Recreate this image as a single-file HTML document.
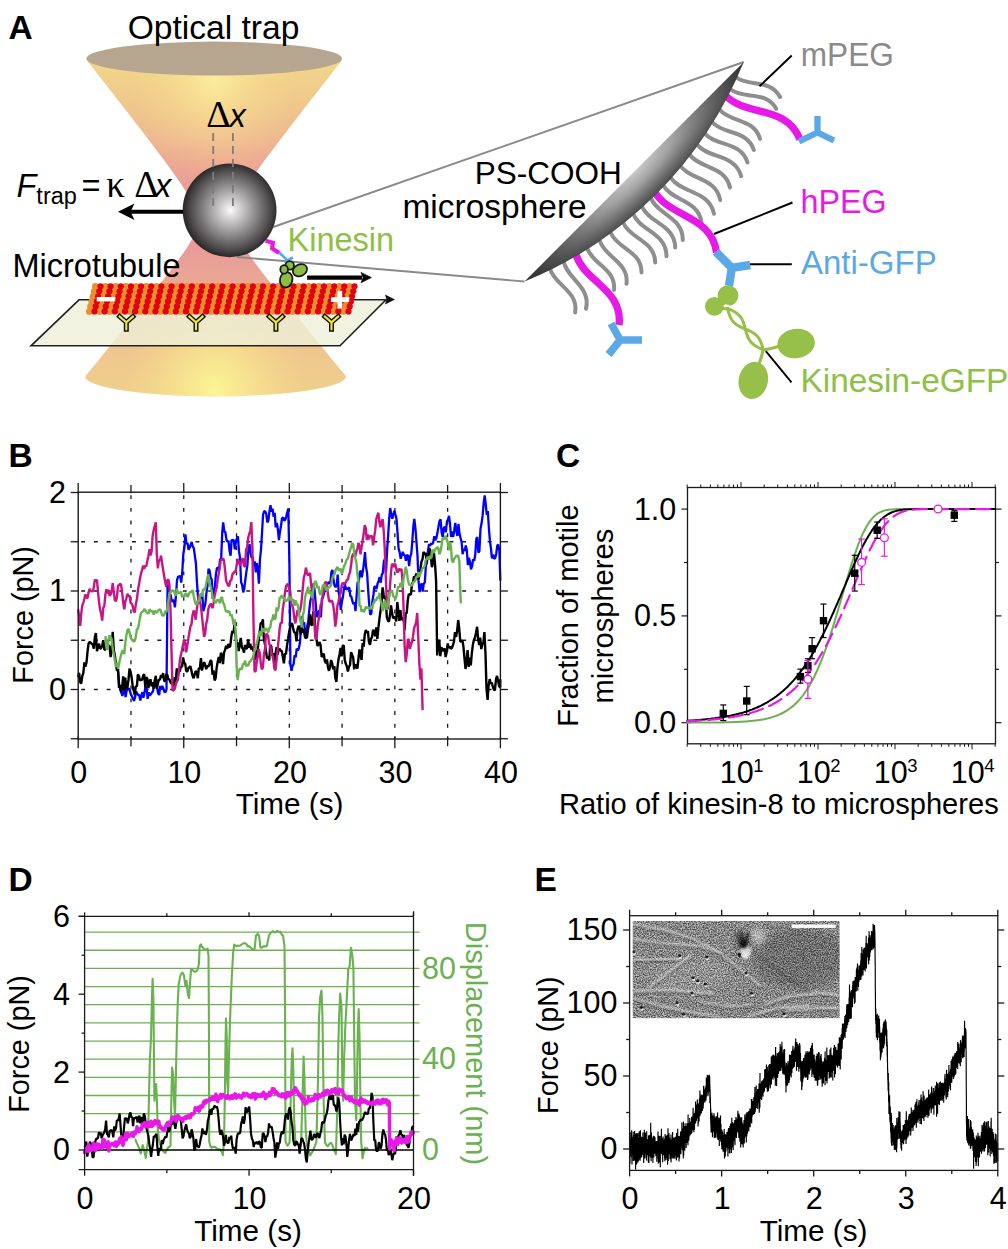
<!DOCTYPE html>
<html><head><meta charset="utf-8"><title>Figure</title>
<style>html,body{margin:0;padding:0;background:#fff;}svg{display:block;}text{font-family:"Liberation Sans",sans-serif;}</style>
</head><body>
<svg width="1008" height="1249" viewBox="0 0 1008 1249">
<text x="8.50" y="39.00" font-size="33.5" fill="#000" text-anchor="start" font-weight="bold" font-style="normal" font-family="Liberation Sans, sans-serif" >A</text>
<text x="8.50" y="467.00" font-size="33.5" fill="#000" text-anchor="start" font-weight="bold" font-style="normal" font-family="Liberation Sans, sans-serif" >B</text>
<text x="556.00" y="467.00" font-size="33.5" fill="#000" text-anchor="start" font-weight="bold" font-style="normal" font-family="Liberation Sans, sans-serif" >C</text>
<text x="8.50" y="891.00" font-size="33.5" fill="#000" text-anchor="start" font-weight="bold" font-style="normal" font-family="Liberation Sans, sans-serif" >D</text>
<text x="534.50" y="891.00" font-size="33.5" fill="#000" text-anchor="start" font-weight="bold" font-style="normal" font-family="Liberation Sans, sans-serif" >E</text>
<defs>
<linearGradient id="coneU" x1="0" y1="60" x2="0" y2="222" gradientUnits="userSpaceOnUse">
 <stop offset="0" stop-color="#f2d68a"/><stop offset="0.25" stop-color="#f0c98c"/><stop offset="0.45" stop-color="#eebb90"/><stop offset="0.6" stop-color="#edab93"/><stop offset="0.75" stop-color="#ea9f97"/><stop offset="1" stop-color="#e8959a"/></linearGradient>
<linearGradient id="coneL" x1="0" y1="395" x2="0" y2="212" gradientUnits="userSpaceOnUse">
 <stop offset="0" stop-color="#efd08c"/><stop offset="0.25" stop-color="#efc68e"/><stop offset="0.45" stop-color="#edb891"/><stop offset="0.6" stop-color="#eba994"/><stop offset="0.75" stop-color="#e99e98"/><stop offset="1" stop-color="#e8959a"/></linearGradient>
<radialGradient id="hlU" cx="214" cy="78" r="84" gradientUnits="userSpaceOnUse" gradientTransform="translate(214 78) scale(1 1.2) translate(-214 -78)">
 <stop offset="0" stop-color="#fdf2a2" stop-opacity="0.85"/><stop offset="0.45" stop-color="#fbe894" stop-opacity="0.4"/><stop offset="1" stop-color="#f8dc88" stop-opacity="0"/></radialGradient>
<radialGradient id="hlL" cx="215" cy="390" r="92" gradientUnits="userSpaceOnUse" gradientTransform="translate(215 390) scale(1 1.1) translate(-215 -390)">
 <stop offset="0" stop-color="#fcf596" stop-opacity="1"/><stop offset="0.45" stop-color="#fbec90" stop-opacity="0.55"/><stop offset="1" stop-color="#f8dc88" stop-opacity="0"/></radialGradient>
<radialGradient id="sph" cx="230.5" cy="210" r="47" gradientUnits="userSpaceOnUse">
 <stop offset="0" stop-color="#fbfbfb"/><stop offset="0.25" stop-color="#c8c6c6"/><stop offset="0.55" stop-color="#8a8888"/><stop offset="0.85" stop-color="#4c4a4a"/><stop offset="1" stop-color="#2a2828"/></radialGradient>
<radialGradient id="lensG" cx="0" cy="0" r="165" gradientUnits="userSpaceOnUse" gradientTransform="translate(636 170) rotate(-45) scale(1 0.25)">
 <stop offset="0" stop-color="#cacaca"/><stop offset="0.3" stop-color="#a2a2a2"/><stop offset="0.6" stop-color="#686868"/><stop offset="0.85" stop-color="#3c3c3c"/><stop offset="1" stop-color="#2c2c2c"/></radialGradient>
<radialGradient id="lensD" cx="630" cy="168" r="165" gradientUnits="userSpaceOnUse">
 <stop offset="0" stop-color="#222" stop-opacity="0"/><stop offset="0.45" stop-color="#222" stop-opacity="0.05"/><stop offset="1" stop-color="#222" stop-opacity="0.95"/></radialGradient>
<clipPath id="clU"><path d="M86.6,60.0 L89.7,64.0 L92.9,68.0 L96.0,72.0 L99.1,76.0 L102.2,80.0 L105.4,84.0 L108.5,88.0 L111.6,92.0 L114.7,96.0 L117.9,100.0 L121.0,104.0 L124.1,108.0 L127.2,112.0 L130.3,116.0 L133.4,120.0 L136.5,124.0 L139.6,128.0 L142.6,132.0 L145.7,136.0 L148.8,140.0 L151.8,144.0 L154.8,148.0 L157.9,152.0 L160.9,156.0 L163.9,160.0 L166.8,164.0 L169.8,168.0 L172.7,172.0 L175.5,176.0 L178.3,180.0 L181.1,184.0 L183.7,188.0 L186.3,192.0 L188.7,196.0 L191.0,200.0 L193.0,204.0 L194.7,208.0 L196.0,212.0 L196.8,216.0 L197.1,220.0 L231.7,220.0 L232.0,216.0 L232.8,212.0 L234.1,208.0 L235.8,204.0 L237.8,200.0 L240.1,196.0 L242.5,192.0 L245.1,188.0 L247.7,184.0 L250.5,180.0 L253.3,176.0 L256.1,172.0 L259.0,168.0 L262.0,164.0 L264.9,160.0 L267.9,156.0 L270.9,152.0 L274.0,148.0 L277.0,144.0 L280.0,140.0 L283.1,136.0 L286.2,132.0 L289.2,128.0 L292.3,124.0 L295.4,120.0 L298.5,116.0 L301.6,112.0 L304.7,108.0 L307.8,104.0 L310.9,100.0 L314.1,96.0 L317.2,92.0 L320.3,88.0 L323.4,84.0 L326.6,80.0 L329.7,76.0 L332.8,72.0 L335.9,68.0 L339.1,64.0 L342.2,60.0 Z"/></clipPath>
<clipPath id="clL"><path d="M232.9,220.0 L233.2,223.9 L234.1,227.8 L235.4,231.7 L237.2,235.7 L239.3,239.6 L241.6,243.5 L244.1,247.4 L246.7,251.3 L249.5,255.2 L252.3,259.1 L255.2,263.0 L258.1,266.9 L261.1,270.9 L264.1,274.8 L267.1,278.7 L270.1,282.6 L273.2,286.5 L276.3,290.4 L279.4,294.3 L282.5,298.2 L285.7,302.2 L288.8,306.1 L292.0,310.0 L295.1,313.9 L298.3,317.8 L301.4,321.7 L304.6,325.6 L307.8,329.6 L310.9,333.5 L314.1,337.4 L317.3,341.3 L320.5,345.2 L323.7,349.1 L326.9,353.0 L330.1,356.9 L333.3,360.9 L336.5,364.8 L339.7,368.7 L342.9,372.6 L346.1,376.5 A130.5,19.8 0 0 1 85.1,376.5 L85.1,376.5 L88.3,372.6 L91.5,368.7 L94.7,364.8 L97.9,360.9 L101.1,356.9 L104.3,353.0 L107.5,349.1 L110.7,345.2 L113.9,341.3 L117.1,337.4 L120.3,333.5 L123.4,329.6 L126.6,325.6 L129.8,321.7 L132.9,317.8 L136.1,313.9 L139.2,310.0 L142.4,306.1 L145.5,302.2 L148.7,298.2 L151.8,294.3 L154.9,290.4 L158.0,286.5 L161.1,282.6 L164.1,278.7 L167.1,274.8 L170.1,270.9 L173.1,266.9 L176.0,263.0 L178.9,259.1 L181.7,255.2 L184.5,251.3 L187.1,247.4 L189.6,243.5 L191.9,239.6 L194.0,235.7 L195.8,231.7 L197.1,227.8 L198.0,223.9 L198.3,220.0 Z"/></clipPath>
<clipPath id="clMT"><rect x="85" y="282.5" width="274.5" height="32.2" rx="8"/></clipPath>
</defs>
<path d="M232.9,220.0 L233.2,223.9 L234.1,227.8 L235.4,231.7 L237.2,235.7 L239.3,239.6 L241.6,243.5 L244.1,247.4 L246.7,251.3 L249.5,255.2 L252.3,259.1 L255.2,263.0 L258.1,266.9 L261.1,270.9 L264.1,274.8 L267.1,278.7 L270.1,282.6 L273.2,286.5 L276.3,290.4 L279.4,294.3 L282.5,298.2 L285.7,302.2 L288.8,306.1 L292.0,310.0 L295.1,313.9 L298.3,317.8 L301.4,321.7 L304.6,325.6 L307.8,329.6 L310.9,333.5 L314.1,337.4 L317.3,341.3 L320.5,345.2 L323.7,349.1 L326.9,353.0 L330.1,356.9 L333.3,360.9 L336.5,364.8 L339.7,368.7 L342.9,372.6 L346.1,376.5 A130.5,19.8 0 0 1 85.1,376.5 L85.1,376.5 L88.3,372.6 L91.5,368.7 L94.7,364.8 L97.9,360.9 L101.1,356.9 L104.3,353.0 L107.5,349.1 L110.7,345.2 L113.9,341.3 L117.1,337.4 L120.3,333.5 L123.4,329.6 L126.6,325.6 L129.8,321.7 L132.9,317.8 L136.1,313.9 L139.2,310.0 L142.4,306.1 L145.5,302.2 L148.7,298.2 L151.8,294.3 L154.9,290.4 L158.0,286.5 L161.1,282.6 L164.1,278.7 L167.1,274.8 L170.1,270.9 L173.1,266.9 L176.0,263.0 L178.9,259.1 L181.7,255.2 L184.5,251.3 L187.1,247.4 L189.6,243.5 L191.9,239.6 L194.0,235.7 L195.8,231.7 L197.1,227.8 L198.0,223.9 L198.3,220.0 Z" fill="url(#coneL)"/>
<rect x="80" y="205" width="270" height="195" fill="url(#hlL)" clip-path="url(#clL)"/>
<path d="M79,299.8 L386,299.8 L340,345.8 L31,345.8 Z" fill="#eef0d8" fill-opacity="0.8" stroke="#222" stroke-width="1.6" stroke-linejoin="miter"/>
<path d="M395,299.6 L385,294.6 L386.5,299.6 L385,304.6 Z" fill="#111"/>
<path d="M86.6,60.0 L89.7,64.0 L92.9,68.0 L96.0,72.0 L99.1,76.0 L102.2,80.0 L105.4,84.0 L108.5,88.0 L111.6,92.0 L114.7,96.0 L117.9,100.0 L121.0,104.0 L124.1,108.0 L127.2,112.0 L130.3,116.0 L133.4,120.0 L136.5,124.0 L139.6,128.0 L142.6,132.0 L145.7,136.0 L148.8,140.0 L151.8,144.0 L154.8,148.0 L157.9,152.0 L160.9,156.0 L163.9,160.0 L166.8,164.0 L169.8,168.0 L172.7,172.0 L175.5,176.0 L178.3,180.0 L181.1,184.0 L183.7,188.0 L186.3,192.0 L188.7,196.0 L191.0,200.0 L193.0,204.0 L194.7,208.0 L196.0,212.0 L196.8,216.0 L197.1,220.0 L231.7,220.0 L232.0,216.0 L232.8,212.0 L234.1,208.0 L235.8,204.0 L237.8,200.0 L240.1,196.0 L242.5,192.0 L245.1,188.0 L247.7,184.0 L250.5,180.0 L253.3,176.0 L256.1,172.0 L259.0,168.0 L262.0,164.0 L264.9,160.0 L267.9,156.0 L270.9,152.0 L274.0,148.0 L277.0,144.0 L280.0,140.0 L283.1,136.0 L286.2,132.0 L289.2,128.0 L292.3,124.0 L295.4,120.0 L298.5,116.0 L301.6,112.0 L304.7,108.0 L307.8,104.0 L310.9,100.0 L314.1,96.0 L317.2,92.0 L320.3,88.0 L323.4,84.0 L326.6,80.0 L329.7,76.0 L332.8,72.0 L335.9,68.0 L339.1,64.0 L342.2,60.0 Z" fill="url(#coneU)"/>
<rect x="80" y="55" width="270" height="170" fill="url(#hlU)" clip-path="url(#clU)"/>
<ellipse cx="214.2" cy="58.6" rx="127.8" ry="17" fill="#b6a68f"/>
<line x1="273.30" y1="227.00" x2="743.75" y2="62.00" stroke="#8a8a8a" stroke-width="1.9" />
<line x1="237.00" y1="257.00" x2="524.50" y2="281.50" stroke="#8a8a8a" stroke-width="1.9" />
<circle cx="229.6" cy="210.3" r="46.9" fill="url(#sph)"/>
<line x1="213.20" y1="133.00" x2="213.20" y2="210.50" stroke="#7c7c7c" stroke-width="1.8" stroke-dasharray="8,5"/>
<line x1="232.90" y1="133.00" x2="232.90" y2="210.50" stroke="#7c7c7c" stroke-width="1.8" stroke-dasharray="8,5"/>
<line x1="183.00" y1="211.70" x2="128.00" y2="211.70" stroke="#000" stroke-width="4" />
<path d="M118,211.7 L134.5,203.5 L130.5,211.7 L134.5,220 Z" fill="#000"/>
<g fill="#e98f2b"><circle cx="95.4" cy="286.3" r="3.4"/><circle cx="94.2" cy="291.3" r="3.4"/><circle cx="93.0" cy="296.3" r="3.4"/><circle cx="91.8" cy="301.4" r="3.4"/><circle cx="90.6" cy="306.4" r="3.4"/><circle cx="89.4" cy="311.4" r="3.4"/><circle cx="105.6" cy="286.3" r="3.4"/><circle cx="104.4" cy="291.3" r="3.4"/><circle cx="103.2" cy="296.3" r="3.4"/><circle cx="102.0" cy="301.4" r="3.4"/><circle cx="100.8" cy="306.4" r="3.4"/><circle cx="99.6" cy="311.4" r="3.4"/><circle cx="115.7" cy="286.3" r="3.4"/><circle cx="114.5" cy="291.3" r="3.4"/><circle cx="113.3" cy="296.3" r="3.4"/><circle cx="112.1" cy="301.4" r="3.4"/><circle cx="110.9" cy="306.4" r="3.4"/><circle cx="109.7" cy="311.4" r="3.4"/><circle cx="125.9" cy="286.3" r="3.4"/><circle cx="124.7" cy="291.3" r="3.4"/><circle cx="123.5" cy="296.3" r="3.4"/><circle cx="122.3" cy="301.4" r="3.4"/><circle cx="121.1" cy="306.4" r="3.4"/><circle cx="119.9" cy="311.4" r="3.4"/><circle cx="136.0" cy="286.3" r="3.4"/><circle cx="134.8" cy="291.3" r="3.4"/><circle cx="133.6" cy="296.3" r="3.4"/><circle cx="132.4" cy="301.4" r="3.4"/><circle cx="131.2" cy="306.4" r="3.4"/><circle cx="130.0" cy="311.4" r="3.4"/><circle cx="146.2" cy="286.3" r="3.4"/><circle cx="145.0" cy="291.3" r="3.4"/><circle cx="143.8" cy="296.3" r="3.4"/><circle cx="142.6" cy="301.4" r="3.4"/><circle cx="141.4" cy="306.4" r="3.4"/><circle cx="140.2" cy="311.4" r="3.4"/><circle cx="156.4" cy="286.3" r="3.4"/><circle cx="155.2" cy="291.3" r="3.4"/><circle cx="154.0" cy="296.3" r="3.4"/><circle cx="152.8" cy="301.4" r="3.4"/><circle cx="151.6" cy="306.4" r="3.4"/><circle cx="150.4" cy="311.4" r="3.4"/><circle cx="166.5" cy="286.3" r="3.4"/><circle cx="165.3" cy="291.3" r="3.4"/><circle cx="164.1" cy="296.3" r="3.4"/><circle cx="162.9" cy="301.4" r="3.4"/><circle cx="161.7" cy="306.4" r="3.4"/><circle cx="160.5" cy="311.4" r="3.4"/><circle cx="176.7" cy="286.3" r="3.4"/><circle cx="175.5" cy="291.3" r="3.4"/><circle cx="174.3" cy="296.3" r="3.4"/><circle cx="173.1" cy="301.4" r="3.4"/><circle cx="171.9" cy="306.4" r="3.4"/><circle cx="170.7" cy="311.4" r="3.4"/><circle cx="186.8" cy="286.3" r="3.4"/><circle cx="185.6" cy="291.3" r="3.4"/><circle cx="184.4" cy="296.3" r="3.4"/><circle cx="183.2" cy="301.4" r="3.4"/><circle cx="182.0" cy="306.4" r="3.4"/><circle cx="180.8" cy="311.4" r="3.4"/><circle cx="197.0" cy="286.3" r="3.4"/><circle cx="195.8" cy="291.3" r="3.4"/><circle cx="194.6" cy="296.3" r="3.4"/><circle cx="193.4" cy="301.4" r="3.4"/><circle cx="192.2" cy="306.4" r="3.4"/><circle cx="191.0" cy="311.4" r="3.4"/><circle cx="207.2" cy="286.3" r="3.4"/><circle cx="206.0" cy="291.3" r="3.4"/><circle cx="204.8" cy="296.3" r="3.4"/><circle cx="203.6" cy="301.4" r="3.4"/><circle cx="202.4" cy="306.4" r="3.4"/><circle cx="201.2" cy="311.4" r="3.4"/><circle cx="217.3" cy="286.3" r="3.4"/><circle cx="216.1" cy="291.3" r="3.4"/><circle cx="214.9" cy="296.3" r="3.4"/><circle cx="213.7" cy="301.4" r="3.4"/><circle cx="212.5" cy="306.4" r="3.4"/><circle cx="211.3" cy="311.4" r="3.4"/><circle cx="227.5" cy="286.3" r="3.4"/><circle cx="226.3" cy="291.3" r="3.4"/><circle cx="225.1" cy="296.3" r="3.4"/><circle cx="223.9" cy="301.4" r="3.4"/><circle cx="222.7" cy="306.4" r="3.4"/><circle cx="221.5" cy="311.4" r="3.4"/><circle cx="237.6" cy="286.3" r="3.4"/><circle cx="236.4" cy="291.3" r="3.4"/><circle cx="235.2" cy="296.3" r="3.4"/><circle cx="234.0" cy="301.4" r="3.4"/><circle cx="232.8" cy="306.4" r="3.4"/><circle cx="231.6" cy="311.4" r="3.4"/><circle cx="247.8" cy="286.3" r="3.4"/><circle cx="246.6" cy="291.3" r="3.4"/><circle cx="245.4" cy="296.3" r="3.4"/><circle cx="244.2" cy="301.4" r="3.4"/><circle cx="243.0" cy="306.4" r="3.4"/><circle cx="241.8" cy="311.4" r="3.4"/><circle cx="258.0" cy="286.3" r="3.4"/><circle cx="256.8" cy="291.3" r="3.4"/><circle cx="255.6" cy="296.3" r="3.4"/><circle cx="254.4" cy="301.4" r="3.4"/><circle cx="253.2" cy="306.4" r="3.4"/><circle cx="252.0" cy="311.4" r="3.4"/><circle cx="268.1" cy="286.3" r="3.4"/><circle cx="266.9" cy="291.3" r="3.4"/><circle cx="265.7" cy="296.3" r="3.4"/><circle cx="264.5" cy="301.4" r="3.4"/><circle cx="263.3" cy="306.4" r="3.4"/><circle cx="262.1" cy="311.4" r="3.4"/><circle cx="278.3" cy="286.3" r="3.4"/><circle cx="277.1" cy="291.3" r="3.4"/><circle cx="275.9" cy="296.3" r="3.4"/><circle cx="274.7" cy="301.4" r="3.4"/><circle cx="273.5" cy="306.4" r="3.4"/><circle cx="272.3" cy="311.4" r="3.4"/><circle cx="288.4" cy="286.3" r="3.4"/><circle cx="287.2" cy="291.3" r="3.4"/><circle cx="286.0" cy="296.3" r="3.4"/><circle cx="284.8" cy="301.4" r="3.4"/><circle cx="283.6" cy="306.4" r="3.4"/><circle cx="282.4" cy="311.4" r="3.4"/><circle cx="298.6" cy="286.3" r="3.4"/><circle cx="297.4" cy="291.3" r="3.4"/><circle cx="296.2" cy="296.3" r="3.4"/><circle cx="295.0" cy="301.4" r="3.4"/><circle cx="293.8" cy="306.4" r="3.4"/><circle cx="292.6" cy="311.4" r="3.4"/><circle cx="308.8" cy="286.3" r="3.4"/><circle cx="307.6" cy="291.3" r="3.4"/><circle cx="306.4" cy="296.3" r="3.4"/><circle cx="305.2" cy="301.4" r="3.4"/><circle cx="304.0" cy="306.4" r="3.4"/><circle cx="302.8" cy="311.4" r="3.4"/><circle cx="318.9" cy="286.3" r="3.4"/><circle cx="317.7" cy="291.3" r="3.4"/><circle cx="316.5" cy="296.3" r="3.4"/><circle cx="315.3" cy="301.4" r="3.4"/><circle cx="314.1" cy="306.4" r="3.4"/><circle cx="312.9" cy="311.4" r="3.4"/><circle cx="329.1" cy="286.3" r="3.4"/><circle cx="327.9" cy="291.3" r="3.4"/><circle cx="326.7" cy="296.3" r="3.4"/><circle cx="325.5" cy="301.4" r="3.4"/><circle cx="324.3" cy="306.4" r="3.4"/><circle cx="323.1" cy="311.4" r="3.4"/><circle cx="339.2" cy="286.3" r="3.4"/><circle cx="338.0" cy="291.3" r="3.4"/><circle cx="336.8" cy="296.3" r="3.4"/><circle cx="335.6" cy="301.4" r="3.4"/><circle cx="334.4" cy="306.4" r="3.4"/><circle cx="333.2" cy="311.4" r="3.4"/><circle cx="349.4" cy="286.3" r="3.4"/><circle cx="348.2" cy="291.3" r="3.4"/><circle cx="347.0" cy="296.3" r="3.4"/><circle cx="345.8" cy="301.4" r="3.4"/><circle cx="344.6" cy="306.4" r="3.4"/><circle cx="343.4" cy="311.4" r="3.4"/></g><g fill="#e3000f"><circle cx="100.5" cy="286.3" r="3.1"/><circle cx="99.3" cy="291.3" r="3.1"/><circle cx="98.1" cy="296.3" r="3.1"/><circle cx="96.9" cy="301.4" r="3.1"/><circle cx="95.7" cy="306.4" r="3.1"/><circle cx="94.5" cy="311.4" r="3.1"/><circle cx="110.6" cy="286.3" r="3.1"/><circle cx="109.4" cy="291.3" r="3.1"/><circle cx="108.2" cy="296.3" r="3.1"/><circle cx="107.0" cy="301.4" r="3.1"/><circle cx="105.8" cy="306.4" r="3.1"/><circle cx="104.6" cy="311.4" r="3.1"/><circle cx="120.8" cy="286.3" r="3.1"/><circle cx="119.6" cy="291.3" r="3.1"/><circle cx="118.4" cy="296.3" r="3.1"/><circle cx="117.2" cy="301.4" r="3.1"/><circle cx="116.0" cy="306.4" r="3.1"/><circle cx="114.8" cy="311.4" r="3.1"/><circle cx="131.0" cy="286.3" r="3.1"/><circle cx="129.8" cy="291.3" r="3.1"/><circle cx="128.6" cy="296.3" r="3.1"/><circle cx="127.4" cy="301.4" r="3.1"/><circle cx="126.2" cy="306.4" r="3.1"/><circle cx="125.0" cy="311.4" r="3.1"/><circle cx="141.1" cy="286.3" r="3.1"/><circle cx="139.9" cy="291.3" r="3.1"/><circle cx="138.7" cy="296.3" r="3.1"/><circle cx="137.5" cy="301.4" r="3.1"/><circle cx="136.3" cy="306.4" r="3.1"/><circle cx="135.1" cy="311.4" r="3.1"/><circle cx="151.3" cy="286.3" r="3.1"/><circle cx="150.1" cy="291.3" r="3.1"/><circle cx="148.9" cy="296.3" r="3.1"/><circle cx="147.7" cy="301.4" r="3.1"/><circle cx="146.5" cy="306.4" r="3.1"/><circle cx="145.3" cy="311.4" r="3.1"/><circle cx="161.4" cy="286.3" r="3.1"/><circle cx="160.2" cy="291.3" r="3.1"/><circle cx="159.0" cy="296.3" r="3.1"/><circle cx="157.8" cy="301.4" r="3.1"/><circle cx="156.6" cy="306.4" r="3.1"/><circle cx="155.4" cy="311.4" r="3.1"/><circle cx="171.6" cy="286.3" r="3.1"/><circle cx="170.4" cy="291.3" r="3.1"/><circle cx="169.2" cy="296.3" r="3.1"/><circle cx="168.0" cy="301.4" r="3.1"/><circle cx="166.8" cy="306.4" r="3.1"/><circle cx="165.6" cy="311.4" r="3.1"/><circle cx="181.8" cy="286.3" r="3.1"/><circle cx="180.6" cy="291.3" r="3.1"/><circle cx="179.4" cy="296.3" r="3.1"/><circle cx="178.2" cy="301.4" r="3.1"/><circle cx="177.0" cy="306.4" r="3.1"/><circle cx="175.8" cy="311.4" r="3.1"/><circle cx="191.9" cy="286.3" r="3.1"/><circle cx="190.7" cy="291.3" r="3.1"/><circle cx="189.5" cy="296.3" r="3.1"/><circle cx="188.3" cy="301.4" r="3.1"/><circle cx="187.1" cy="306.4" r="3.1"/><circle cx="185.9" cy="311.4" r="3.1"/><circle cx="202.1" cy="286.3" r="3.1"/><circle cx="200.9" cy="291.3" r="3.1"/><circle cx="199.7" cy="296.3" r="3.1"/><circle cx="198.5" cy="301.4" r="3.1"/><circle cx="197.3" cy="306.4" r="3.1"/><circle cx="196.1" cy="311.4" r="3.1"/><circle cx="212.2" cy="286.3" r="3.1"/><circle cx="211.0" cy="291.3" r="3.1"/><circle cx="209.8" cy="296.3" r="3.1"/><circle cx="208.6" cy="301.4" r="3.1"/><circle cx="207.4" cy="306.4" r="3.1"/><circle cx="206.2" cy="311.4" r="3.1"/><circle cx="222.4" cy="286.3" r="3.1"/><circle cx="221.2" cy="291.3" r="3.1"/><circle cx="220.0" cy="296.3" r="3.1"/><circle cx="218.8" cy="301.4" r="3.1"/><circle cx="217.6" cy="306.4" r="3.1"/><circle cx="216.4" cy="311.4" r="3.1"/><circle cx="232.6" cy="286.3" r="3.1"/><circle cx="231.4" cy="291.3" r="3.1"/><circle cx="230.2" cy="296.3" r="3.1"/><circle cx="229.0" cy="301.4" r="3.1"/><circle cx="227.8" cy="306.4" r="3.1"/><circle cx="226.6" cy="311.4" r="3.1"/><circle cx="242.7" cy="286.3" r="3.1"/><circle cx="241.5" cy="291.3" r="3.1"/><circle cx="240.3" cy="296.3" r="3.1"/><circle cx="239.1" cy="301.4" r="3.1"/><circle cx="237.9" cy="306.4" r="3.1"/><circle cx="236.7" cy="311.4" r="3.1"/><circle cx="252.9" cy="286.3" r="3.1"/><circle cx="251.7" cy="291.3" r="3.1"/><circle cx="250.5" cy="296.3" r="3.1"/><circle cx="249.3" cy="301.4" r="3.1"/><circle cx="248.1" cy="306.4" r="3.1"/><circle cx="246.9" cy="311.4" r="3.1"/><circle cx="263.0" cy="286.3" r="3.1"/><circle cx="261.8" cy="291.3" r="3.1"/><circle cx="260.6" cy="296.3" r="3.1"/><circle cx="259.4" cy="301.4" r="3.1"/><circle cx="258.2" cy="306.4" r="3.1"/><circle cx="257.0" cy="311.4" r="3.1"/><circle cx="273.2" cy="286.3" r="3.1"/><circle cx="272.0" cy="291.3" r="3.1"/><circle cx="270.8" cy="296.3" r="3.1"/><circle cx="269.6" cy="301.4" r="3.1"/><circle cx="268.4" cy="306.4" r="3.1"/><circle cx="267.2" cy="311.4" r="3.1"/><circle cx="283.4" cy="286.3" r="3.1"/><circle cx="282.2" cy="291.3" r="3.1"/><circle cx="281.0" cy="296.3" r="3.1"/><circle cx="279.8" cy="301.4" r="3.1"/><circle cx="278.6" cy="306.4" r="3.1"/><circle cx="277.4" cy="311.4" r="3.1"/><circle cx="293.5" cy="286.3" r="3.1"/><circle cx="292.3" cy="291.3" r="3.1"/><circle cx="291.1" cy="296.3" r="3.1"/><circle cx="289.9" cy="301.4" r="3.1"/><circle cx="288.7" cy="306.4" r="3.1"/><circle cx="287.5" cy="311.4" r="3.1"/><circle cx="303.7" cy="286.3" r="3.1"/><circle cx="302.5" cy="291.3" r="3.1"/><circle cx="301.3" cy="296.3" r="3.1"/><circle cx="300.1" cy="301.4" r="3.1"/><circle cx="298.9" cy="306.4" r="3.1"/><circle cx="297.7" cy="311.4" r="3.1"/><circle cx="313.8" cy="286.3" r="3.1"/><circle cx="312.6" cy="291.3" r="3.1"/><circle cx="311.4" cy="296.3" r="3.1"/><circle cx="310.2" cy="301.4" r="3.1"/><circle cx="309.0" cy="306.4" r="3.1"/><circle cx="307.8" cy="311.4" r="3.1"/><circle cx="324.0" cy="286.3" r="3.1"/><circle cx="322.8" cy="291.3" r="3.1"/><circle cx="321.6" cy="296.3" r="3.1"/><circle cx="320.4" cy="301.4" r="3.1"/><circle cx="319.2" cy="306.4" r="3.1"/><circle cx="318.0" cy="311.4" r="3.1"/><circle cx="334.2" cy="286.3" r="3.1"/><circle cx="333.0" cy="291.3" r="3.1"/><circle cx="331.8" cy="296.3" r="3.1"/><circle cx="330.6" cy="301.4" r="3.1"/><circle cx="329.4" cy="306.4" r="3.1"/><circle cx="328.2" cy="311.4" r="3.1"/><circle cx="344.3" cy="286.3" r="3.1"/><circle cx="343.1" cy="291.3" r="3.1"/><circle cx="341.9" cy="296.3" r="3.1"/><circle cx="340.7" cy="301.4" r="3.1"/><circle cx="339.5" cy="306.4" r="3.1"/><circle cx="338.3" cy="311.4" r="3.1"/><circle cx="354.5" cy="286.3" r="3.1"/><circle cx="353.3" cy="291.3" r="3.1"/><circle cx="352.1" cy="296.3" r="3.1"/><circle cx="350.9" cy="301.4" r="3.1"/><circle cx="349.7" cy="306.4" r="3.1"/><circle cx="348.5" cy="311.4" r="3.1"/></g>
<rect x="96.7" y="297" width="18.5" height="4.4" fill="#fff"/>
<rect x="331" y="297.2" width="18.2" height="4.8" fill="#fff"/><rect x="337.4" y="290.8" width="4.8" height="17.8" fill="#fff"/>
<path d="M119.7,316.6 L126.3,322.3 L132.9,316.6 M126.3,322 L126.3,329.2" fill="none" stroke="#111" stroke-width="5.0" stroke-linecap="square" stroke-linejoin="miter"/>
<path d="M119.7,316.6 L126.3,322.3 L132.9,316.6 M126.3,322 L126.3,329.2" fill="none" stroke="#f6e82e" stroke-width="2.1" stroke-linecap="square" stroke-linejoin="miter"/>
<path d="M189.4,316.6 L196,322.3 L202.6,316.6 M196,322 L196,329.2" fill="none" stroke="#111" stroke-width="5.0" stroke-linecap="square" stroke-linejoin="miter"/>
<path d="M189.4,316.6 L196,322.3 L202.6,316.6 M196,322 L196,329.2" fill="none" stroke="#f6e82e" stroke-width="2.1" stroke-linecap="square" stroke-linejoin="miter"/>
<path d="M269.29999999999995,316.6 L275.9,322.3 L282.5,316.6 M275.9,322 L275.9,329.2" fill="none" stroke="#111" stroke-width="5.0" stroke-linecap="square" stroke-linejoin="miter"/>
<path d="M269.29999999999995,316.6 L275.9,322.3 L282.5,316.6 M275.9,322 L275.9,329.2" fill="none" stroke="#f6e82e" stroke-width="2.1" stroke-linecap="square" stroke-linejoin="miter"/>
<path d="M324.9,316.6 L331.5,322.3 L338.1,316.6 M331.5,322 L331.5,329.2" fill="none" stroke="#111" stroke-width="5.0" stroke-linecap="square" stroke-linejoin="miter"/>
<path d="M324.9,316.6 L331.5,322.3 L338.1,316.6 M331.5,322 L331.5,329.2" fill="none" stroke="#f6e82e" stroke-width="2.1" stroke-linecap="square" stroke-linejoin="miter"/>
<path d="M265.6,240.8 L272.8,242.8 L272.2,248.4 L279.2,253" fill="none" stroke="#e619e6" stroke-width="4.2" stroke-linejoin="miter"/>
<path d="M279.2,252.6 L286.6,259.4 M284.3,261.9 L293,257.5" fill="none" stroke="#5aa9e6" stroke-width="2.7"/>
<ellipse cx="300" cy="270.2" rx="7.4" ry="5.8" transform="rotate(-25 300 270.2)" fill="#8bbd45" stroke="#151515" stroke-width="1.7"/>
<ellipse cx="286.2" cy="279.7" rx="6.2" ry="7.8" transform="rotate(12 286.2 279.7)" fill="#8bbd45" stroke="#151515" stroke-width="1.7"/>
<ellipse cx="289.7" cy="265.4" rx="4.3" ry="4.3" transform="rotate(0 289.7 265.4)" fill="#8bbd45" stroke="#151515" stroke-width="1.7"/>
<ellipse cx="284.1" cy="269.4" rx="3.8" ry="4.2" transform="rotate(0 284.1 269.4)" fill="#8bbd45" stroke="#151515" stroke-width="1.7"/>
<line x1="307.10" y1="277.60" x2="362.00" y2="277.60" stroke="#000" stroke-width="4.3" />
<path d="M371.4,277.6 L361,272.4 L363,277.6 L361,282.8 Z" fill="#000" stroke="#000" stroke-width="0.6" stroke-linejoin="miter"/>
<path d="M735.8,77.0 C748.6,87.6 770.4,78.3 780.0,97.0" fill="none" stroke="#8e8e8e" stroke-width="4.0" stroke-linecap="round"/>
<path d="M730.8,89.5 C744.0,99.9 766.0,89.9 776.2,108.8" fill="none" stroke="#8e8e8e" stroke-width="4.0" stroke-linecap="round"/>
<path d="M719.5,109.5 C730.2,122.8 754.1,117.9 760.0,138.8" fill="none" stroke="#8e8e8e" stroke-width="4.0" stroke-linecap="round"/>
<path d="M712.0,122.0 C723.3,135.0 747.1,129.2 753.8,150.0" fill="none" stroke="#8e8e8e" stroke-width="4.0" stroke-linecap="round"/>
<path d="M704.5,133.2 C716.1,146.8 740.8,140.9 747.5,162.5" fill="none" stroke="#8e8e8e" stroke-width="4.0" stroke-linecap="round"/>
<path d="M697.0,144.5 C708.7,159.0 734.8,153.5 741.2,176.2" fill="none" stroke="#8e8e8e" stroke-width="4.0" stroke-linecap="round"/>
<path d="M689.5,154.5 C699.9,169.0 725.1,165.3 730.0,187.5" fill="none" stroke="#8e8e8e" stroke-width="4.0" stroke-linecap="round"/>
<path d="M679.6,165.0 C689.9,180.2 715.9,177.1 720.2,200.0" fill="none" stroke="#8e8e8e" stroke-width="4.0" stroke-linecap="round"/>
<path d="M671.0,178.2 C682.0,193.8 709.0,190.1 714.0,213.8" fill="none" stroke="#8e8e8e" stroke-width="4.0" stroke-linecap="round"/>
<path d="M663.5,185.8 C672.7,201.3 698.5,199.7 701.5,222.5" fill="none" stroke="#8e8e8e" stroke-width="4.0" stroke-linecap="round"/>
<path d="M651.0,198.2 C657.7,214.9 683.2,217.2 682.8,240.0" fill="none" stroke="#8e8e8e" stroke-width="4.0" stroke-linecap="round"/>
<path d="M642.2,207.0 C649.5,223.3 675.0,224.8 675.2,247.5" fill="none" stroke="#8e8e8e" stroke-width="4.0" stroke-linecap="round"/>
<path d="M633.5,214.5 C640.6,231.2 666.6,233.1 666.5,256.2" fill="none" stroke="#8e8e8e" stroke-width="4.0" stroke-linecap="round"/>
<path d="M623.5,223.2 C630.4,239.1 655.1,240.6 655.2,262.5" fill="none" stroke="#8e8e8e" stroke-width="4.0" stroke-linecap="round"/>
<path d="M611.0,233.2 C617.5,248.9 641.7,250.9 641.5,272.5" fill="none" stroke="#8e8e8e" stroke-width="4.0" stroke-linecap="round"/>
<path d="M599.8,240.8 C604.7,257.3 629.0,261.9 626.5,283.8" fill="none" stroke="#8e8e8e" stroke-width="4.0" stroke-linecap="round"/>
<path d="M587.2,248.2 C592.3,264.4 616.2,268.6 614.0,290.0" fill="none" stroke="#8e8e8e" stroke-width="4.0" stroke-linecap="round"/>
<path d="M563.5,260.8 C566.6,278.6 591.3,286.4 586.0,308.8" fill="none" stroke="#8e8e8e" stroke-width="4.0" stroke-linecap="round"/>
<path d="M549.8,268.2 C554.2,285.1 578.5,290.6 575.2,312.5" fill="none" stroke="#8e8e8e" stroke-width="4.0" stroke-linecap="round"/>
<path d="M725.8,95.8 C746.3,116.9 786.6,104.6 800.0,139.5" fill="none" stroke="#e619e6" stroke-width="7.3" stroke-linecap="butt"/>
<path d="M654.8,192.0 C669.7,217.5 711.8,215.3 716.5,252.5" fill="none" stroke="#e619e6" stroke-width="7.3" stroke-linecap="butt"/>
<path d="M576.0,254.5 C583.8,281.6 623.4,289.4 619.0,325.0" fill="none" stroke="#e619e6" stroke-width="7.3" stroke-linecap="butt"/>
<path d="M799,141.5 L817.5,132.5 L817.5,116 M817.5,132.5 L834,140.5" fill="none" stroke="#5aa9e6" stroke-width="6.3" stroke-linecap="butt" stroke-linejoin="round"/>
<path d="M715.8,251.8 L731.8,267.8 L750.2,265 M731.8,267.8 L729,285.8" fill="none" stroke="#5aa9e6" stroke-width="8.4" stroke-linecap="butt" stroke-linejoin="round"/>
<path d="M611,323.5 L620.25,340 L642,340 M620.25,340 L608.5,354.5" fill="none" stroke="#5aa9e6" stroke-width="7.6" stroke-linecap="butt" stroke-linejoin="round"/>
<path d="M743.75,62 A397.6,397.6 0 0 1 524.5,281.5 L743.75,62 Z" fill="url(#lensG)"/>
<circle cx="728" cy="295.6" r="10.4" fill="#96c04a"/><circle cx="714.4" cy="306.4" r="9.4" fill="#96c04a"/>
<rect x="724.2" y="304.6" width="4.6" height="4.6" fill="#fff" transform="rotate(10 726.5 307)"/>
<path d="M727.5,308.5 L727.9,310.0 L728.3,311.4 L728.7,312.9 L729.2,314.3 L729.7,315.6 L730.2,316.9 L730.9,318.2 L731.6,319.4 L732.3,320.5 L733.2,321.6 L734.1,322.6 L735.1,323.5 L736.2,324.4 L737.4,325.2 L738.6,325.9 L739.9,326.6 L741.2,327.2 L742.6,327.9 L743.9,328.5 L745.4,329.1 L746.8,329.6 L748.1,330.2 L749.5,330.9 L750.8,331.5 L752.1,332.2 L753.3,332.9 L754.5,333.7 L755.6,334.6 L756.6,335.5 L757.5,336.5 L758.4,337.6 L759.1,338.7 L759.8,339.9 L760.5,341.2 L761.0,342.5 L761.5,343.8 L762.0,345.2 L762.4,346.7 L762.8,348.1 L763.2,349.6" fill="none" stroke="#96c04a" stroke-width="3.0" stroke-linejoin="round" stroke-linecap="round" />
<path d="M727.5,308.5 L728.9,309.1 L730.3,309.7 L731.7,310.3 L733.0,311.0 L734.3,311.6 L735.5,312.4 L736.6,313.2 L737.7,314.0 L738.7,315.0 L739.7,316.0 L740.5,317.0 L741.3,318.1 L742.0,319.3 L742.6,320.6 L743.2,321.9 L743.7,323.3 L744.1,324.7 L744.6,326.1 L745.0,327.6 L745.4,329.1 L745.7,330.5 L746.1,332.0 L746.6,333.4 L747.0,334.8 L747.5,336.2 L748.1,337.5 L748.7,338.8 L749.4,340.0 L750.2,341.1 L751.0,342.1 L752.0,343.1 L753.0,344.1 L754.1,344.9 L755.2,345.7 L756.4,346.5 L757.7,347.1 L759.0,347.8 L760.4,348.4 L761.8,349.0 L763.2,349.6" fill="none" stroke="#96c04a" stroke-width="3.0" stroke-linejoin="round" stroke-linecap="round" />
<path d="M723,308.5 L729,309" stroke="#96c04a" stroke-width="3" fill="none"/>
<path d="M763,349.7 C768,349.5 773,348 779,346.2" fill="none" stroke="#96c04a" stroke-width="3.1"/>
<path d="M763,349.7 C762.5,354 761,358 759.4,363" fill="none" stroke="#96c04a" stroke-width="3.1"/>
<ellipse cx="796.1" cy="343.5" rx="18.8" ry="14.7" transform="rotate(-8 796.1 343.5)" fill="#96c04a"/>
<ellipse cx="753.3" cy="380.3" rx="14.6" ry="18.8" transform="rotate(12 753.3 380.3)" fill="#96c04a"/>
<line x1="791.75" y1="55.50" x2="759.50" y2="86.25" stroke="#000" stroke-width="1.9" />
<line x1="792.50" y1="202.50" x2="714.00" y2="234.00" stroke="#000" stroke-width="1.9" />
<line x1="750.00" y1="264.30" x2="791.80" y2="264.30" stroke="#000" stroke-width="1.9" />
<line x1="765.80" y1="351.10" x2="791.50" y2="382.40" stroke="#000" stroke-width="1.9" />
<text x="213.50" y="38.50" font-size="33.6" fill="#000" text-anchor="middle" font-weight="normal" font-style="normal" font-family="Liberation Sans, sans-serif" >Optical trap</text>
<text x="206.3" y="127.3" font-size="32.5" font-family="Liberation Sans, sans-serif"><tspan style="font-family:'Liberation Serif',serif" font-size="38">Δ</tspan><tspan font-style="italic" x="229.5">x</tspan></text>
<text x="16.5" y="196.7" font-size="32.5" font-family="Liberation Sans, sans-serif"><tspan font-style="italic">F</tspan><tspan font-size="23.5" dy="7">trap</tspan><tspan dy="-7" x="81.5">=</tspan><tspan style="font-family:'Liberation Serif',serif" font-size="37" x="106.3">κ</tspan><tspan style="font-family:'Liberation Serif',serif" font-size="38" x="134.3">Δ</tspan><tspan font-style="italic" x="155">x</tspan></text>
<text x="12.50" y="277.00" font-size="32.5" fill="#000" text-anchor="start" font-weight="normal" font-style="normal" font-family="Liberation Sans, sans-serif" >Microtubule</text>
<text x="287.50" y="250.80" font-size="32.5" fill="#8dc044" text-anchor="start" font-weight="normal" font-style="normal" font-family="Liberation Sans, sans-serif" >Kinesin</text>
<text x="621.80" y="183.50" font-size="31.5" fill="#000" text-anchor="end" font-weight="normal" font-style="normal" font-family="Liberation Sans, sans-serif" >PS-COOH</text>
<text x="494.60" y="217.50" font-size="33.5" fill="#000" text-anchor="middle" font-weight="normal" font-style="normal" font-family="Liberation Sans, sans-serif" >microsphere</text>
<text x="800.80" y="65.70" font-size="32.5" fill="#8a8a8a" text-anchor="start" font-weight="normal" font-style="normal" font-family="Liberation Sans, sans-serif" textLength="93" lengthAdjust="spacingAndGlyphs">mPEG</text>
<text x="800.50" y="212.50" font-size="32.5" fill="#e619e6" text-anchor="start" font-weight="normal" font-style="normal" font-family="Liberation Sans, sans-serif" textLength="86" lengthAdjust="spacingAndGlyphs">hPEG</text>
<text x="801.00" y="273.50" font-size="33.0" fill="#5aa9e6" text-anchor="start" font-weight="normal" font-style="normal" font-family="Liberation Sans, sans-serif" >Anti-GFP</text>
<text x="800.50" y="392.30" font-size="33.4" fill="#8dc044" text-anchor="start" font-weight="normal" font-style="normal" font-family="Liberation Sans, sans-serif" >Kinesin-eGFP</text>
<line x1="130.97" y1="492.20" x2="130.97" y2="739.00" stroke="#1a1a1a" stroke-width="1.3" stroke-dasharray="3.9,8.8" stroke-dashoffset="-3"/>
<line x1="183.75" y1="492.20" x2="183.75" y2="739.00" stroke="#1a1a1a" stroke-width="1.3" stroke-dasharray="3.9,8.8" stroke-dashoffset="-3"/>
<line x1="236.52" y1="492.20" x2="236.52" y2="739.00" stroke="#1a1a1a" stroke-width="1.3" stroke-dasharray="3.9,8.8" stroke-dashoffset="-3"/>
<line x1="289.30" y1="492.20" x2="289.30" y2="739.00" stroke="#1a1a1a" stroke-width="1.3" stroke-dasharray="3.9,8.8" stroke-dashoffset="-3"/>
<line x1="342.07" y1="492.20" x2="342.07" y2="739.00" stroke="#1a1a1a" stroke-width="1.3" stroke-dasharray="3.9,8.8" stroke-dashoffset="-3"/>
<line x1="394.85" y1="492.20" x2="394.85" y2="739.00" stroke="#1a1a1a" stroke-width="1.3" stroke-dasharray="3.9,8.8" stroke-dashoffset="-3"/>
<line x1="447.62" y1="492.20" x2="447.62" y2="739.00" stroke="#1a1a1a" stroke-width="1.3" stroke-dasharray="3.9,8.8" stroke-dashoffset="-3"/>
<line x1="78.20" y1="689.50" x2="500.40" y2="689.50" stroke="#1a1a1a" stroke-width="1.3" stroke-dasharray="3.9,8.8" stroke-dashoffset="-3"/>
<line x1="78.20" y1="640.25" x2="500.40" y2="640.25" stroke="#1a1a1a" stroke-width="1.3" stroke-dasharray="3.9,8.8" stroke-dashoffset="-3"/>
<line x1="78.20" y1="591.00" x2="500.40" y2="591.00" stroke="#1a1a1a" stroke-width="1.3" stroke-dasharray="3.9,8.8" stroke-dashoffset="-3"/>
<line x1="78.20" y1="541.75" x2="500.40" y2="541.75" stroke="#1a1a1a" stroke-width="1.3" stroke-dasharray="3.9,8.8" stroke-dashoffset="-3"/>
<path d="M117.2,669.0 L118.2,672.6 L119.3,686.4 L120.3,689.4 L121.4,693.0 L122.4,696.0 L123.5,691.3 L124.5,688.8 L125.6,697.1 L126.6,690.9 L127.7,689.3 L128.7,688.3 L129.8,690.4 L130.8,694.1 L131.9,696.2 L132.9,698.5 L134.0,700.9 L135.0,697.7 L136.1,691.4 L137.1,693.5 L138.2,695.1 L139.2,695.0 L140.3,700.6 L141.3,695.6 L142.4,692.2 L143.4,697.7 L144.5,692.2 L145.5,686.6 L146.6,688.6 L147.6,698.8 L148.7,692.3 L149.7,695.6 L150.8,694.2 L151.8,692.8 L152.9,691.5 L153.9,686.2 L155.0,684.5 L156.0,686.4 L157.1,687.5 L158.1,693.2 L159.2,695.0 L160.2,685.9 L161.3,689.6 L162.3,685.9 L163.4,688.7 L164.4,691.9 L165.5,692.2 L166.5,689.3 L167.6,582.9 L168.6,597.8 L169.7,594.3 L170.7,595.2 L171.8,601.8 L172.8,600.3 L173.9,600.3 L174.9,607.3 L176.0,595.5 L177.0,580.2 L178.1,576.6 L179.1,576.4 L180.2,576.1 L181.2,582.6 L182.3,571.6 L183.3,554.3 L184.4,547.3 L185.4,534.4 L186.5,544.0 L187.5,542.9 L188.6,549.8 L189.6,547.8 L190.7,544.6 L191.7,541.9 L192.8,546.8 L193.8,548.0 L194.9,556.1 L195.9,563.4 L197.0,582.9 L198.0,597.1 L199.1,599.3 L200.1,597.5 L201.2,598.0 L202.2,592.9 L203.3,611.3 L204.3,607.4 L205.4,603.4 L206.4,593.1 L207.5,585.9 L208.5,568.8 L209.6,570.6 L210.6,577.4 L211.7,579.6 L212.7,598.9 L213.8,592.3 L214.8,587.3 L215.9,574.6 L216.9,568.2 L218.0,567.6 L219.0,570.2 L220.1,558.5 L221.1,560.3 L222.2,533.0 L223.2,522.3 L224.3,531.6 L225.3,531.9 L226.4,539.5 L227.4,541.8 L228.5,540.7 L229.5,550.5 L230.6,555.8 L231.6,539.8 L232.7,540.3 L233.7,539.8 L234.8,549.3 L235.8,542.4 L236.9,538.4 L237.9,536.3 L239.0,551.4 L240.0,557.5 L241.1,582.4 L242.1,584.7 L243.2,592.4 L244.2,589.1 L245.3,580.1 L246.3,572.3 L247.4,565.1 L248.4,550.0 L249.5,544.2 L250.5,552.5 L251.6,557.8 L252.6,556.9 L253.7,565.6 L254.7,561.3 L255.8,572.5 L256.8,563.0 L257.9,569.9 L258.9,583.7 L260.0,559.0 L261.0,549.6 L262.1,531.3 L263.1,514.5 L264.2,511.0 L265.2,511.5 L266.3,514.1 L267.3,522.3 L268.4,520.4 L269.4,511.8 L270.5,505.1 L271.5,511.7 L272.6,508.6 L273.6,516.8 L274.7,512.9 L275.7,527.3 L276.8,523.0 L277.8,528.6 L278.9,540.1 L279.9,532.2 L281.0,526.0 L282.0,518.4 L283.1,517.5 L284.1,520.3 L285.2,519.9 L286.2,516.6 L287.3,512.2 L288.3,508.6 L289.4,563.6 L290.4,664.2 L291.5,670.9 L292.5,665.8 L293.6,664.1 L294.6,655.3 L295.7,657.4 L296.7,648.6 L297.8,650.4 L298.8,648.5 L299.9,643.1 L300.9,629.6 L302.0,616.1 L303.0,624.3 L304.1,622.2 L305.1,633.1 L306.2,636.3 L307.2,626.3 L308.3,620.6 L309.3,610.0 L310.4,600.5 L311.4,597.0 L312.5,593.4 L313.5,583.3 L314.6,590.3 L315.6,602.7 L316.7,616.9 L317.7,615.7 L318.8,611.0 L319.8,611.1 L320.9,617.3 L321.9,598.6 L323.0,597.4 L324.0,593.0 L325.1,590.5 L326.1,584.5 L327.2,584.7 L328.2,582.4 L329.3,582.6 L330.3,583.8 L331.4,572.3 L332.4,569.9 L333.5,580.3 L334.5,585.4 L335.6,587.1 L336.6,585.8 L337.7,574.5 L338.7,592.7 L339.8,599.0 L340.8,609.9 L341.9,601.4 L342.9,597.1 L344.0,588.2 L345.0,584.2 L346.1,589.5 L347.1,589.1 L348.2,588.3 L349.2,587.3 L350.3,596.0 L351.3,596.5 L352.4,601.2 L353.4,604.0 L354.5,602.5 L355.5,611.2 L356.6,595.9 L357.6,582.0 L358.7,582.9 L359.7,572.6 L360.8,570.6 L361.8,577.4 L362.9,570.8 L363.9,563.3 L365.0,552.1 L366.0,566.6 L367.1,573.3 L368.1,589.4 L369.2,604.4 L370.2,614.7 L371.3,613.4 L372.3,601.9 L373.4,595.0 L374.4,586.3 L375.5,586.9 L376.5,589.1 L377.6,583.4 L378.6,580.8 L379.7,577.2 L380.7,582.7 L381.8,574.6 L382.8,573.1 L383.9,561.2 L384.9,558.9 L386.0,572.6 L387.0,552.1 L388.1,536.1 L389.1,519.7 L390.2,508.0 L391.2,514.3 L392.3,518.8 L393.3,514.5 L394.4,510.7 L395.4,514.8 L396.5,518.8 L397.5,532.5 L398.6,548.9 L399.6,551.8 L400.7,558.7 L401.7,555.5 L402.8,551.7 L403.8,555.1 L404.9,555.1 L405.9,560.8 L407.0,555.6 L408.0,555.0 L409.1,566.1 L410.1,557.2 L411.2,553.8 L412.2,543.0 L413.3,526.8 L414.3,518.9 L415.4,528.1 L416.4,541.0 L417.5,555.9 L418.5,580.4 L419.6,592.2 L420.6,585.4 L421.7,583.5 L422.7,591.6 L423.8,583.2 L424.8,582.8 L425.9,565.6 L426.9,562.9 L428.0,550.6 L429.0,544.1 L430.1,545.9 L431.1,543.2 L432.2,544.3 L433.2,542.4 L434.3,536.3 L435.3,540.2 L436.4,538.0 L437.4,533.1 L438.5,526.5 L439.5,521.1 L440.6,519.3 L441.6,532.4 L442.7,537.1 L443.7,528.4 L444.8,526.7 L445.8,532.4 L446.9,521.5 L447.9,520.0 L449.0,515.9 L450.0,524.0 L451.1,537.0 L452.1,531.5 L453.2,536.9 L454.2,530.4 L455.3,522.8 L456.3,530.9 L457.4,535.9 L458.4,524.0 L459.5,533.5 L460.5,537.8 L461.6,541.9 L462.6,554.2 L463.7,548.8 L464.7,550.8 L465.8,545.4 L466.8,550.0 L467.9,565.1 L468.9,557.8 L470.0,561.7 L471.0,569.4 L472.1,566.0 L473.1,559.3 L474.2,560.7 L475.2,555.3 L476.3,539.0 L477.3,537.0 L478.4,552.7 L479.4,551.1 L480.5,528.7 L481.5,523.8 L482.6,515.7 L483.6,503.9 L484.7,495.3 L485.7,504.0 L486.8,515.0 L487.8,511.1 L488.9,528.3 L489.9,540.7 L491.0,548.8 L492.0,558.4 L493.1,554.6 L494.1,558.8 L495.2,557.9 L496.2,554.0 L497.3,545.4 L498.3,544.7 L499.4,551.2 L500.3,580.5" fill="none" stroke="#0000ff" stroke-width="2.3" stroke-linejoin="bevel" stroke-linecap="butt"/>
<path d="M78.1,677.2 L79.1,672.8 L80.2,682.2 L81.2,683.5 L82.3,676.0 L83.3,673.3 L84.4,662.3 L85.4,666.7 L86.5,662.5 L87.5,651.8 L88.6,643.4 L89.6,642.0 L90.7,642.5 L91.7,643.9 L92.8,644.4 L93.8,648.7 L94.9,636.7 L95.9,633.1 L97.0,651.3 L98.0,646.9 L99.1,643.7 L100.1,648.7 L101.2,647.8 L102.2,645.9 L103.3,640.1 L104.3,649.2 L105.4,649.9 L106.4,642.3 L107.5,645.5 L108.5,645.3 L109.6,646.9 L110.6,657.1 L111.7,650.2 L112.7,631.9 L113.8,650.1 L114.8,654.8 L115.9,663.5 L116.9,670.6 L118.0,668.5 L119.0,687.7 L120.1,685.0 L121.1,692.0 L122.2,686.5 L123.2,676.3 L124.3,689.8 L125.3,677.5 L126.4,689.1 L127.4,687.5 L128.5,679.7 L129.5,668.6 L130.6,671.8 L131.6,677.1 L132.7,686.0 L133.7,690.4 L134.8,695.0 L135.8,686.2 L136.9,686.4 L137.9,674.4 L139.0,676.1 L140.0,680.5 L141.1,679.9 L142.1,679.7 L143.2,675.7 L144.2,674.0 L145.3,687.4 L146.3,677.0 L147.4,678.9 L148.4,688.0 L149.5,682.0 L150.5,679.3 L151.6,686.4 L152.6,682.3 L153.7,688.5 L154.7,680.5 L155.8,675.8 L156.8,688.9 L157.9,683.4 L158.9,679.6 L160.0,679.5 L161.0,675.1 L162.1,677.7 L163.1,673.1 L164.2,681.0 L165.2,681.0 L166.3,674.5 L167.3,674.8 L168.4,679.8 L169.4,679.1 L170.5,682.5 L171.5,683.4 L172.6,684.1 L173.6,686.1 L174.7,677.1 L175.7,682.5 L176.8,668.3 L177.8,675.6 L178.9,671.1 L179.9,671.2 L181.0,666.0 L182.0,667.2 L183.1,657.5 L184.1,662.8 L185.2,663.7 L186.2,670.9 L187.3,671.7 L188.3,668.2 L189.4,667.1 L190.4,666.3 L191.5,670.9 L192.5,675.5 L193.6,678.2 L194.6,674.7 L195.7,671.0 L196.7,672.2 L197.8,678.2 L198.8,668.0 L199.9,668.6 L200.9,658.0 L202.0,670.6 L203.0,665.6 L204.1,662.2 L205.1,664.8 L206.2,669.1 L207.2,665.8 L208.3,666.6 L209.3,664.9 L210.4,660.8 L211.4,660.5 L212.5,674.6 L213.5,670.3 L214.6,680.4 L215.6,678.3 L216.7,667.5 L217.7,661.8 L218.8,656.9 L219.8,663.1 L220.9,652.8 L221.9,654.9 L223.0,664.1 L224.0,652.6 L225.1,649.9 L226.1,645.8 L227.2,648.7 L228.2,644.0 L229.3,647.3 L230.3,645.8 L231.4,635.9 L232.4,631.0 L233.5,633.1 L234.5,624.6 L235.6,635.9 L236.6,643.4 L237.7,642.7 L238.7,651.0 L239.8,643.3 L240.8,638.0 L241.9,647.7 L242.9,648.4 L244.0,652.6 L245.0,645.0 L246.1,648.8 L247.1,648.0 L248.2,639.5 L249.2,647.6 L250.3,643.6 L251.3,649.5 L252.4,646.1 L253.4,651.5 L254.5,644.1 L255.5,659.9 L256.6,654.5 L257.6,649.7 L258.7,640.2 L259.7,631.4 L260.8,622.7 L261.8,623.7 L262.9,619.2 L263.9,639.5 L265.0,644.3 L266.0,651.8 L267.1,658.5 L268.1,656.7 L269.2,660.3 L270.2,644.9 L271.3,646.3 L272.3,655.5 L273.4,653.4 L274.4,663.4 L275.5,654.0 L276.5,647.1 L277.6,654.5 L278.6,649.7 L279.7,648.9 L280.7,650.7 L281.8,651.2 L282.8,656.5 L283.9,663.4 L284.9,654.2 L286.0,653.7 L287.0,645.7 L288.1,638.8 L289.1,632.3 L290.2,627.0 L291.2,623.6 L292.3,623.6 L293.3,629.4 L294.4,632.7 L295.4,632.3 L296.5,641.4 L297.5,629.4 L298.6,625.8 L299.6,627.4 L300.7,634.4 L301.7,627.3 L302.8,632.8 L303.8,628.9 L304.9,636.9 L305.9,638.3 L307.0,637.1 L308.0,629.2 L309.1,623.7 L310.1,614.5 L311.2,624.5 L312.2,625.3 L313.3,611.3 L314.3,614.6 L315.4,630.2 L316.4,638.7 L317.5,645.7 L318.5,644.9 L319.6,642.0 L320.6,645.3 L321.7,657.0 L322.7,655.9 L323.8,653.6 L324.8,661.0 L325.9,663.1 L326.9,659.4 L328.0,667.4 L329.0,670.8 L330.1,666.6 L331.1,660.0 L332.2,663.6 L333.2,669.2 L334.3,666.1 L335.3,677.7 L336.4,681.9 L337.4,667.9 L338.5,659.3 L339.5,654.7 L340.6,648.0 L341.6,656.3 L342.7,645.9 L343.7,645.3 L344.8,660.3 L345.8,663.8 L346.9,666.4 L347.9,671.5 L349.0,666.5 L350.0,665.5 L351.1,652.2 L352.1,654.8 L353.2,657.7 L354.2,669.3 L355.3,664.5 L356.3,665.7 L357.4,668.5 L358.4,659.1 L359.5,649.4 L360.5,654.8 L361.6,659.9 L362.6,643.2 L363.7,646.6 L364.7,634.8 L365.8,629.9 L366.8,633.0 L367.9,631.0 L368.9,641.9 L370.0,644.9 L371.0,639.1 L372.1,636.7 L373.1,629.6 L374.2,632.3 L375.2,636.2 L376.3,627.4 L377.3,638.9 L378.4,627.8 L379.4,619.2 L380.5,611.0 L381.5,603.8 L382.6,587.3 L383.6,594.5 L384.7,599.0 L385.7,596.0 L386.8,616.9 L387.8,620.2 L388.9,621.8 L389.9,615.8 L391.0,605.4 L392.0,612.1 L393.1,618.2 L394.1,617.1 L395.2,617.4 L396.2,621.4 L397.3,602.1 L398.3,610.9 L399.4,620.8 L400.4,610.1 L401.5,619.9 L402.5,619.0 L403.6,618.0 L404.6,630.2 L405.7,612.8 L406.7,613.3 L407.8,600.1 L408.8,593.9 L409.9,594.6 L410.9,594.3 L412.0,584.0 L413.0,582.4 L414.1,576.1 L415.1,579.0 L416.2,573.5 L417.2,575.4 L418.3,579.2 L419.3,574.9 L420.4,568.9 L421.4,562.0 L422.5,559.1 L423.5,551.8 L424.6,554.4 L425.6,552.9 L426.7,561.5 L427.7,553.0 L428.8,555.0 L429.8,548.4 L430.9,557.5 L431.9,567.1 L433.0,563.0 L434.0,553.4 L435.1,564.8 L436.1,581.5 L437.2,655.5 L438.2,641.5 L439.3,640.3 L440.3,656.3 L441.4,647.1 L442.4,650.7 L443.5,650.3 L444.5,648.4 L445.6,657.0 L446.6,652.8 L447.7,643.5 L448.7,647.9 L449.8,646.4 L450.8,648.8 L451.9,647.7 L452.9,645.2 L454.0,641.7 L455.0,632.0 L456.1,636.9 L457.1,631.1 L458.2,620.0 L459.2,628.4 L460.3,641.7 L461.3,641.4 L462.4,640.3 L463.4,646.4 L464.5,658.4 L465.5,669.0 L466.6,660.5 L467.6,650.0 L468.7,666.9 L469.7,657.7 L470.8,665.3 L471.8,653.5 L472.9,644.6 L473.9,640.0 L475.0,637.5 L476.0,632.9 L477.1,626.8 L478.1,638.5 L479.2,645.1 L480.2,637.7 L481.3,649.1 L482.3,644.5 L483.4,642.4 L484.4,632.1 L485.5,654.0 L486.5,688.6 L487.6,699.8 L488.6,685.5 L489.7,679.1 L490.7,683.8 L491.8,682.4 L492.8,686.7 L493.9,689.6 L494.9,690.4 L496.0,679.3 L497.0,675.9 L498.1,680.6 L499.1,686.2 L500.2,687.4 L500.3,679.3" fill="none" stroke="#000" stroke-width="2.4" stroke-linejoin="bevel" stroke-linecap="butt"/>
<path d="M78.1,609.3 L79.1,616.0 L80.2,625.8 L81.2,614.1 L82.3,605.2 L83.3,603.2 L84.4,598.8 L85.4,594.3 L86.5,597.7 L87.5,598.1 L88.6,592.3 L89.6,588.7 L90.7,591.4 L91.7,591.4 L92.8,591.1 L93.8,587.2 L94.9,579.6 L95.9,580.4 L97.0,580.1 L98.0,592.1 L99.1,602.4 L100.1,609.8 L101.2,614.0 L102.2,620.6 L103.3,607.6 L104.3,606.5 L105.4,594.4 L106.4,589.2 L107.5,593.4 L108.5,589.7 L109.6,595.9 L110.6,594.5 L111.7,591.2 L112.7,583.2 L113.8,591.7 L114.8,600.1 L115.9,601.1 L116.9,597.5 L118.0,585.6 L119.0,585.2 L120.1,583.7 L121.1,584.8 L122.2,593.0 L123.2,602.7 L124.3,609.3 L125.3,601.4 L126.4,598.3 L127.4,593.7 L128.5,596.5 L129.5,595.1 L130.6,602.8 L131.6,603.6 L132.7,606.1 L133.7,611.3 L134.8,612.4 L135.8,604.4 L136.9,599.3 L137.9,590.7 L139.0,584.2 L140.0,578.4 L141.1,573.1 L142.1,569.9 L143.2,565.6 L144.2,568.9 L145.3,565.5 L146.3,566.4 L147.4,560.3 L148.4,556.2 L149.5,549.2 L150.5,555.4 L151.6,551.2 L152.6,536.1 L153.7,530.0 L154.7,526.0 L155.8,522.3 L156.8,554.5 L157.9,568.3 L158.9,560.1 L160.0,560.5 L161.0,555.6 L162.1,563.4 L163.1,569.8 L164.2,576.3 L165.2,582.0 L166.3,587.0 L167.3,580.5 L168.4,579.5 L169.4,584.4 L170.5,609.3 L171.5,651.1 L172.6,690.8 L173.6,690.3 L174.7,689.0 L175.7,684.7 L176.8,681.4 L177.8,680.0 L178.9,671.1 L179.9,659.9 L181.0,654.2 L182.0,650.3 L183.1,644.4 L184.1,639.9 L185.2,643.4 L186.2,652.4 L187.3,645.1 L188.3,638.9 L189.4,632.3 L190.4,626.4 L191.5,624.4 L192.5,615.2 L193.6,610.4 L194.6,612.8 L195.7,619.7 L196.7,610.2 L197.8,602.4 L198.8,594.4 L199.9,602.0 L200.9,605.7 L202.0,616.4 L203.0,626.7 L204.1,636.8 L205.1,633.9 L206.2,623.6 L207.2,619.6 L208.3,609.4 L209.3,605.9 L210.4,604.1 L211.4,604.3 L212.5,608.2 L213.5,603.7 L214.6,595.9 L215.6,591.1 L216.7,587.6 L217.7,579.4 L218.8,573.4 L219.8,567.2 L220.9,559.2 L221.9,560.3 L223.0,558.2 L224.0,560.8 L225.1,570.5 L226.1,580.6 L227.2,583.2 L228.2,585.9 L229.3,585.5 L230.3,580.8 L231.4,579.8 L232.4,574.4 L233.5,573.1 L234.5,571.7 L235.6,571.5 L236.6,565.6 L237.7,559.1 L238.7,561.1 L239.8,565.3 L240.8,564.0 L241.9,560.0 L242.9,558.2 L244.0,565.8 L245.0,566.9 L246.1,549.1 L247.1,548.0 L248.2,537.7 L249.2,534.0 L250.3,530.5 L251.3,522.1 L252.4,547.1 L253.4,617.1 L254.5,670.8 L255.5,671.8 L256.6,662.8 L257.6,657.0 L258.7,649.0 L259.7,652.7 L260.8,663.5 L261.8,669.4 L262.9,667.7 L263.9,654.7 L265.0,648.7 L266.0,634.3 L267.1,634.0 L268.1,636.2 L269.2,643.9 L270.2,645.9 L271.3,653.6 L272.3,654.8 L273.4,660.2 L274.4,668.7 L275.5,670.3 L276.5,660.6 L277.6,649.3 L278.6,639.9 L279.7,628.3 L280.7,622.8 L281.8,623.1 L282.8,609.1 L283.9,601.9 L284.9,593.1 L286.0,586.4 L287.0,584.5 L288.1,584.2 L289.1,589.0 L290.2,590.6 L291.2,604.2 L292.3,605.8 L293.3,609.4 L294.4,618.9 L295.4,623.4 L296.5,616.4 L297.5,610.1 L298.6,612.0 L299.6,612.0 L300.7,607.6 L301.7,600.5 L302.8,588.2 L303.8,577.4 L304.9,574.2 L305.9,567.6 L307.0,573.0 L308.0,575.7 L309.1,573.9 L310.1,573.1 L311.2,586.0 L312.2,591.3 L313.3,606.0 L314.3,621.7 L315.4,638.5 L316.4,639.3 L317.5,628.1 L318.5,620.2 L319.6,615.8 L320.6,604.7 L321.7,604.2 L322.7,595.3 L323.8,590.1 L324.8,583.5 L325.9,581.7 L326.9,585.2 L328.0,594.3 L329.0,600.9 L330.1,601.8 L331.1,600.3 L332.2,601.4 L333.2,605.2 L334.3,613.3 L335.3,626.7 L336.4,618.7 L337.4,605.8 L338.5,601.5 L339.5,595.9 L340.6,593.3 L341.6,585.8 L342.7,582.7 L343.7,584.3 L344.8,582.9 L345.8,582.7 L346.9,579.6 L347.9,579.8 L349.0,574.5 L350.0,572.7 L351.1,565.0 L352.1,556.5 L353.2,553.7 L354.2,555.7 L355.3,556.6 L356.3,551.2 L357.4,548.6 L358.4,543.0 L359.5,546.0 L360.5,554.4 L361.6,547.0 L362.6,540.8 L363.7,533.8 L364.7,525.1 L365.8,528.4 L366.8,540.1 L367.9,534.5 L368.9,539.3 L370.0,536.6 L371.0,536.0 L372.1,536.3 L373.1,545.3 L374.2,536.7 L375.2,530.2 L376.3,519.1 L377.3,515.6 L378.4,512.8 L379.4,522.4 L380.5,527.2 L381.5,521.5 L382.6,519.2 L383.6,529.4 L384.7,547.8 L385.7,573.8 L386.8,602.6 L387.8,609.4 L388.9,598.6 L389.9,587.7 L391.0,572.2 L392.0,564.0 L393.1,564.5 L394.1,567.1 L395.2,563.4 L396.2,568.4 L397.3,572.5 L398.3,571.4 L399.4,568.5 L400.4,571.0 L401.5,568.8 L402.5,581.1 L403.6,608.7 L404.6,645.9 L405.7,662.1 L406.7,654.6 L407.8,639.7 L408.8,639.5 L409.9,649.0 L410.9,644.5 L412.0,642.1 L413.0,636.5 L414.1,628.2 L415.1,625.5 L416.2,622.2 L417.2,613.0 L418.3,638.6 L419.3,662.6 L420.4,679.6 L421.4,668.3 L422.5,706.4 L422.6,710.1" fill="none" stroke="#c71585" stroke-width="2.4" stroke-linejoin="bevel" stroke-linecap="butt"/>
<path d="M105.4,636.1 L106.5,649.0 L107.5,649.1 L108.6,639.2 L109.6,635.2 L110.7,637.3 L111.7,639.1 L112.8,649.3 L113.8,653.6 L114.9,660.7 L115.9,666.8 L117.0,662.6 L118.0,668.8 L119.1,663.8 L120.1,658.8 L121.2,654.5 L122.2,650.8 L123.3,650.9 L124.3,654.1 L125.4,642.5 L126.4,635.2 L127.5,630.1 L128.5,628.9 L129.6,632.8 L130.6,637.4 L131.7,639.6 L132.7,640.6 L133.8,641.5 L134.8,640.8 L135.9,636.4 L136.9,629.0 L138.0,628.6 L139.0,623.5 L140.1,617.1 L141.1,613.0 L142.2,611.9 L143.2,611.1 L144.3,609.2 L145.3,610.0 L146.4,612.3 L147.4,613.0 L148.5,613.6 L149.5,609.2 L150.6,610.6 L151.6,611.8 L152.7,611.1 L153.7,614.6 L154.8,610.7 L155.8,611.9 L156.9,612.7 L157.9,610.7 L159.0,610.0 L160.0,609.2 L161.1,611.6 L162.1,615.4 L163.2,615.6 L164.2,615.0 L165.3,610.7 L166.3,612.1 L167.4,607.5 L168.4,601.1 L169.5,592.3 L170.5,592.9 L171.6,590.2 L172.6,591.0 L173.7,590.7 L174.7,593.1 L175.8,595.7 L176.8,588.6 L177.9,592.9 L178.9,593.0 L180.0,592.5 L181.0,591.5 L182.1,597.4 L183.1,595.0 L184.2,596.9 L185.2,594.2 L186.3,593.4 L187.3,596.9 L188.4,595.5 L189.4,592.8 L190.5,592.0 L191.5,592.1 L192.6,590.1 L193.6,595.2 L194.7,600.6 L195.7,604.2 L196.8,604.1 L197.8,601.0 L198.9,601.6 L199.9,596.5 L201.0,593.4 L202.0,596.5 L203.1,589.1 L204.1,589.8 L205.2,588.4 L206.2,583.5 L207.3,578.0 L208.3,574.3 L209.4,583.0 L210.4,585.7 L211.5,590.0 L212.5,596.7 L213.6,599.6 L214.6,601.5 L215.7,603.0 L216.7,600.6 L217.8,599.7 L218.8,600.2 L219.9,603.3 L220.9,597.9 L222.0,597.2 L223.0,602.9 L224.1,603.9 L225.1,608.8 L226.2,611.8 L227.2,610.8 L228.3,612.4 L229.3,611.1 L230.4,616.1 L231.4,614.4 L232.5,618.0 L233.5,624.5 L234.6,619.4 L235.6,631.5 L236.7,667.6 L237.7,680.1 L238.8,671.1 L239.8,668.7 L240.9,668.8 L241.9,669.2 L243.0,663.5 L244.0,664.6 L245.1,660.6 L246.1,666.3 L247.2,664.5 L248.2,666.0 L249.3,661.7 L250.3,661.7 L251.4,659.6 L252.4,658.4 L253.5,655.0 L254.5,651.0 L255.6,647.9 L256.6,643.9 L257.7,639.3 L258.7,634.5 L259.8,631.5 L260.8,636.0 L261.9,629.9 L262.9,628.5 L264.0,631.9 L265.0,629.8 L266.1,628.3 L267.1,630.1 L268.2,632.5 L269.2,628.2 L270.3,627.3 L271.3,620.6 L272.4,619.7 L273.4,614.6 L274.5,619.4 L275.5,618.3 L276.6,607.3 L277.6,611.1 L278.7,607.0 L279.7,597.7 L280.8,597.9 L281.8,595.2 L282.9,598.1 L283.9,597.5 L285.0,600.8 L286.0,601.3 L287.1,599.8 L288.1,599.5 L289.2,595.9 L290.2,600.4 L291.3,597.6 L292.3,600.8 L293.4,599.4 L294.4,605.7 L295.5,600.3 L296.5,604.6 L297.6,604.1 L298.6,609.6 L299.7,618.4 L300.7,622.0 L301.8,627.4 L302.8,615.3 L303.9,611.5 L304.9,598.6 L306.0,593.4 L307.0,591.2 L308.1,586.7 L309.1,593.9 L310.2,591.8 L311.2,592.8 L312.3,598.2 L313.3,589.3 L314.4,583.6 L315.4,580.9 L316.5,583.6 L317.5,588.2 L318.6,586.1 L319.6,593.1 L320.7,594.7 L321.7,591.6 L322.8,585.4 L323.8,585.1 L324.9,584.8 L325.9,589.6 L327.0,590.7 L328.0,587.5 L329.1,587.4 L330.1,586.5 L331.2,584.7 L332.2,578.7 L333.3,575.4 L334.3,574.6 L335.4,570.6 L336.4,568.4 L337.5,566.9 L338.5,569.9 L339.6,570.3 L340.6,568.6 L341.7,573.5 L342.7,571.4 L343.8,566.7 L344.8,564.9 L345.9,561.9 L346.9,559.2 L348.0,558.5 L349.0,554.0 L350.1,550.2 L351.1,547.4 L352.2,543.4 L353.2,544.4 L354.3,553.7 L355.3,558.5 L356.4,562.9 L357.4,574.5 L358.5,580.9 L359.5,605.7 L360.6,605.7 L361.6,611.7 L362.7,609.4 L363.7,612.0 L364.8,610.2 L365.8,606.5 L366.9,607.9 L367.9,607.8 L369.0,608.2 L370.0,608.9 L371.1,605.5 L372.1,609.4 L373.2,602.9 L374.2,602.8 L375.3,599.0 L376.3,600.5 L377.4,596.9 L378.4,598.2 L379.5,592.8 L380.5,600.1 L381.6,603.7 L382.6,610.9 L383.7,608.0 L384.7,600.7 L385.8,604.4 L386.8,609.7 L387.9,603.0 L388.9,597.0 L390.0,592.1 L391.0,591.7 L392.1,590.2 L393.1,596.1 L394.2,596.7 L395.2,599.4 L396.3,596.7 L397.3,590.3 L398.4,586.6 L399.4,587.4 L400.5,583.0 L401.5,584.0 L402.6,587.3 L403.6,578.4 L404.7,572.5 L405.7,566.9 L406.8,571.1 L407.8,579.5 L408.9,583.9 L409.9,585.2 L411.0,584.5 L412.0,586.0 L413.1,582.5 L414.1,581.7 L415.2,580.9 L416.2,576.7 L417.3,577.5 L418.3,571.9 L419.4,576.9 L420.4,573.7 L421.5,571.0 L422.5,568.2 L423.6,567.6 L424.6,566.1 L425.7,560.1 L426.7,559.1 L427.8,556.8 L428.8,558.9 L429.9,558.5 L430.9,557.9 L432.0,551.5 L433.0,549.7 L434.1,552.6 L435.1,549.1 L436.2,548.7 L437.2,547.1 L438.3,548.2 L439.3,554.3 L440.4,552.0 L441.4,546.8 L442.5,538.6 L443.5,538.3 L444.6,538.8 L445.6,535.5 L446.7,539.5 L447.7,542.1 L448.8,550.4 L449.8,542.0 L450.9,546.0 L451.9,560.3 L453.0,562.6 L454.0,559.1 L455.1,557.7 L456.1,556.0 L457.2,555.5 L458.2,556.0 L459.3,560.6 L460.3,590.2 L460.8,603.2" fill="none" stroke="#6ab150" stroke-width="2.4" stroke-linejoin="bevel" stroke-linecap="butt"/>
<rect x="78.2" y="492.2" width="422.2" height="246.8" fill="none" stroke="#1a1a1a" stroke-width="1.4"/>
<line x1="78.20" y1="736.50" x2="78.20" y2="748.30" stroke="#1a1a1a" stroke-width="1.3" />
<line x1="78.20" y1="493.20" x2="78.20" y2="482.90" stroke="#1a1a1a" stroke-width="1.3" />
<line x1="130.97" y1="736.50" x2="130.97" y2="746.20" stroke="#1a1a1a" stroke-width="1.3" />
<line x1="130.97" y1="493.20" x2="130.97" y2="485.00" stroke="#1a1a1a" stroke-width="1.3" />
<line x1="183.75" y1="736.50" x2="183.75" y2="748.30" stroke="#1a1a1a" stroke-width="1.3" />
<line x1="183.75" y1="493.20" x2="183.75" y2="482.90" stroke="#1a1a1a" stroke-width="1.3" />
<line x1="236.52" y1="736.50" x2="236.52" y2="746.20" stroke="#1a1a1a" stroke-width="1.3" />
<line x1="236.52" y1="493.20" x2="236.52" y2="485.00" stroke="#1a1a1a" stroke-width="1.3" />
<line x1="289.30" y1="736.50" x2="289.30" y2="748.30" stroke="#1a1a1a" stroke-width="1.3" />
<line x1="289.30" y1="493.20" x2="289.30" y2="482.90" stroke="#1a1a1a" stroke-width="1.3" />
<line x1="342.07" y1="736.50" x2="342.07" y2="746.20" stroke="#1a1a1a" stroke-width="1.3" />
<line x1="342.07" y1="493.20" x2="342.07" y2="485.00" stroke="#1a1a1a" stroke-width="1.3" />
<line x1="394.85" y1="736.50" x2="394.85" y2="748.30" stroke="#1a1a1a" stroke-width="1.3" />
<line x1="394.85" y1="493.20" x2="394.85" y2="482.90" stroke="#1a1a1a" stroke-width="1.3" />
<line x1="447.62" y1="736.50" x2="447.62" y2="746.20" stroke="#1a1a1a" stroke-width="1.3" />
<line x1="447.62" y1="493.20" x2="447.62" y2="485.00" stroke="#1a1a1a" stroke-width="1.3" />
<line x1="500.40" y1="736.50" x2="500.40" y2="748.30" stroke="#1a1a1a" stroke-width="1.3" />
<line x1="500.40" y1="493.20" x2="500.40" y2="482.90" stroke="#1a1a1a" stroke-width="1.3" />
<line x1="70.70" y1="738.75" x2="78.20" y2="738.75" stroke="#1a1a1a" stroke-width="1.3" />
<line x1="500.40" y1="738.75" x2="507.90" y2="738.75" stroke="#1a1a1a" stroke-width="1.3" />
<line x1="70.70" y1="689.50" x2="78.20" y2="689.50" stroke="#1a1a1a" stroke-width="1.3" />
<line x1="500.40" y1="689.50" x2="507.90" y2="689.50" stroke="#1a1a1a" stroke-width="1.3" />
<line x1="70.70" y1="640.25" x2="78.20" y2="640.25" stroke="#1a1a1a" stroke-width="1.3" />
<line x1="500.40" y1="640.25" x2="507.90" y2="640.25" stroke="#1a1a1a" stroke-width="1.3" />
<line x1="70.70" y1="591.00" x2="78.20" y2="591.00" stroke="#1a1a1a" stroke-width="1.3" />
<line x1="500.40" y1="591.00" x2="507.90" y2="591.00" stroke="#1a1a1a" stroke-width="1.3" />
<line x1="70.70" y1="541.75" x2="78.20" y2="541.75" stroke="#1a1a1a" stroke-width="1.3" />
<line x1="500.40" y1="541.75" x2="507.90" y2="541.75" stroke="#1a1a1a" stroke-width="1.3" />
<line x1="70.70" y1="492.50" x2="78.20" y2="492.50" stroke="#1a1a1a" stroke-width="1.3" />
<line x1="500.40" y1="492.50" x2="507.90" y2="492.50" stroke="#1a1a1a" stroke-width="1.3" />
<text x="78.80" y="783.00" font-size="30.5" fill="#000" text-anchor="middle" font-weight="normal" font-style="normal" font-family="Liberation Sans, sans-serif" >0</text>
<text x="184.35" y="783.00" font-size="30.5" fill="#000" text-anchor="middle" font-weight="normal" font-style="normal" font-family="Liberation Sans, sans-serif" >10</text>
<text x="289.90" y="783.00" font-size="30.5" fill="#000" text-anchor="middle" font-weight="normal" font-style="normal" font-family="Liberation Sans, sans-serif" >20</text>
<text x="395.45" y="783.00" font-size="30.5" fill="#000" text-anchor="middle" font-weight="normal" font-style="normal" font-family="Liberation Sans, sans-serif" >30</text>
<text x="501.00" y="783.00" font-size="30.5" fill="#000" text-anchor="middle" font-weight="normal" font-style="normal" font-family="Liberation Sans, sans-serif" >40</text>
<text x="66.00" y="699.90" font-size="30.5" fill="#000" text-anchor="end" font-weight="normal" font-style="normal" font-family="Liberation Sans, sans-serif" >0</text>
<text x="66.00" y="601.40" font-size="30.5" fill="#000" text-anchor="end" font-weight="normal" font-style="normal" font-family="Liberation Sans, sans-serif" >1</text>
<text x="66.00" y="502.90" font-size="30.5" fill="#000" text-anchor="end" font-weight="normal" font-style="normal" font-family="Liberation Sans, sans-serif" >2</text>
<text x="289.50" y="814.20" font-size="29.7" fill="#000" text-anchor="middle" font-weight="normal" font-style="normal" font-family="Liberation Sans, sans-serif" >Time (s)</text>
<text transform="translate(32.8,614.9) rotate(-90)" font-size="28.8" text-anchor="middle" font-family="Liberation Sans, sans-serif">Force (pN)</text>
<rect x="687.5" y="487.5" width="308.0" height="256.29999999999995" fill="none" stroke="#1a1a1a" stroke-width="1.3"/>
<line x1="687.18" y1="487.50" x2="687.18" y2="484.50" stroke="#1a1a1a" stroke-width="1.0" />
<line x1="687.18" y1="743.80" x2="687.18" y2="746.80" stroke="#1a1a1a" stroke-width="1.0" />
<line x1="700.74" y1="487.50" x2="700.74" y2="484.50" stroke="#1a1a1a" stroke-width="1.0" />
<line x1="700.74" y1="743.80" x2="700.74" y2="746.80" stroke="#1a1a1a" stroke-width="1.0" />
<line x1="710.36" y1="487.50" x2="710.36" y2="484.50" stroke="#1a1a1a" stroke-width="1.0" />
<line x1="710.36" y1="743.80" x2="710.36" y2="746.80" stroke="#1a1a1a" stroke-width="1.0" />
<line x1="717.82" y1="487.50" x2="717.82" y2="484.50" stroke="#1a1a1a" stroke-width="1.0" />
<line x1="717.82" y1="743.80" x2="717.82" y2="746.80" stroke="#1a1a1a" stroke-width="1.0" />
<line x1="723.92" y1="487.50" x2="723.92" y2="484.50" stroke="#1a1a1a" stroke-width="1.0" />
<line x1="723.92" y1="743.80" x2="723.92" y2="746.80" stroke="#1a1a1a" stroke-width="1.0" />
<line x1="729.07" y1="487.50" x2="729.07" y2="484.50" stroke="#1a1a1a" stroke-width="1.0" />
<line x1="729.07" y1="743.80" x2="729.07" y2="746.80" stroke="#1a1a1a" stroke-width="1.0" />
<line x1="733.54" y1="487.50" x2="733.54" y2="484.50" stroke="#1a1a1a" stroke-width="1.0" />
<line x1="733.54" y1="743.80" x2="733.54" y2="746.80" stroke="#1a1a1a" stroke-width="1.0" />
<line x1="737.48" y1="487.50" x2="737.48" y2="484.50" stroke="#1a1a1a" stroke-width="1.0" />
<line x1="737.48" y1="743.80" x2="737.48" y2="746.80" stroke="#1a1a1a" stroke-width="1.0" />
<line x1="741.00" y1="487.50" x2="741.00" y2="482.00" stroke="#1a1a1a" stroke-width="1.0" />
<line x1="741.00" y1="743.80" x2="741.00" y2="749.30" stroke="#1a1a1a" stroke-width="1.0" />
<line x1="764.18" y1="487.50" x2="764.18" y2="484.50" stroke="#1a1a1a" stroke-width="1.0" />
<line x1="764.18" y1="743.80" x2="764.18" y2="746.80" stroke="#1a1a1a" stroke-width="1.0" />
<line x1="777.74" y1="487.50" x2="777.74" y2="484.50" stroke="#1a1a1a" stroke-width="1.0" />
<line x1="777.74" y1="743.80" x2="777.74" y2="746.80" stroke="#1a1a1a" stroke-width="1.0" />
<line x1="787.36" y1="487.50" x2="787.36" y2="484.50" stroke="#1a1a1a" stroke-width="1.0" />
<line x1="787.36" y1="743.80" x2="787.36" y2="746.80" stroke="#1a1a1a" stroke-width="1.0" />
<line x1="794.82" y1="487.50" x2="794.82" y2="484.50" stroke="#1a1a1a" stroke-width="1.0" />
<line x1="794.82" y1="743.80" x2="794.82" y2="746.80" stroke="#1a1a1a" stroke-width="1.0" />
<line x1="800.92" y1="487.50" x2="800.92" y2="484.50" stroke="#1a1a1a" stroke-width="1.0" />
<line x1="800.92" y1="743.80" x2="800.92" y2="746.80" stroke="#1a1a1a" stroke-width="1.0" />
<line x1="806.07" y1="487.50" x2="806.07" y2="484.50" stroke="#1a1a1a" stroke-width="1.0" />
<line x1="806.07" y1="743.80" x2="806.07" y2="746.80" stroke="#1a1a1a" stroke-width="1.0" />
<line x1="810.54" y1="487.50" x2="810.54" y2="484.50" stroke="#1a1a1a" stroke-width="1.0" />
<line x1="810.54" y1="743.80" x2="810.54" y2="746.80" stroke="#1a1a1a" stroke-width="1.0" />
<line x1="814.48" y1="487.50" x2="814.48" y2="484.50" stroke="#1a1a1a" stroke-width="1.0" />
<line x1="814.48" y1="743.80" x2="814.48" y2="746.80" stroke="#1a1a1a" stroke-width="1.0" />
<line x1="818.00" y1="487.50" x2="818.00" y2="482.00" stroke="#1a1a1a" stroke-width="1.0" />
<line x1="818.00" y1="743.80" x2="818.00" y2="749.30" stroke="#1a1a1a" stroke-width="1.0" />
<line x1="841.18" y1="487.50" x2="841.18" y2="484.50" stroke="#1a1a1a" stroke-width="1.0" />
<line x1="841.18" y1="743.80" x2="841.18" y2="746.80" stroke="#1a1a1a" stroke-width="1.0" />
<line x1="854.74" y1="487.50" x2="854.74" y2="484.50" stroke="#1a1a1a" stroke-width="1.0" />
<line x1="854.74" y1="743.80" x2="854.74" y2="746.80" stroke="#1a1a1a" stroke-width="1.0" />
<line x1="864.36" y1="487.50" x2="864.36" y2="484.50" stroke="#1a1a1a" stroke-width="1.0" />
<line x1="864.36" y1="743.80" x2="864.36" y2="746.80" stroke="#1a1a1a" stroke-width="1.0" />
<line x1="871.82" y1="487.50" x2="871.82" y2="484.50" stroke="#1a1a1a" stroke-width="1.0" />
<line x1="871.82" y1="743.80" x2="871.82" y2="746.80" stroke="#1a1a1a" stroke-width="1.0" />
<line x1="877.92" y1="487.50" x2="877.92" y2="484.50" stroke="#1a1a1a" stroke-width="1.0" />
<line x1="877.92" y1="743.80" x2="877.92" y2="746.80" stroke="#1a1a1a" stroke-width="1.0" />
<line x1="883.07" y1="487.50" x2="883.07" y2="484.50" stroke="#1a1a1a" stroke-width="1.0" />
<line x1="883.07" y1="743.80" x2="883.07" y2="746.80" stroke="#1a1a1a" stroke-width="1.0" />
<line x1="887.54" y1="487.50" x2="887.54" y2="484.50" stroke="#1a1a1a" stroke-width="1.0" />
<line x1="887.54" y1="743.80" x2="887.54" y2="746.80" stroke="#1a1a1a" stroke-width="1.0" />
<line x1="891.48" y1="487.50" x2="891.48" y2="484.50" stroke="#1a1a1a" stroke-width="1.0" />
<line x1="891.48" y1="743.80" x2="891.48" y2="746.80" stroke="#1a1a1a" stroke-width="1.0" />
<line x1="895.00" y1="487.50" x2="895.00" y2="482.00" stroke="#1a1a1a" stroke-width="1.0" />
<line x1="895.00" y1="743.80" x2="895.00" y2="749.30" stroke="#1a1a1a" stroke-width="1.0" />
<line x1="918.18" y1="487.50" x2="918.18" y2="484.50" stroke="#1a1a1a" stroke-width="1.0" />
<line x1="918.18" y1="743.80" x2="918.18" y2="746.80" stroke="#1a1a1a" stroke-width="1.0" />
<line x1="931.74" y1="487.50" x2="931.74" y2="484.50" stroke="#1a1a1a" stroke-width="1.0" />
<line x1="931.74" y1="743.80" x2="931.74" y2="746.80" stroke="#1a1a1a" stroke-width="1.0" />
<line x1="941.36" y1="487.50" x2="941.36" y2="484.50" stroke="#1a1a1a" stroke-width="1.0" />
<line x1="941.36" y1="743.80" x2="941.36" y2="746.80" stroke="#1a1a1a" stroke-width="1.0" />
<line x1="948.82" y1="487.50" x2="948.82" y2="484.50" stroke="#1a1a1a" stroke-width="1.0" />
<line x1="948.82" y1="743.80" x2="948.82" y2="746.80" stroke="#1a1a1a" stroke-width="1.0" />
<line x1="954.92" y1="487.50" x2="954.92" y2="484.50" stroke="#1a1a1a" stroke-width="1.0" />
<line x1="954.92" y1="743.80" x2="954.92" y2="746.80" stroke="#1a1a1a" stroke-width="1.0" />
<line x1="960.07" y1="487.50" x2="960.07" y2="484.50" stroke="#1a1a1a" stroke-width="1.0" />
<line x1="960.07" y1="743.80" x2="960.07" y2="746.80" stroke="#1a1a1a" stroke-width="1.0" />
<line x1="964.54" y1="487.50" x2="964.54" y2="484.50" stroke="#1a1a1a" stroke-width="1.0" />
<line x1="964.54" y1="743.80" x2="964.54" y2="746.80" stroke="#1a1a1a" stroke-width="1.0" />
<line x1="968.48" y1="487.50" x2="968.48" y2="484.50" stroke="#1a1a1a" stroke-width="1.0" />
<line x1="968.48" y1="743.80" x2="968.48" y2="746.80" stroke="#1a1a1a" stroke-width="1.0" />
<line x1="972.00" y1="487.50" x2="972.00" y2="482.00" stroke="#1a1a1a" stroke-width="1.0" />
<line x1="972.00" y1="743.80" x2="972.00" y2="749.30" stroke="#1a1a1a" stroke-width="1.0" />
<line x1="995.18" y1="487.50" x2="995.18" y2="484.50" stroke="#1a1a1a" stroke-width="1.0" />
<line x1="995.18" y1="743.80" x2="995.18" y2="746.80" stroke="#1a1a1a" stroke-width="1.0" />
<line x1="681.50" y1="722.70" x2="687.50" y2="722.70" stroke="#1a1a1a" stroke-width="1.2" />
<line x1="995.50" y1="722.70" x2="1001.50" y2="722.70" stroke="#1a1a1a" stroke-width="1.2" />
<line x1="684.00" y1="669.30" x2="687.50" y2="669.30" stroke="#1a1a1a" stroke-width="1.2" />
<line x1="995.50" y1="669.30" x2="999.00" y2="669.30" stroke="#1a1a1a" stroke-width="1.2" />
<line x1="681.50" y1="615.90" x2="687.50" y2="615.90" stroke="#1a1a1a" stroke-width="1.2" />
<line x1="995.50" y1="615.90" x2="1001.50" y2="615.90" stroke="#1a1a1a" stroke-width="1.2" />
<line x1="684.00" y1="562.50" x2="687.50" y2="562.50" stroke="#1a1a1a" stroke-width="1.2" />
<line x1="995.50" y1="562.50" x2="999.00" y2="562.50" stroke="#1a1a1a" stroke-width="1.2" />
<line x1="681.50" y1="509.10" x2="687.50" y2="509.10" stroke="#1a1a1a" stroke-width="1.2" />
<line x1="995.50" y1="509.10" x2="1001.50" y2="509.10" stroke="#1a1a1a" stroke-width="1.2" />
<path d="M687.2,722.7 L688.2,722.7 L689.2,722.7 L690.3,722.7 L691.3,722.6 L692.3,722.6 L693.3,722.6 L694.4,722.6 L695.4,722.6 L696.4,722.6 L697.4,722.6 L698.5,722.6 L699.5,722.6 L700.5,722.6 L701.6,722.6 L702.6,722.6 L703.6,722.6 L704.6,722.6 L705.7,722.6 L706.7,722.6 L707.7,722.6 L708.7,722.6 L709.8,722.5 L710.8,722.5 L711.8,722.5 L712.8,722.5 L713.9,722.5 L714.9,722.5 L715.9,722.5 L717.0,722.5 L718.0,722.5 L719.0,722.4 L720.0,722.4 L721.1,722.4 L722.1,722.4 L723.1,722.4 L724.1,722.3 L725.2,722.3 L726.2,722.3 L727.2,722.3 L728.2,722.3 L729.3,722.2 L730.3,722.2 L731.3,722.2 L732.4,722.1 L733.4,722.1 L734.4,722.1 L735.4,722.0 L736.5,722.0 L737.5,721.9 L738.5,721.9 L739.5,721.8 L740.6,721.8 L741.6,721.7 L742.6,721.7 L743.6,721.6 L744.7,721.5 L745.7,721.5 L746.7,721.4 L747.8,721.3 L748.8,721.2 L749.8,721.1 L750.8,721.0 L751.9,720.9 L752.9,720.8 L753.9,720.7 L754.9,720.6 L756.0,720.5 L757.0,720.3 L758.0,720.2 L759.0,720.0 L760.1,719.9 L761.1,719.7 L762.1,719.5 L763.2,719.4 L764.2,719.2 L765.2,718.9 L766.2,718.7 L767.3,718.5 L768.3,718.2 L769.3,718.0 L770.3,717.7 L771.4,717.4 L772.4,717.1 L773.4,716.8 L774.4,716.4 L775.5,716.1 L776.5,715.7 L777.5,715.3 L778.6,714.9 L779.6,714.4 L780.6,714.0 L781.6,713.5 L782.7,713.0 L783.7,712.4 L784.7,711.8 L785.7,711.2 L786.8,710.6 L787.8,709.9 L788.8,709.2 L789.8,708.5 L790.9,707.7 L791.9,706.9 L792.9,706.1 L794.0,705.2 L795.0,704.2 L796.0,703.2 L797.0,702.2 L798.1,701.1 L799.1,700.0 L800.1,698.8 L801.1,697.6 L802.2,696.3 L803.2,695.0 L804.2,693.6 L805.2,692.1 L806.3,690.6 L807.3,689.0 L808.3,687.4 L809.4,685.7 L810.4,683.9 L811.4,682.1 L812.4,680.2 L813.5,678.2 L814.5,676.1 L815.5,674.0 L816.5,671.8 L817.6,669.5 L818.6,667.2 L819.6,664.8 L820.6,662.3 L821.7,659.7 L822.7,657.1 L823.7,654.3 L824.8,651.6 L825.8,648.7 L826.8,645.8 L827.8,642.8 L828.9,639.7 L829.9,636.6 L830.9,633.4 L831.9,630.2 L833.0,626.9 L834.0,623.6 L835.0,620.2 L836.0,616.8 L837.1,613.3 L838.1,609.8 L839.1,606.3 L840.2,602.8 L841.2,599.2 L842.2,595.7 L843.2,592.1 L844.3,588.6 L845.3,585.1 L846.3,581.6 L847.3,578.1 L848.4,574.6 L849.4,571.2 L850.4,567.9 L851.4,564.6 L852.5,561.4 L853.5,558.2 L854.5,555.1 L855.6,552.1 L856.6,549.2 L857.6,546.4 L858.6,543.7 L859.7,541.1 L860.7,538.6 L861.7,536.2 L862.7,533.9 L863.8,531.8 L864.8,529.7 L865.8,527.8 L866.8,526.0 L867.9,524.3 L868.9,522.7 L869.9,521.3 L871.0,519.9 L872.0,518.7 L873.0,517.5 L874.0,516.5 L875.1,515.6 L876.1,514.7 L877.1,513.9 L878.1,513.3 L879.2,512.7 L880.2,512.1 L881.2,511.7 L882.2,511.3 L883.3,510.9 L884.3,510.6 L885.3,510.3 L886.4,510.1 L887.4,509.9 L888.4,509.8 L889.4,509.6 L890.5,509.5 L891.5,509.4 L892.5,509.4 L893.5,509.3 L894.6,509.3 L895.6,509.2 L896.6,509.2 L897.6,509.2 L898.7,509.1 L899.7,509.1 L900.7,509.1 L901.8,509.1 L902.8,509.1 L903.8,509.1 L904.8,509.1 L905.9,509.1 L906.9,509.1 L907.9,509.1 L908.9,509.1 L910.0,509.1 L911.0,509.1 L912.0,509.1 L913.0,509.1 L914.1,509.1 L915.1,509.1 L916.1,509.1 L917.2,509.1 L918.2,509.1 L919.2,509.1 L920.2,509.1 L921.3,509.1 L922.3,509.1 L923.3,509.1 L924.3,509.1 L925.4,509.1 L926.4,509.1 L927.4,509.1 L928.4,509.1 L929.5,509.1 L930.5,509.1 L931.5,509.1 L932.6,509.1 L933.6,509.1 L934.6,509.1 L935.6,509.1 L936.7,509.1 L937.7,509.1 L938.7,509.1 L939.7,509.1 L940.8,509.1 L941.8,509.1 L942.8,509.1 L943.8,509.1 L944.9,509.1 L945.9,509.1 L946.9,509.1 L948.0,509.1 L949.0,509.1 L950.0,509.1 L951.0,509.1 L952.1,509.1 L953.1,509.1 L954.1,509.1 L955.1,509.1 L956.2,509.1 L957.2,509.1 L958.2,509.1 L959.2,509.1 L960.3,509.1 L961.3,509.1 L962.3,509.1 L963.4,509.1 L964.4,509.1 L965.4,509.1 L966.4,509.1 L967.5,509.1 L968.5,509.1 L969.5,509.1 L970.5,509.1 L971.6,509.1 L972.6,509.1 L973.6,509.1 L974.6,509.1 L975.7,509.1 L976.7,509.1 L977.7,509.1 L978.8,509.1 L979.8,509.1 L980.8,509.1 L981.8,509.1 L982.9,509.1 L983.9,509.1 L984.9,509.1 L985.9,509.1 L987.0,509.1 L988.0,509.1 L989.0,509.1 L990.0,509.1 L991.1,509.1 L992.1,509.1 L993.1,509.1 L994.2,509.1 L995.2,509.1" fill="none" stroke="#6ab150" stroke-width="2.0" stroke-linejoin="round" stroke-linecap="round" />
<path d="M687.2,720.7 L688.2,720.7 L689.2,720.6 L690.3,720.6 L691.3,720.5 L692.3,720.4 L693.3,720.4 L694.4,720.3 L695.4,720.2 L696.4,720.1 L697.4,720.1 L698.5,720.0 L699.5,719.9 L700.5,719.8 L701.6,719.7 L702.6,719.6 L703.6,719.5 L704.6,719.4 L705.7,719.3 L706.7,719.2 L707.7,719.1 L708.7,719.0 L709.8,718.9 L710.8,718.8 L711.8,718.6 L712.8,718.5 L713.9,718.4 L714.9,718.3 L715.9,718.1 L717.0,718.0 L718.0,717.8 L719.0,717.7 L720.0,717.5 L721.1,717.4 L722.1,717.2 L723.1,717.0 L724.1,716.9 L725.2,716.7 L726.2,716.5 L727.2,716.3 L728.2,716.1 L729.3,715.9 L730.3,715.7 L731.3,715.5 L732.4,715.3 L733.4,715.0 L734.4,714.8 L735.4,714.6 L736.5,714.3 L737.5,714.1 L738.5,713.8 L739.5,713.5 L740.6,713.2 L741.6,713.0 L742.6,712.7 L743.6,712.4 L744.7,712.0 L745.7,711.7 L746.7,711.4 L747.8,711.0 L748.8,710.7 L749.8,710.3 L750.8,709.9 L751.9,709.6 L752.9,709.2 L753.9,708.8 L754.9,708.3 L756.0,707.9 L757.0,707.5 L758.0,707.0 L759.0,706.5 L760.1,706.1 L761.1,705.6 L762.1,705.0 L763.2,704.5 L764.2,704.0 L765.2,703.4 L766.2,702.8 L767.3,702.3 L768.3,701.7 L769.3,701.0 L770.3,700.4 L771.4,699.7 L772.4,699.1 L773.4,698.4 L774.4,697.7 L775.5,696.9 L776.5,696.2 L777.5,695.4 L778.6,694.6 L779.6,693.8 L780.6,693.0 L781.6,692.1 L782.7,691.2 L783.7,690.3 L784.7,689.4 L785.7,688.4 L786.8,687.5 L787.8,686.5 L788.8,685.4 L789.8,684.4 L790.9,683.3 L791.9,682.2 L792.9,681.1 L794.0,679.9 L795.0,678.7 L796.0,677.5 L797.0,676.3 L798.1,675.0 L799.1,673.7 L800.1,672.4 L801.1,671.0 L802.2,669.6 L803.2,668.2 L804.2,666.7 L805.2,665.3 L806.3,663.7 L807.3,662.2 L808.3,660.6 L809.4,659.0 L810.4,657.3 L811.4,655.7 L812.4,654.0 L813.5,652.2 L814.5,650.4 L815.5,648.6 L816.5,646.8 L817.6,644.9 L818.6,643.0 L819.6,641.1 L820.6,639.1 L821.7,637.1 L822.7,635.1 L823.7,633.0 L824.8,630.9 L825.8,628.8 L826.8,626.7 L827.8,624.5 L828.9,622.3 L829.9,620.1 L830.9,617.9 L831.9,615.6 L833.0,613.3 L834.0,611.0 L835.0,608.7 L836.0,606.3 L837.1,604.0 L838.1,601.6 L839.1,599.2 L840.2,596.8 L841.2,594.4 L842.2,592.0 L843.2,589.6 L844.3,587.2 L845.3,584.8 L846.3,582.4 L847.3,580.0 L848.4,577.6 L849.4,575.2 L850.4,572.8 L851.4,570.5 L852.5,568.1 L853.5,565.8 L854.5,563.5 L855.6,561.2 L856.6,559.0 L857.6,556.8 L858.6,554.6 L859.7,552.5 L860.7,550.4 L861.7,548.3 L862.7,546.3 L863.8,544.3 L864.8,542.4 L865.8,540.5 L866.8,538.7 L867.9,536.9 L868.9,535.2 L869.9,533.6 L871.0,532.0 L872.0,530.4 L873.0,528.9 L874.0,527.5 L875.1,526.2 L876.1,524.9 L877.1,523.6 L878.1,522.5 L879.2,521.4 L880.2,520.3 L881.2,519.3 L882.2,518.4 L883.3,517.5 L884.3,516.7 L885.3,516.0 L886.4,515.3 L887.4,514.6 L888.4,514.0 L889.4,513.5 L890.5,513.0 L891.5,512.5 L892.5,512.1 L893.5,511.7 L894.6,511.4 L895.6,511.1 L896.6,510.8 L897.6,510.6 L898.7,510.4 L899.7,510.2 L900.7,510.0 L901.8,509.9 L902.8,509.8 L903.8,509.6 L904.8,509.6 L905.9,509.5 L906.9,509.4 L907.9,509.4 L908.9,509.3 L910.0,509.3 L911.0,509.2 L912.0,509.2 L913.0,509.2 L914.1,509.2 L915.1,509.1 L916.1,509.1 L917.2,509.1 L918.2,509.1 L919.2,509.1 L920.2,509.1 L921.3,509.1 L922.3,509.1 L923.3,509.1 L924.3,509.1 L925.4,509.1 L926.4,509.1 L927.4,509.1 L928.4,509.1 L929.5,509.1 L930.5,509.1 L931.5,509.1 L932.6,509.1 L933.6,509.1 L934.6,509.1 L935.6,509.1 L936.7,509.1 L937.7,509.1 L938.7,509.1 L939.7,509.1 L940.8,509.1 L941.8,509.1 L942.8,509.1 L943.8,509.1 L944.9,509.1 L945.9,509.1 L946.9,509.1 L948.0,509.1 L949.0,509.1 L950.0,509.1 L951.0,509.1 L952.1,509.1 L953.1,509.1 L954.1,509.1 L955.1,509.1 L956.2,509.1 L957.2,509.1 L958.2,509.1 L959.2,509.1 L960.3,509.1 L961.3,509.1 L962.3,509.1 L963.4,509.1 L964.4,509.1 L965.4,509.1 L966.4,509.1 L967.5,509.1 L968.5,509.1 L969.5,509.1 L970.5,509.1 L971.6,509.1 L972.6,509.1 L973.6,509.1 L974.6,509.1 L975.7,509.1 L976.7,509.1 L977.7,509.1 L978.8,509.1 L979.8,509.1 L980.8,509.1 L981.8,509.1 L982.9,509.1 L983.9,509.1 L984.9,509.1 L985.9,509.1 L987.0,509.1 L988.0,509.1 L989.0,509.1 L990.0,509.1 L991.1,509.1 L992.1,509.1 L993.1,509.1 L994.2,509.1 L995.2,509.1" fill="none" stroke="#000" stroke-width="2.0" stroke-linejoin="round" stroke-linecap="round" />
<path d="M687.2,721.2 L688.2,721.2 L689.2,721.1 L690.3,721.1 L691.3,721.0 L692.3,721.0 L693.3,720.9 L694.4,720.8 L695.4,720.8 L696.4,720.7 L697.4,720.7 L698.5,720.6 L699.5,720.5 L700.5,720.5 L701.6,720.4 L702.6,720.3 L703.6,720.3 L704.6,720.2 L705.7,720.1 L706.7,720.0 L707.7,719.9 L708.7,719.9 L709.8,719.8 L710.8,719.7 L711.8,719.6 L712.8,719.5 L713.9,719.4 L714.9,719.3 L715.9,719.2 L717.0,719.1 L718.0,719.0 L719.0,718.9 L720.0,718.7 L721.1,718.6 L722.1,718.5 L723.1,718.4 L724.1,718.2 L725.2,718.1 L726.2,717.9 L727.2,717.8 L728.2,717.6 L729.3,717.5 L730.3,717.3 L731.3,717.2 L732.4,717.0 L733.4,716.8 L734.4,716.6 L735.4,716.4 L736.5,716.3 L737.5,716.1 L738.5,715.9 L739.5,715.6 L740.6,715.4 L741.6,715.2 L742.6,715.0 L743.6,714.7 L744.7,714.5 L745.7,714.2 L746.7,714.0 L747.8,713.7 L748.8,713.4 L749.8,713.2 L750.8,712.9 L751.9,712.6 L752.9,712.3 L753.9,712.0 L754.9,711.6 L756.0,711.3 L757.0,710.9 L758.0,710.6 L759.0,710.2 L760.1,709.8 L761.1,709.5 L762.1,709.1 L763.2,708.6 L764.2,708.2 L765.2,707.8 L766.2,707.3 L767.3,706.9 L768.3,706.4 L769.3,705.9 L770.3,705.4 L771.4,704.9 L772.4,704.4 L773.4,703.8 L774.4,703.3 L775.5,702.7 L776.5,702.1 L777.5,701.5 L778.6,700.9 L779.6,700.2 L780.6,699.6 L781.6,698.9 L782.7,698.2 L783.7,697.5 L784.7,696.7 L785.7,696.0 L786.8,695.2 L787.8,694.4 L788.8,693.6 L789.8,692.7 L790.9,691.9 L791.9,691.0 L792.9,690.1 L794.0,689.1 L795.0,688.2 L796.0,687.2 L797.0,686.2 L798.1,685.2 L799.1,684.1 L800.1,683.0 L801.1,681.9 L802.2,680.8 L803.2,679.6 L804.2,678.4 L805.2,677.2 L806.3,675.9 L807.3,674.7 L808.3,673.3 L809.4,672.0 L810.4,670.6 L811.4,669.2 L812.4,667.8 L813.5,666.3 L814.5,664.8 L815.5,663.3 L816.5,661.8 L817.6,660.2 L818.6,658.5 L819.6,656.9 L820.6,655.2 L821.7,653.5 L822.7,651.7 L823.7,650.0 L824.8,648.1 L825.8,646.3 L826.8,644.4 L827.8,642.5 L828.9,640.5 L829.9,638.6 L830.9,636.6 L831.9,634.5 L833.0,632.5 L834.0,630.4 L835.0,628.3 L836.0,626.1 L837.1,623.9 L838.1,621.7 L839.1,619.5 L840.2,617.3 L841.2,615.0 L842.2,612.7 L843.2,610.4 L844.3,608.1 L845.3,605.7 L846.3,603.3 L847.3,601.0 L848.4,598.6 L849.4,596.2 L850.4,593.8 L851.4,591.4 L852.5,589.0 L853.5,586.6 L854.5,584.1 L855.6,581.7 L856.6,579.3 L857.6,576.9 L858.6,574.6 L859.7,572.2 L860.7,569.8 L861.7,567.5 L862.7,565.2 L863.8,562.9 L864.8,560.6 L865.8,558.4 L866.8,556.2 L867.9,554.0 L868.9,551.9 L869.9,549.8 L871.0,547.8 L872.0,545.7 L873.0,543.8 L874.0,541.9 L875.1,540.0 L876.1,538.2 L877.1,536.5 L878.1,534.8 L879.2,533.1 L880.2,531.5 L881.2,530.0 L882.2,528.6 L883.3,527.2 L884.3,525.8 L885.3,524.5 L886.4,523.3 L887.4,522.2 L888.4,521.1 L889.4,520.1 L890.5,519.1 L891.5,518.2 L892.5,517.3 L893.5,516.5 L894.6,515.8 L895.6,515.1 L896.6,514.5 L897.6,513.9 L898.7,513.4 L899.7,512.9 L900.7,512.4 L901.8,512.0 L902.8,511.7 L903.8,511.3 L904.8,511.0 L905.9,510.8 L906.9,510.5 L907.9,510.3 L908.9,510.1 L910.0,510.0 L911.0,509.8 L912.0,509.7 L913.0,509.6 L914.1,509.5 L915.1,509.5 L916.1,509.4 L917.2,509.3 L918.2,509.3 L919.2,509.3 L920.2,509.2 L921.3,509.2 L922.3,509.2 L923.3,509.2 L924.3,509.1 L925.4,509.1 L926.4,509.1 L927.4,509.1 L928.4,509.1 L929.5,509.1 L930.5,509.1 L931.5,509.1 L932.6,509.1 L933.6,509.1 L934.6,509.1 L935.6,509.1 L936.7,509.1 L937.7,509.1 L938.7,509.1 L939.7,509.1 L940.8,509.1 L941.8,509.1 L942.8,509.1 L943.8,509.1 L944.9,509.1 L945.9,509.1 L946.9,509.1 L948.0,509.1 L949.0,509.1 L950.0,509.1 L951.0,509.1 L952.1,509.1 L953.1,509.1 L954.1,509.1 L955.1,509.1 L956.2,509.1 L957.2,509.1 L958.2,509.1 L959.2,509.1 L960.3,509.1 L961.3,509.1 L962.3,509.1 L963.4,509.1 L964.4,509.1 L965.4,509.1 L966.4,509.1 L967.5,509.1 L968.5,509.1 L969.5,509.1 L970.5,509.1 L971.6,509.1 L972.6,509.1 L973.6,509.1 L974.6,509.1 L975.7,509.1 L976.7,509.1 L977.7,509.1 L978.8,509.1 L979.8,509.1 L980.8,509.1 L981.8,509.1 L982.9,509.1 L983.9,509.1 L984.9,509.1 L985.9,509.1 L987.0,509.1 L988.0,509.1 L989.0,509.1 L990.0,509.1 L991.1,509.1 L992.1,509.1 L993.1,509.1 L994.2,509.1 L995.2,509.1" fill="none" stroke="#e619e6" stroke-width="2.2" stroke-linejoin="round" stroke-linecap="round" stroke-dasharray="14,7" stroke-linecap="butt"/>
<line x1="723.28" y1="704.95" x2="723.28" y2="720.57" stroke="#000" stroke-width="1.2" />
<line x1="720.28" y1="704.95" x2="726.28" y2="704.95" stroke="#000" stroke-width="1.2" />
<line x1="720.28" y1="720.57" x2="726.28" y2="720.57" stroke="#000" stroke-width="1.2" />
<rect x="719.6" y="709.7" width="7.4" height="7.4" fill="#000"/>
<line x1="746.71" y1="686.40" x2="746.71" y2="714.71" stroke="#000" stroke-width="1.2" />
<line x1="743.71" y1="686.40" x2="749.71" y2="686.40" stroke="#000" stroke-width="1.2" />
<line x1="743.71" y1="714.71" x2="749.71" y2="714.71" stroke="#000" stroke-width="1.2" />
<rect x="743.0" y="697.3" width="7.4" height="7.4" fill="#000"/>
<line x1="800.40" y1="669.15" x2="800.40" y2="683.15" stroke="#000" stroke-width="1.2" />
<line x1="797.40" y1="669.15" x2="803.40" y2="669.15" stroke="#000" stroke-width="1.2" />
<line x1="797.40" y1="683.15" x2="803.40" y2="683.15" stroke="#000" stroke-width="1.2" />
<rect x="796.7" y="672.9" width="7.4" height="7.4" fill="#000"/>
<line x1="807.89" y1="658.74" x2="807.89" y2="672.41" stroke="#000" stroke-width="1.2" />
<line x1="804.89" y1="658.74" x2="810.89" y2="658.74" stroke="#000" stroke-width="1.2" />
<line x1="804.89" y1="672.41" x2="810.89" y2="672.41" stroke="#000" stroke-width="1.2" />
<rect x="804.2" y="661.9" width="7.4" height="7.4" fill="#000"/>
<line x1="812.12" y1="637.59" x2="812.12" y2="658.74" stroke="#000" stroke-width="1.2" />
<line x1="809.12" y1="637.59" x2="815.12" y2="637.59" stroke="#000" stroke-width="1.2" />
<line x1="809.12" y1="658.74" x2="815.12" y2="658.74" stroke="#000" stroke-width="1.2" />
<rect x="808.4" y="645.0" width="7.4" height="7.4" fill="#000"/>
<line x1="823.51" y1="604.07" x2="823.51" y2="637.59" stroke="#000" stroke-width="1.2" />
<line x1="820.51" y1="604.07" x2="826.51" y2="604.07" stroke="#000" stroke-width="1.2" />
<line x1="820.51" y1="637.59" x2="826.51" y2="637.59" stroke="#000" stroke-width="1.2" />
<rect x="819.8" y="617.0" width="7.4" height="7.4" fill="#000"/>
<line x1="854.75" y1="555.26" x2="854.75" y2="591.05" stroke="#000" stroke-width="1.2" />
<line x1="851.75" y1="555.26" x2="857.75" y2="555.26" stroke="#000" stroke-width="1.2" />
<line x1="851.75" y1="591.05" x2="857.75" y2="591.05" stroke="#000" stroke-width="1.2" />
<rect x="851.0" y="569.5" width="7.4" height="7.4" fill="#000"/>
<line x1="877.20" y1="522.07" x2="877.20" y2="538.34" stroke="#000" stroke-width="1.2" />
<line x1="874.20" y1="522.07" x2="880.20" y2="522.07" stroke="#000" stroke-width="1.2" />
<line x1="874.20" y1="538.34" x2="880.20" y2="538.34" stroke="#000" stroke-width="1.2" />
<rect x="873.5" y="526.5" width="7.4" height="7.4" fill="#000"/>
<line x1="954.32" y1="510.68" x2="954.32" y2="521.42" stroke="#000" stroke-width="1.2" />
<line x1="951.32" y1="510.68" x2="957.32" y2="510.68" stroke="#000" stroke-width="1.2" />
<line x1="951.32" y1="521.42" x2="957.32" y2="521.42" stroke="#000" stroke-width="1.2" />
<rect x="950.6" y="511.5" width="7.4" height="7.4" fill="#000"/>
<line x1="807.89" y1="660.37" x2="807.89" y2="698.44" stroke="#e619e6" stroke-width="1.2" />
<line x1="804.59" y1="660.37" x2="811.19" y2="660.37" stroke="#e619e6" stroke-width="1.2" />
<line x1="804.59" y1="698.44" x2="811.19" y2="698.44" stroke="#e619e6" stroke-width="1.2" />
<circle cx="807.9" cy="679.2" r="3.9" fill="#fff" stroke="#e619e6" stroke-width="1.3"/>
<line x1="861.58" y1="538.99" x2="861.58" y2="584.55" stroke="#e619e6" stroke-width="1.2" />
<line x1="858.28" y1="538.99" x2="864.88" y2="538.99" stroke="#e619e6" stroke-width="1.2" />
<line x1="858.28" y1="584.55" x2="864.88" y2="584.55" stroke="#e619e6" stroke-width="1.2" />
<circle cx="861.6" cy="562.4" r="3.9" fill="#fff" stroke="#e619e6" stroke-width="1.3"/>
<line x1="884.36" y1="518.81" x2="884.36" y2="556.23" stroke="#e619e6" stroke-width="1.2" />
<line x1="881.06" y1="518.81" x2="887.66" y2="518.81" stroke="#e619e6" stroke-width="1.2" />
<line x1="881.06" y1="556.23" x2="887.66" y2="556.23" stroke="#e619e6" stroke-width="1.2" />
<circle cx="884.4" cy="537.7" r="3.9" fill="#fff" stroke="#e619e6" stroke-width="1.3"/>
<circle cx="938.1" cy="509.0" r="3.9" fill="#fff" stroke="#e619e6" stroke-width="1.3"/>
<text x="676.30" y="733.10" font-size="30.5" fill="#000" text-anchor="end" font-weight="normal" font-style="normal" font-family="Liberation Sans, sans-serif" >0.0</text>
<text x="676.30" y="626.30" font-size="30.5" fill="#000" text-anchor="end" font-weight="normal" font-style="normal" font-family="Liberation Sans, sans-serif" >0.5</text>
<text x="676.30" y="519.50" font-size="30.5" fill="#000" text-anchor="end" font-weight="normal" font-style="normal" font-family="Liberation Sans, sans-serif" >1.0</text>
<text x="719.7" y="783" font-size="30.5" font-family="Liberation Sans, sans-serif">10<tspan font-size="18.5" dy="-11.5" dx="-0.5">1</tspan></text>
<text x="796.7" y="783" font-size="30.5" font-family="Liberation Sans, sans-serif">10<tspan font-size="18.5" dy="-11.5" dx="-0.5">2</tspan></text>
<text x="873.7" y="783" font-size="30.5" font-family="Liberation Sans, sans-serif">10<tspan font-size="18.5" dy="-11.5" dx="-0.5">3</tspan></text>
<text x="950.7" y="783" font-size="30.5" font-family="Liberation Sans, sans-serif">10<tspan font-size="18.5" dy="-11.5" dx="-0.5">4</tspan></text>
<text x="778.80" y="814.20" font-size="29.1" fill="#000" text-anchor="middle" font-weight="normal" font-style="normal" font-family="Liberation Sans, sans-serif" >Ratio of kinesin-8 to microspheres</text>
<text transform="translate(578.3,615.6) rotate(-90)" font-size="29" text-anchor="middle" font-family="Liberation Sans, sans-serif">Fraction of motile</text>
<text transform="translate(613.3,616.1) rotate(-90)" font-size="29.1" text-anchor="middle" font-family="Liberation Sans, sans-serif">microspheres</text>
<line x1="84.60" y1="1131.84" x2="419.50" y2="1131.84" stroke="#6ab150" stroke-width="1.3" />
<line x1="84.60" y1="1113.68" x2="419.50" y2="1113.68" stroke="#6ab150" stroke-width="1.3" />
<line x1="84.60" y1="1095.52" x2="419.50" y2="1095.52" stroke="#6ab150" stroke-width="1.3" />
<line x1="84.60" y1="1077.36" x2="419.50" y2="1077.36" stroke="#6ab150" stroke-width="1.3" />
<line x1="84.60" y1="1059.20" x2="419.50" y2="1059.20" stroke="#6ab150" stroke-width="1.3" />
<line x1="84.60" y1="1041.04" x2="419.50" y2="1041.04" stroke="#6ab150" stroke-width="1.3" />
<line x1="84.60" y1="1022.88" x2="419.50" y2="1022.88" stroke="#6ab150" stroke-width="1.3" />
<line x1="84.60" y1="1004.72" x2="419.50" y2="1004.72" stroke="#6ab150" stroke-width="1.3" />
<line x1="84.60" y1="986.56" x2="419.50" y2="986.56" stroke="#6ab150" stroke-width="1.3" />
<line x1="84.60" y1="968.40" x2="419.50" y2="968.40" stroke="#6ab150" stroke-width="1.3" />
<line x1="84.60" y1="950.24" x2="419.50" y2="950.24" stroke="#6ab150" stroke-width="1.3" />
<line x1="84.60" y1="932.08" x2="419.50" y2="932.08" stroke="#6ab150" stroke-width="1.3" />
<path d="M135.5,1139.6 L136.6,1142.8 L137.6,1144.7 L138.6,1147.0 L139.6,1149.9 L140.7,1153.4 L141.7,1149.6 L142.7,1145.1 L143.8,1149.0 L144.8,1153.3 L145.8,1158.0 L146.8,1149.6 L147.9,1141.2 L148.9,1100.0 L149.9,1059.0 L151.0,1038.1 L152.0,997.1 L152.6,978.8 L153.4,998.1 L154.0,1059.4 L154.4,1100.8 L155.3,1085.6 L156.1,1084.0 L156.9,1100.4 L157.7,1128.8 L159.2,1141.2 L160.2,1144.4 L161.2,1146.8 L162.3,1150.0 L163.3,1151.2 L164.3,1152.1 L165.3,1153.0 L166.4,1150.3 L167.4,1149.0 L168.4,1147.2 L169.5,1146.7 L170.5,1145.6 L171.3,1100.3 L172.1,1067.6 L173.2,1075.3 L174.0,1100.1 L175.0,1116.2 L175.8,1080.4 L176.7,1038.6 L177.7,1003.6 L178.7,984.1 L180.4,975.6 L181.4,973.7 L182.4,972.5 L183.9,975.0 L185.3,985.3 L186.5,980.7 L187.8,994.0 L189.0,998.2 L190.0,982.4 L191.1,969.5 L192.1,969.6 L193.1,970.5 L194.1,971.5 L195.2,971.8 L196.4,970.9 L197.6,969.7 L198.9,964.1 L199.7,946.3 L200.9,944.4 L202.0,946.7 L203.0,947.8 L204.2,948.6 L205.4,949.7 L206.5,950.0 L207.5,948.5 L208.5,955.7 L208.9,1017.7 L209.2,1141.5 L210.6,1146.8 L211.6,1147.7 L212.6,1146.7 L213.7,1146.9 L214.7,1146.9 L215.7,1147.4 L216.8,1148.4 L217.8,1148.9 L218.8,1149.3 L219.8,1149.2 L220.9,1150.7 L221.9,1152.0 L222.9,1155.2 L224.0,1140.8 L224.8,1098.6 L225.6,1038.5 L226.0,1018.5 L226.8,1038.6 L227.2,1080.0 L228.1,1093.8 L228.9,1058.6 L230.1,1017.9 L231.8,977.0 L233.2,951.9 L234.2,944.6 L235.3,945.6 L236.3,946.3 L237.5,945.5 L238.8,945.8 L240.0,945.7 L241.2,944.7 L242.3,944.1 L243.4,943.4 L244.4,943.2 L245.4,943.2 L246.5,944.2 L247.5,946.2 L248.5,945.7 L249.5,946.8 L250.6,947.3 L251.6,948.6 L252.6,950.0 L253.7,948.7 L254.7,948.7 L255.9,935.8 L257.8,933.7 L259.2,936.1 L260.4,947.4 L261.6,947.8 L262.8,946.9 L263.9,946.1 L265.0,946.5 L266.0,946.4 L267.0,945.6 L268.0,940.2 L269.1,935.2 L270.1,933.9 L271.1,932.3 L272.2,931.9 L273.2,931.1 L274.2,932.4 L275.2,932.3 L276.3,931.5 L277.3,930.8 L278.3,931.4 L279.4,932.1 L280.4,931.7 L281.7,934.4 L283.1,935.8 L284.5,945.8 L285.1,1018.0 L285.5,1141.4 L286.6,1143.9 L287.6,1145.7 L288.6,1144.1 L289.6,1142.4 L290.7,1100.5 L291.7,1059.0 L292.5,1048.3 L293.3,1068.9 L294.2,1120.1 L295.4,1141.0 L296.6,1142.3 L297.9,1143.6 L298.9,1143.5 L299.9,1145.0 L301.0,1145.4 L302.4,1100.1 L303.6,1056.6 L304.4,1078.4 L305.7,1130.5 L307.1,1146.3 L308.1,1149.8 L309.2,1152.2 L310.2,1155.4 L311.2,1153.6 L312.3,1151.9 L313.3,1150.5 L314.3,1147.2 L315.3,1145.0 L316.4,1141.7 L318.0,1079.9 L319.0,1017.7 L320.1,997.5 L321.5,990.5 L322.5,1017.8 L323.6,1099.4 L325.0,1142.9 L326.3,1144.9 L327.7,1146.3 L328.7,1144.8 L329.7,1143.7 L330.8,1142.8 L331.8,1143.8 L332.8,1146.3 L333.9,1149.6 L334.9,1151.5 L335.9,1154.2 L336.9,1121.3 L338.0,1059.6 L339.0,1018.6 L340.2,993.5 L341.5,1007.1 L342.3,1080.7 L343.1,1100.8 L344.1,1059.5 L345.2,1029.2 L346.8,998.2 L348.3,969.0 L349.7,966.1 L350.9,947.7 L352.4,956.0 L353.4,968.0 L354.2,1037.8 L355.0,1099.3 L356.3,1120.2 L357.1,1079.0 L357.9,1028.1 L358.7,1009.1 L359.6,1038.8 L360.4,1100.3 L361.2,1142.1 L362.6,1158.4 L363.7,1152.7 L364.7,1147.9 L366.0,1148.3 L367.4,1148.4" fill="none" stroke="#6ab150" stroke-width="2.1" stroke-linejoin="round" stroke-linecap="round" />
<line x1="84.60" y1="1150.00" x2="413.50" y2="1150.00" stroke="#000" stroke-width="1.3" />
<path d="M84.5,1147.4 L85.4,1145.5 L86.3,1141.6 L87.2,1156.6 L88.1,1152.5 L89.0,1146.6 L89.9,1141.8 L90.8,1143.5 L91.7,1148.0 L92.6,1157.5 L93.5,1157.3 L94.4,1148.8 L95.3,1141.6 L96.2,1138.7 L97.1,1138.8 L98.0,1137.9 L98.9,1132.1 L99.8,1135.0 L100.7,1132.5 L101.6,1138.4 L102.5,1135.4 L103.4,1133.8 L104.3,1132.2 L105.2,1129.0 L106.1,1120.5 L107.0,1134.2 L107.9,1134.8 L108.8,1137.4 L109.7,1130.4 L110.6,1130.9 L111.5,1129.8 L112.4,1132.3 L113.3,1137.4 L114.2,1126.3 L115.1,1130.6 L116.0,1128.0 L116.9,1120.2 L117.8,1120.8 L118.7,1118.7 L119.6,1113.4 L120.5,1124.7 L121.4,1137.2 L122.3,1139.1 L123.2,1138.0 L124.1,1126.7 L125.0,1117.9 L125.9,1119.1 L126.8,1118.1 L127.7,1123.4 L128.6,1120.2 L129.5,1114.2 L130.4,1112.4 L131.3,1117.2 L132.2,1117.4 L133.1,1126.2 L134.0,1117.9 L134.9,1118.2 L135.8,1118.0 L136.7,1116.7 L137.6,1122.6 L138.5,1118.0 L139.4,1115.7 L140.3,1123.3 L141.2,1116.8 L142.1,1124.8 L143.0,1120.9 L143.9,1113.4 L144.8,1116.1 L145.7,1123.0 L146.6,1129.2 L147.5,1132.3 L148.4,1136.0 L149.3,1143.5 L150.2,1149.3 L151.1,1156.9 L152.0,1149.5 L152.9,1144.5 L153.8,1136.0 L154.7,1137.0 L155.6,1135.2 L156.5,1133.8 L157.4,1147.4 L158.3,1155.9 L159.2,1147.8 L160.1,1150.9 L161.0,1147.3 L161.9,1139.8 L162.8,1143.9 L163.7,1140.1 L164.6,1138.1 L165.5,1136.7 L166.4,1137.6 L167.3,1132.1 L168.2,1127.3 L169.1,1131.9 L170.0,1127.6 L170.9,1124.4 L171.8,1124.8 L172.7,1119.1 L173.6,1121.2 L174.5,1124.5 L175.4,1128.9 L176.3,1122.4 L177.2,1117.8 L178.1,1115.8 L179.0,1118.0 L179.9,1119.5 L180.8,1120.0 L181.7,1129.2 L182.6,1138.4 L183.5,1136.0 L184.4,1130.8 L185.3,1127.4 L186.2,1124.4 L187.1,1129.7 L188.0,1132.3 L188.9,1133.4 L189.8,1138.2 L190.7,1136.9 L191.6,1129.3 L192.5,1133.2 L193.4,1138.4 L194.3,1150.6 L195.2,1148.9 L196.1,1139.0 L197.0,1145.8 L197.9,1145.9 L198.8,1147.8 L199.7,1144.5 L200.6,1139.3 L201.5,1135.9 L202.4,1128.5 L203.3,1134.1 L204.2,1132.0 L205.1,1131.5 L206.0,1134.9 L206.9,1130.1 L207.8,1121.3 L208.7,1117.6 L209.6,1111.3 L210.5,1109.5 L211.4,1114.9 L212.3,1108.4 L213.2,1109.5 L214.1,1106.2 L215.0,1106.2 L215.9,1107.6 L216.8,1106.3 L217.7,1109.8 L218.6,1118.8 L219.5,1130.5 L220.4,1134.9 L221.3,1129.9 L222.2,1132.5 L223.1,1137.4 L224.0,1145.6 L224.9,1142.2 L225.8,1135.0 L226.7,1141.6 L227.6,1142.7 L228.5,1143.2 L229.4,1137.0 L230.3,1139.1 L231.2,1135.7 L232.1,1144.3 L233.0,1148.8 L233.9,1147.3 L234.8,1148.7 L235.7,1153.6 L236.6,1139.6 L237.5,1134.6 L238.4,1133.1 L239.3,1133.6 L240.2,1132.7 L241.1,1123.9 L242.0,1120.5 L242.9,1116.4 L243.8,1123.9 L244.7,1119.5 L245.6,1107.2 L246.5,1112.5 L247.4,1111.3 L248.3,1108.7 L249.2,1106.6 L250.1,1118.8 L251.0,1133.7 L251.9,1138.5 L252.8,1140.5 L253.7,1147.0 L254.6,1141.9 L255.5,1144.0 L256.4,1141.9 L257.3,1142.5 L258.2,1144.4 L259.1,1141.4 L260.0,1142.3 L260.9,1147.9 L261.8,1147.4 L262.7,1133.5 L263.6,1133.3 L264.5,1136.0 L265.4,1142.0 L266.3,1136.7 L267.2,1136.1 L268.1,1133.0 L269.0,1123.4 L269.9,1127.3 L270.8,1127.1 L271.7,1126.6 L272.6,1131.6 L273.5,1138.0 L274.4,1142.9 L275.3,1157.6 L276.2,1151.8 L277.1,1142.4 L278.0,1148.8 L278.9,1143.6 L279.8,1142.7 L280.7,1135.8 L281.6,1132.1 L282.5,1132.2 L283.4,1133.9 L284.3,1126.0 L285.2,1117.2 L286.1,1113.6 L287.0,1115.2 L287.9,1119.6 L288.8,1110.4 L289.7,1107.3 L290.6,1111.4 L291.5,1121.8 L292.4,1126.6 L293.3,1140.3 L294.2,1144.5 L295.1,1145.9 L296.0,1141.4 L296.9,1141.9 L297.8,1145.0 L298.7,1144.3 L299.6,1153.6 L300.5,1145.3 L301.4,1138.3 L302.3,1138.5 L303.2,1141.4 L304.1,1143.5 L305.0,1149.1 L305.9,1158.7 L306.8,1162.5 L307.7,1150.8 L308.6,1143.5 L309.5,1137.2 L310.4,1130.7 L311.3,1139.0 L312.2,1140.0 L313.1,1138.3 L314.0,1133.9 L314.9,1135.6 L315.8,1137.9 L316.7,1134.2 L317.6,1132.9 L318.5,1136.4 L319.4,1138.1 L320.3,1133.5 L321.2,1130.7 L322.1,1122.3 L323.0,1122.1 L323.9,1123.1 L324.8,1120.2 L325.7,1115.8 L326.6,1113.9 L327.5,1109.5 L328.4,1100.6 L329.3,1096.7 L330.2,1095.6 L331.1,1099.9 L332.0,1096.6 L332.9,1095.2 L333.8,1105.1 L334.7,1104.9 L335.6,1107.5 L336.5,1111.6 L337.4,1105.5 L338.3,1097.4 L339.2,1102.4 L340.1,1121.3 L341.0,1136.2 L341.9,1145.4 L342.8,1138.1 L343.7,1144.4 L344.6,1134.7 L345.5,1136.4 L346.4,1144.1 L347.3,1156.9 L348.2,1149.3 L349.1,1139.7 L350.0,1133.9 L350.9,1140.0 L351.8,1139.5 L352.7,1136.7 L353.6,1134.1 L354.5,1136.0 L355.4,1128.7 L356.3,1135.0 L357.2,1123.3 L358.1,1131.6 L359.0,1122.0 L359.9,1121.0 L360.8,1119.2 L361.7,1120.5 L362.6,1119.0 L363.5,1117.1 L364.4,1113.8 L365.3,1112.0 L366.2,1113.7 L367.1,1113.8 L368.0,1113.7 L368.9,1108.0 L369.8,1108.6 L370.7,1103.2 L371.6,1092.9 L372.5,1097.0 L373.4,1122.3 L374.3,1140.7 L375.2,1139.9 L376.1,1150.1 L377.0,1151.3 L377.9,1150.5 L378.8,1142.1 L379.7,1145.1 L380.6,1148.8 L381.5,1145.7 L382.4,1134.3 L383.3,1129.4 L384.2,1133.8 L385.1,1134.4 L386.0,1139.7 L386.9,1150.9 L387.8,1148.1 L388.7,1155.0 L389.6,1153.3 L390.5,1148.3 L391.4,1154.6 L392.3,1160.2 L393.2,1155.4 L394.1,1152.7 L395.0,1154.1 L395.9,1148.0 L396.8,1136.3 L397.7,1138.2 L398.6,1135.3 L399.5,1133.9 L400.4,1130.2 L401.3,1135.0 L402.2,1134.4 L403.1,1139.5 L404.0,1135.0 L404.9,1138.4 L405.8,1138.2 L406.7,1144.6 L407.6,1146.0 L408.5,1147.8 L409.4,1143.6 L410.3,1134.6 L411.2,1135.8 L412.1,1127.6 L413.0,1126.2 L413.4,1126.8" fill="none" stroke="#000" stroke-width="2.2" stroke-linejoin="bevel" stroke-linecap="butt"/>
<path d="M84.5,1152.5 L85.1,1150.0 L85.6,1151.2 L86.2,1151.2 L86.8,1148.6 L87.3,1147.0 L87.9,1146.2 L88.4,1151.4 L89.0,1144.8 L89.5,1149.5 L90.1,1147.2 L90.7,1150.7 L91.2,1148.4 L91.8,1147.8 L92.3,1149.8 L92.9,1145.5 L93.5,1142.9 L94.1,1149.5 L94.7,1149.3 L95.3,1150.7 L95.9,1149.2 L96.5,1143.9 L97.0,1148.4 L97.6,1144.2 L98.2,1148.4 L98.8,1144.3 L99.4,1145.3 L100.0,1146.1 L100.6,1145.6 L101.2,1145.1 L101.7,1148.5 L102.3,1146.5 L102.9,1139.2 L103.5,1147.2 L104.1,1139.8 L104.7,1141.0 L105.3,1144.1 L105.9,1146.0 L106.4,1147.2 L107.0,1146.2 L107.6,1146.8 L108.2,1141.7 L108.8,1151.0 L109.4,1145.1 L110.0,1146.0 L110.6,1144.9 L111.1,1144.8 L111.7,1143.4 L112.3,1143.9 L112.9,1144.6 L113.5,1143.2 L114.1,1145.7 L114.7,1144.3 L115.3,1142.1 L115.8,1142.0 L116.4,1146.4 L117.0,1145.1 L117.6,1144.5 L118.2,1144.3 L118.8,1142.0 L119.4,1138.6 L120.0,1142.6 L120.5,1138.5 L121.1,1136.7 L121.7,1140.9 L122.3,1139.7 L122.9,1145.4 L123.5,1144.1 L124.1,1139.6 L124.7,1138.1 L125.2,1136.0 L125.8,1133.4 L126.4,1139.9 L127.0,1135.2 L127.6,1133.2 L128.2,1135.7 L128.8,1136.7 L129.4,1135.2 L129.9,1135.3 L130.5,1134.5 L131.1,1135.5 L131.7,1133.1 L132.3,1134.4 L132.9,1134.8 L133.5,1136.5 L134.1,1132.0 L134.6,1131.9 L135.2,1133.9 L135.8,1131.4 L136.4,1131.1 L137.0,1126.6 L137.6,1130.4 L138.2,1129.0 L138.8,1131.8 L139.3,1130.6 L139.9,1128.6 L140.5,1128.4 L141.1,1129.0 L141.7,1129.3 L142.3,1123.9 L142.9,1125.6 L143.5,1125.9 L144.0,1124.9 L144.6,1122.7 L145.2,1124.6 L145.8,1127.2 L146.4,1125.4 L147.0,1126.6 L147.6,1126.7 L148.2,1122.2 L148.7,1122.3 L149.3,1124.5 L149.9,1126.2 L150.5,1125.7 L151.0,1121.2 L151.6,1126.6 L152.1,1124.6 L152.7,1123.9 L153.2,1125.5 L153.8,1121.9 L154.4,1121.4 L154.9,1120.5 L155.5,1123.1 L156.0,1123.8 L156.6,1121.4 L157.1,1121.1 L157.7,1121.5 L158.3,1121.6 L158.9,1121.2 L159.5,1127.1 L160.1,1126.7 L160.6,1127.9 L161.2,1126.8 L161.9,1128.9 L162.5,1128.6 L163.1,1129.9 L163.7,1128.8 L164.3,1130.2 L164.9,1128.4 L165.6,1126.1 L166.2,1125.9 L166.8,1123.9 L167.4,1122.8 L168.0,1123.1 L168.6,1122.2 L169.2,1125.5 L169.8,1124.9 L170.3,1123.1 L170.9,1121.8 L171.5,1118.5 L172.1,1119.6 L172.7,1117.0 L173.2,1117.6 L173.8,1117.8 L174.4,1117.8 L174.9,1119.4 L175.5,1117.0 L176.1,1121.2 L176.7,1117.3 L177.2,1118.9 L177.8,1115.5 L178.3,1118.9 L178.9,1116.2 L179.5,1118.0 L180.0,1118.1 L180.6,1119.4 L181.1,1119.4 L181.7,1119.1 L182.3,1118.4 L182.8,1121.5 L183.4,1118.2 L184.0,1118.3 L184.6,1117.4 L185.2,1118.1 L185.8,1116.4 L186.4,1116.8 L186.9,1118.2 L187.5,1116.3 L188.1,1117.2 L188.7,1115.4 L189.3,1117.8 L189.9,1115.4 L190.5,1117.6 L191.1,1115.6 L191.6,1113.7 L192.2,1114.4 L192.8,1114.2 L193.4,1114.1 L194.0,1113.3 L194.6,1111.8 L195.2,1107.8 L195.8,1110.2 L196.3,1108.8 L196.9,1109.0 L197.5,1110.1 L198.1,1107.1 L198.7,1109.4 L199.3,1111.2 L199.9,1108.2 L200.5,1106.1 L201.0,1108.0 L201.6,1106.1 L202.2,1106.7 L202.8,1106.8 L203.4,1102.2 L204.0,1103.9 L204.6,1101.0 L205.2,1101.4 L205.7,1103.1 L206.3,1100.3 L206.9,1100.2 L207.5,1100.2 L208.1,1101.1 L208.7,1101.1 L209.3,1101.0 L209.9,1099.3 L210.4,1098.4 L211.0,1099.7 L211.6,1097.8 L212.2,1097.4 L212.9,1099.4 L213.5,1097.3 L214.1,1096.7 L214.7,1099.5 L215.3,1097.9 L215.9,1094.2 L216.6,1095.7 L217.2,1099.9 L217.8,1101.6 L218.4,1097.2 L218.9,1098.0 L219.5,1098.2 L220.0,1097.6 L220.6,1094.3 L221.2,1098.1 L221.7,1097.5 L222.3,1096.7 L222.8,1094.5 L223.4,1095.6 L224.0,1096.6 L224.5,1096.5 L225.1,1097.2 L225.7,1096.4 L226.3,1098.4 L226.9,1098.1 L227.5,1095.4 L228.1,1095.8 L228.7,1097.4 L229.2,1096.2 L229.8,1098.9 L230.4,1096.4 L231.0,1097.2 L231.6,1097.9 L232.2,1095.4 L232.7,1098.5 L233.3,1096.7 L233.9,1095.6 L234.4,1095.4 L235.0,1093.8 L235.5,1094.0 L236.1,1098.3 L236.7,1096.4 L237.2,1095.9 L237.8,1096.4 L238.3,1097.0 L238.9,1095.0 L239.4,1095.5 L240.0,1096.2 L240.6,1097.4 L241.2,1096.3 L241.8,1098.2 L242.3,1095.6 L242.9,1094.9 L243.5,1093.2 L244.1,1094.9 L244.7,1096.1 L245.3,1094.8 L245.9,1094.7 L246.5,1093.4 L247.0,1093.8 L247.6,1094.2 L248.2,1094.8 L248.8,1096.7 L249.4,1096.2 L250.0,1096.8 L250.6,1097.4 L251.2,1095.1 L251.7,1097.5 L252.3,1096.0 L252.9,1093.8 L253.5,1094.6 L254.1,1095.5 L254.7,1093.5 L255.3,1099.0 L255.9,1096.3 L256.4,1097.2 L257.0,1094.3 L257.6,1095.8 L258.2,1096.3 L258.8,1094.8 L259.4,1096.1 L260.0,1095.9 L260.6,1096.5 L261.1,1094.2 L261.7,1096.4 L262.3,1095.5 L262.9,1094.6 L263.5,1092.2 L264.1,1094.8 L264.7,1094.8 L265.3,1098.8 L265.8,1093.9 L266.4,1097.0 L267.0,1097.0 L267.6,1095.7 L268.2,1095.1 L268.8,1095.2 L269.4,1092.2 L270.0,1095.9 L270.5,1093.8 L271.1,1092.7 L271.7,1093.2 L272.3,1088.8 L272.9,1089.9 L273.5,1089.9 L274.1,1088.9 L274.7,1091.7 L275.2,1093.2 L275.8,1091.9 L276.4,1091.8 L277.0,1093.4 L277.6,1093.0 L278.2,1094.5 L278.8,1095.8 L279.4,1095.6 L279.9,1095.2 L280.5,1095.9 L281.0,1096.0 L281.6,1096.9 L282.2,1093.8 L282.7,1093.9 L283.3,1094.8 L283.8,1096.4 L284.4,1094.0 L285.0,1097.4 L285.5,1098.2 L286.1,1094.9 L286.6,1097.1 L287.2,1092.4 L287.8,1094.5 L288.3,1092.4 L288.9,1096.0 L289.5,1096.0 L290.0,1095.3 L290.6,1093.4 L291.1,1092.2 L291.7,1094.1 L292.3,1092.6 L292.9,1093.8 L293.5,1090.2 L294.0,1092.3 L294.6,1092.4 L295.2,1087.8 L295.8,1088.3 L296.4,1090.3 L297.0,1091.6 L297.7,1091.0 L298.3,1094.4 L298.9,1094.1 L299.5,1096.0 L300.1,1094.2 L300.7,1095.5 L301.4,1099.0 L302.0,1096.4 L302.6,1098.9 L303.2,1101.9 L303.7,1101.7 L304.3,1098.9 L304.9,1104.2 L305.5,1101.1 L306.1,1103.3 L306.7,1103.3 L307.2,1101.2 L307.8,1102.0 L308.3,1096.8 L308.9,1100.1 L309.5,1100.4 L310.0,1099.5 L310.6,1099.8 L311.1,1101.1 L311.7,1100.8 L312.3,1098.2 L312.8,1099.8 L313.4,1100.4 L313.9,1098.8 L314.5,1098.8 L315.1,1094.4 L315.6,1094.8 L316.2,1097.7 L316.7,1095.1 L317.3,1098.1 L317.9,1098.9 L318.4,1095.6 L319.0,1094.6 L319.6,1095.7 L320.1,1096.2 L320.7,1096.9 L321.2,1095.2 L321.8,1095.1 L322.4,1093.3 L322.9,1094.8 L323.5,1093.1 L324.0,1095.3 L324.6,1095.0 L325.2,1091.0 L325.8,1093.0 L326.4,1090.8 L327.0,1093.1 L327.5,1090.1 L328.1,1092.7 L328.7,1092.5 L329.3,1094.0 L329.9,1091.9 L330.5,1091.3 L331.1,1093.1 L331.7,1089.8 L332.2,1091.2 L332.8,1091.1 L333.4,1091.5 L334.0,1089.2 L334.6,1088.8 L335.2,1088.6 L335.8,1093.4 L336.4,1091.4 L336.9,1092.5 L337.5,1091.7 L338.1,1091.5 L338.7,1093.9 L339.2,1088.9 L339.8,1091.4 L340.4,1091.0 L340.9,1090.9 L341.5,1089.9 L342.1,1090.0 L342.7,1091.3 L343.3,1095.6 L343.9,1094.3 L344.6,1095.1 L345.2,1096.4 L345.8,1097.8 L346.3,1098.7 L346.9,1097.8 L347.5,1097.4 L348.1,1098.3 L348.7,1096.6 L349.3,1098.0 L349.9,1100.8 L350.5,1098.1 L351.0,1097.8 L351.6,1097.1 L352.2,1099.7 L352.8,1101.3 L353.4,1100.4 L354.0,1100.4 L354.6,1102.7 L355.2,1101.4 L355.7,1102.3 L356.3,1100.9 L356.9,1103.2 L357.5,1103.1 L358.1,1101.5 L358.7,1100.7 L359.3,1105.3 L359.9,1100.7 L360.4,1100.2 L361.0,1097.9 L361.6,1102.4 L362.2,1102.2 L362.8,1102.0 L363.4,1099.9 L364.0,1101.9 L364.6,1101.1 L365.1,1100.4 L365.7,1101.8 L366.3,1102.9 L366.9,1102.4 L367.5,1101.9 L368.1,1103.7 L368.7,1103.3 L369.3,1102.4 L369.8,1103.8 L370.4,1103.5 L371.0,1104.3 L371.6,1104.2 L372.2,1104.0 L372.8,1101.9 L373.4,1104.4 L374.0,1104.2 L374.5,1101.9 L375.1,1104.1 L375.7,1102.7 L376.3,1100.7 L376.9,1101.8 L377.5,1100.1 L378.1,1103.3 L378.7,1100.3 L379.2,1103.9 L379.8,1101.0 L380.4,1101.6 L381.0,1103.8 L381.6,1102.8 L382.2,1099.6 L382.8,1101.4 L383.4,1099.2 L383.9,1102.5 L384.5,1100.5 L385.1,1101.6 L385.7,1101.7 L386.3,1099.7 L386.9,1102.2 L387.5,1104.8 L388.1,1101.3 L388.8,1101.3 L389.4,1102.8 L389.6,1149.1 L390.4,1142.1 L391.0,1139.4 L391.6,1141.2 L392.2,1145.0 L392.9,1142.1 L393.5,1145.9 L394.1,1150.9 L394.6,1141.3 L395.2,1144.7 L395.8,1142.1 L396.4,1137.7 L397.0,1142.5 L397.6,1144.5 L398.2,1141.9 L398.8,1142.7 L399.3,1139.7 L399.9,1137.9 L400.5,1142.0 L401.1,1141.0 L401.7,1143.0 L402.3,1139.1 L402.9,1142.2 L403.5,1140.0 L404.0,1140.7 L404.6,1142.2 L405.2,1138.9 L405.8,1142.8 L406.4,1138.2 L407.0,1136.4 L407.6,1138.7 L408.2,1136.7 L408.7,1139.1 L409.3,1141.2 L409.9,1137.5 L410.5,1134.3 L411.1,1132.3 L411.7,1134.2 L412.3,1132.2 L412.8,1131.3 L413.4,1133.1" fill="none" stroke="#e619e6" stroke-width="3.4" stroke-linejoin="round" stroke-linecap="round" />
<line x1="84.60" y1="916.30" x2="84.60" y2="1169.70" stroke="#1a1a1a" stroke-width="1.3" />
<line x1="78.60" y1="916.30" x2="413.50" y2="916.30" stroke="#1a1a1a" stroke-width="1.3" />
<line x1="78.60" y1="1169.70" x2="413.50" y2="1169.70" stroke="#1a1a1a" stroke-width="1.3" />
<line x1="413.50" y1="911.30" x2="413.50" y2="1175.70" stroke="#1a1a1a" stroke-width="1.3" />
<line x1="84.60" y1="1169.70" x2="84.60" y2="1175.70" stroke="#1a1a1a" stroke-width="1.3" />
<line x1="84.60" y1="916.30" x2="84.60" y2="912.30" stroke="#1a1a1a" stroke-width="1.3" />
<line x1="166.82" y1="1169.70" x2="166.82" y2="1173.20" stroke="#1a1a1a" stroke-width="1.3" />
<line x1="166.82" y1="916.30" x2="166.82" y2="913.30" stroke="#1a1a1a" stroke-width="1.3" />
<line x1="249.05" y1="1169.70" x2="249.05" y2="1175.70" stroke="#1a1a1a" stroke-width="1.3" />
<line x1="249.05" y1="916.30" x2="249.05" y2="912.30" stroke="#1a1a1a" stroke-width="1.3" />
<line x1="331.27" y1="1169.70" x2="331.27" y2="1173.20" stroke="#1a1a1a" stroke-width="1.3" />
<line x1="331.27" y1="916.30" x2="331.27" y2="913.30" stroke="#1a1a1a" stroke-width="1.3" />
<line x1="413.50" y1="1169.70" x2="413.50" y2="1175.70" stroke="#1a1a1a" stroke-width="1.3" />
<line x1="413.50" y1="916.30" x2="413.50" y2="912.30" stroke="#1a1a1a" stroke-width="1.3" />
<line x1="78.60" y1="1150.00" x2="84.60" y2="1150.00" stroke="#1a1a1a" stroke-width="1.3" />
<line x1="81.60" y1="1111.05" x2="84.60" y2="1111.05" stroke="#1a1a1a" stroke-width="1.3" />
<line x1="78.60" y1="1072.10" x2="84.60" y2="1072.10" stroke="#1a1a1a" stroke-width="1.3" />
<line x1="81.60" y1="1033.15" x2="84.60" y2="1033.15" stroke="#1a1a1a" stroke-width="1.3" />
<line x1="78.60" y1="994.20" x2="84.60" y2="994.20" stroke="#1a1a1a" stroke-width="1.3" />
<line x1="81.60" y1="955.25" x2="84.60" y2="955.25" stroke="#1a1a1a" stroke-width="1.3" />
<line x1="78.60" y1="916.30" x2="84.60" y2="916.30" stroke="#1a1a1a" stroke-width="1.3" />
<text x="85.10" y="1209.00" font-size="30.5" fill="#000" text-anchor="middle" font-weight="normal" font-style="normal" font-family="Liberation Sans, sans-serif" >0</text>
<text x="249.55" y="1209.00" font-size="30.5" fill="#000" text-anchor="middle" font-weight="normal" font-style="normal" font-family="Liberation Sans, sans-serif" >10</text>
<text x="414.00" y="1209.00" font-size="30.5" fill="#000" text-anchor="middle" font-weight="normal" font-style="normal" font-family="Liberation Sans, sans-serif" >20</text>
<text x="70.00" y="1160.40" font-size="30.5" fill="#000" text-anchor="end" font-weight="normal" font-style="normal" font-family="Liberation Sans, sans-serif" >0</text>
<text x="70.00" y="1082.50" font-size="30.5" fill="#000" text-anchor="end" font-weight="normal" font-style="normal" font-family="Liberation Sans, sans-serif" >2</text>
<text x="70.00" y="1004.60" font-size="30.5" fill="#000" text-anchor="end" font-weight="normal" font-style="normal" font-family="Liberation Sans, sans-serif" >4</text>
<text x="70.00" y="926.70" font-size="30.5" fill="#000" text-anchor="end" font-weight="normal" font-style="normal" font-family="Liberation Sans, sans-serif" >6</text>
<text x="248.00" y="1241.00" font-size="29.7" fill="#000" text-anchor="middle" font-weight="normal" font-style="normal" font-family="Liberation Sans, sans-serif" >Time (s)</text>
<text transform="translate(29,1044.0) rotate(-90)" font-size="28.8" text-anchor="middle" font-family="Liberation Sans, sans-serif">Force (pN)</text>
<text x="422.00" y="1160.10" font-size="30.5" fill="#6ab150" text-anchor="start" font-weight="normal" font-style="normal" font-family="Liberation Sans, sans-serif" >0</text>
<text x="422.00" y="1069.30" font-size="30.5" fill="#6ab150" text-anchor="start" font-weight="normal" font-style="normal" font-family="Liberation Sans, sans-serif" >40</text>
<text x="422.00" y="978.50" font-size="30.5" fill="#6ab150" text-anchor="start" font-weight="normal" font-style="normal" font-family="Liberation Sans, sans-serif" >80</text>
<text transform="translate(466,1043.5) rotate(90)" font-size="29" text-anchor="middle" fill="#6ab150" font-family="Liberation Sans, sans-serif">Displacement (nm)</text>
<defs>
<filter id="grain" x="0" y="0" width="100%" height="100%" color-interpolation-filters="sRGB">
 <feTurbulence type="fractalNoise" baseFrequency="0.85" numOctaves="2" seed="7" result="n"/>
 <feColorMatrix in="n" type="matrix" values="2.4 0 0 0 -0.68  2.4 0 0 0 -0.68  2.4 0 0 0 -0.68  0 0 0 0 1"/>
</filter>
<filter id="bl1" x="-50%" y="-50%" width="200%" height="200%"><feGaussianBlur stdDeviation="1.1"/></filter>
<filter id="bl3" x="-50%" y="-50%" width="200%" height="200%"><feGaussianBlur stdDeviation="3"/></filter>
<clipPath id="clI"><rect x="632.7" y="921.0" width="206.89999999999998" height="97.20000000000005"/></clipPath>
</defs>
<g clip-path="url(#clI)">
<rect x="632.7" y="921.0" width="206.89999999999998" height="97.20000000000005" fill="#8a8a8a"/>
<rect x="632.7" y="921.0" width="206.89999999999998" height="97.20000000000005" filter="url(#grain)" opacity="0.4"/>
<ellipse cx="800" cy="958" rx="48" ry="30" fill="#000" fill-opacity="0.2" filter="url(#bl3)"/>
<ellipse cx="690" cy="975" rx="40" ry="18" fill="#fff" fill-opacity="0.10" filter="url(#bl3)"/>
<path d="M633.4,924.6 L660,928.9 L692.3,938.5 L718,951.4 L735,965.3 L761,986.7" fill="none" stroke="#111" stroke-opacity="0.38" stroke-width="2" stroke-linejoin="round" transform="translate(0.6,1.8)" filter="url(#bl1)"/>
<path d="M633.4,924.6 L660,928.9 L692.3,938.5 L718,951.4 L735,965.3 L761,986.7" fill="none" stroke="#fff" stroke-opacity="0.8" stroke-width="1.8" stroke-linejoin="round" filter="url(#bl1)"/>
<path d="M633.4,939.6 L670.9,943.9 L698.7,946 L722.3,953.5" fill="none" stroke="#111" stroke-opacity="0.38" stroke-width="2" stroke-linejoin="round" transform="translate(0.6,1.8)" filter="url(#bl1)"/>
<path d="M633.4,939.6 L670.9,943.9 L698.7,946 L722.3,953.5" fill="none" stroke="#fff" stroke-opacity="0.8" stroke-width="1.8" stroke-linejoin="round" filter="url(#bl1)"/>
<path d="M633.4,960 L679.4,958.9" fill="none" stroke="#111" stroke-opacity="0.38" stroke-width="2" stroke-linejoin="round" transform="translate(0.6,1.8)" filter="url(#bl1)"/>
<path d="M633.4,960 L679.4,958.9" fill="none" stroke="#fff" stroke-opacity="0.8" stroke-width="1.8" stroke-linejoin="round" filter="url(#bl1)"/>
<path d="M647.3,988.9 L681.6,962 L692.3,954.6" fill="none" stroke="#111" stroke-opacity="0.38" stroke-width="2" stroke-linejoin="round" transform="translate(0.6,1.8)" filter="url(#bl1)"/>
<path d="M647.3,988.9 L681.6,962 L692.3,954.6" fill="none" stroke="#fff" stroke-opacity="0.8" stroke-width="1.8" stroke-linejoin="round" filter="url(#bl1)"/>
<path d="M633.4,991 L670.9,990 L713.7,994.2" fill="none" stroke="#111" stroke-opacity="0.38" stroke-width="2" stroke-linejoin="round" transform="translate(0.6,1.8)" filter="url(#bl1)"/>
<path d="M633.4,991 L670.9,990 L713.7,994.2" fill="none" stroke="#fff" stroke-opacity="0.8" stroke-width="1.8" stroke-linejoin="round" filter="url(#bl1)"/>
<path d="M633.4,998.5 L660,1006 L692,1012.4 L720,1016.7" fill="none" stroke="#111" stroke-opacity="0.38" stroke-width="2" stroke-linejoin="round" transform="translate(0.6,1.8)" filter="url(#bl1)"/>
<path d="M633.4,998.5 L660,1006 L692,1012.4 L720,1016.7" fill="none" stroke="#fff" stroke-opacity="0.8" stroke-width="1.8" stroke-linejoin="round" filter="url(#bl1)"/>
<path d="M765,1003.9 L790.9,996.4 L820.9,993 L839,995" fill="none" stroke="#111" stroke-opacity="0.38" stroke-width="2" stroke-linejoin="round" transform="translate(0.6,1.8)" filter="url(#bl1)"/>
<path d="M765,1003.9 L790.9,996.4 L820.9,993 L839,995" fill="none" stroke="#fff" stroke-opacity="0.8" stroke-width="1.8" stroke-linejoin="round" filter="url(#bl1)"/>
<path d="M748,1016.7 L778,1008 L810,1006" fill="none" stroke="#111" stroke-opacity="0.38" stroke-width="2" stroke-linejoin="round" transform="translate(0.6,1.8)" filter="url(#bl1)"/>
<path d="M748,1016.7 L778,1008 L810,1006" fill="none" stroke="#fff" stroke-opacity="0.8" stroke-width="1.8" stroke-linejoin="round" filter="url(#bl1)"/>
<path d="M786.6,1010.3 L820.9,1008 L839,1008" fill="none" stroke="#111" stroke-opacity="0.38" stroke-width="2" stroke-linejoin="round" transform="translate(0.6,1.8)" filter="url(#bl1)"/>
<path d="M786.6,1010.3 L820.9,1008 L839,1008" fill="none" stroke="#fff" stroke-opacity="0.8" stroke-width="1.8" stroke-linejoin="round" filter="url(#bl1)"/>
<path d="M700,1001 Q730,1010 752,1004" fill="none" stroke="#111" stroke-opacity="0.38" stroke-width="2" stroke-linejoin="round" transform="translate(0.6,1.8)" filter="url(#bl1)"/>
<path d="M700,1001 Q730,1010 752,1004" fill="none" stroke="#fff" stroke-opacity="0.8" stroke-width="1.8" stroke-linejoin="round" filter="url(#bl1)"/>
<path d="M758.7,956.7 L799.4,986.7 L810,993" fill="none" stroke="#222" stroke-opacity="0.3" stroke-width="2" filter="url(#bl1)"/>
<circle cx="757.5" cy="936.5" r="8" fill="#fff" fill-opacity="0.5" filter="url(#bl3)"/>
<ellipse cx="745.6" cy="951.5" rx="5" ry="7.5" fill="#fff" fill-opacity="0.95" filter="url(#bl1)"/>
<circle cx="743" cy="941" r="8" fill="#000" fill-opacity="0.45" filter="url(#bl3)"/>
<ellipse cx="743.5" cy="943.5" rx="4" ry="4.6" fill="#050505" filter="url(#bl1)"/>
<path d="M735,933 L743,943 L740,931 L744,941 L749,932 L746,943" stroke="#111" stroke-width="1.1" fill="none" filter="url(#bl1)"/>
<ellipse cx="739.3" cy="955" rx="1.6" ry="2.3" fill="#0a0a0a"/>
<circle cx="680.2" cy="957.5" r="1.6" fill="#fff" fill-opacity="0.9"/>
<circle cx="679.6" cy="955.8" r="1.55" fill="#0c0c0c"/>
<circle cx="707.3" cy="958.7" r="1.6" fill="#fff" fill-opacity="0.9"/>
<circle cx="706.7" cy="957.0" r="1.55" fill="#0c0c0c"/>
<circle cx="693.6" cy="979.4" r="1.6" fill="#fff" fill-opacity="0.9"/>
<circle cx="693.0" cy="977.7" r="1.55" fill="#0c0c0c"/>
<circle cx="698.3" cy="982.5" r="1.6" fill="#fff" fill-opacity="0.9"/>
<circle cx="697.7" cy="980.8" r="1.55" fill="#0c0c0c"/>
<circle cx="706.0" cy="985.7" r="1.6" fill="#fff" fill-opacity="0.9"/>
<circle cx="705.4" cy="984.0" r="1.55" fill="#0c0c0c"/>
<circle cx="692.6" cy="994.7" r="1.6" fill="#fff" fill-opacity="0.9"/>
<circle cx="692.0" cy="993.0" r="1.55" fill="#0c0c0c"/>
<circle cx="677.6" cy="1004.4" r="1.6" fill="#fff" fill-opacity="0.9"/>
<circle cx="677.0" cy="1002.7" r="1.55" fill="#0c0c0c"/>
<circle cx="642.0" cy="1009.1" r="1.6" fill="#fff" fill-opacity="0.9"/>
<circle cx="641.4" cy="1007.4" r="1.55" fill="#0c0c0c"/>
<circle cx="684.1" cy="1016.0" r="1.6" fill="#fff" fill-opacity="0.9"/>
<circle cx="683.5" cy="1014.3" r="1.55" fill="#0c0c0c"/>
<circle cx="746.7" cy="974.7" r="1.6" fill="#fff" fill-opacity="0.9"/>
<circle cx="746.1" cy="973.0" r="1.55" fill="#0c0c0c"/>
<circle cx="751.9" cy="994.9" r="1.6" fill="#fff" fill-opacity="0.9"/>
<circle cx="751.3" cy="993.2" r="1.55" fill="#0c0c0c"/>
<circle cx="784.6" cy="1015.5" r="1.6" fill="#fff" fill-opacity="0.9"/>
<circle cx="784.0" cy="1013.8" r="1.55" fill="#0c0c0c"/>
<circle cx="634.1" cy="953.7" r="1.6" fill="#fff" fill-opacity="0.9"/>
<circle cx="633.5" cy="952.0" r="1.55" fill="#0c0c0c"/>
<rect x="632.7" y="921.0" width="206.89999999999998" height="97.20000000000005" filter="url(#grain)" opacity="0.16"/>
</g>
<rect x="791.7" y="924.5" width="44" height="3.4" fill="#fff"/>
<path d="M629.6,1141.2 L629.8,1141.2 L630.1,1141.2 L630.3,1141.2 L630.6,1141.2 L630.8,1141.2 L631.1,1141.2 L631.3,1141.2 L631.6,1141.2 L631.8,1141.2 L632.1,1141.2 L632.3,1141.2 L632.5,1141.2 L632.8,1141.2 L633.0,1141.2 L633.3,1141.2 L633.5,1141.2 L633.8,1141.2 L634.0,1141.2 L634.3,1141.2 L634.5,1141.2 L634.8,1141.2 L635.0,1141.2 L635.2,1141.2 L635.5,1141.2 L635.7,1141.2 L636.0,1141.2 L636.2,1141.2 L636.5,1141.2 L636.7,1141.2 L637.0,1141.2 L637.2,1141.2 L637.5,1141.2 L637.7,1141.2 L637.9,1141.2 L638.2,1141.2 L638.4,1141.2 L638.7,1141.2 L638.9,1141.2 L639.2,1141.2 L639.4,1141.2 L639.7,1141.2 L639.9,1141.2 L640.2,1141.2 L640.4,1141.2 L640.6,1141.2 L640.9,1141.2 L641.1,1141.2 L641.4,1141.2 L641.6,1141.2 L641.9,1141.2 L642.1,1141.2 L642.4,1141.2 L642.6,1141.2 L642.9,1141.2 L643.1,1141.2 L643.3,1141.2 L643.6,1141.2 L643.8,1141.2 L644.1,1141.2 L644.3,1141.2 L644.6,1141.2 L644.8,1141.2 L645.1,1141.2 L645.3,1141.2 L645.6,1141.2 L645.8,1141.2 L646.0,1141.2 L646.3,1141.2 L646.5,1141.2 L646.8,1141.2 L647.0,1141.2 L647.3,1141.2 L647.5,1141.2 L647.8,1141.2 L648.0,1141.2 L648.3,1141.2 L648.5,1141.2 L648.7,1141.2 L649.0,1141.2 L649.2,1141.2 L649.5,1141.2 L649.7,1141.2 L650.0,1141.2 L650.2,1141.2 L650.5,1141.2 L650.7,1141.2 L651.0,1141.2 L651.2,1141.2 L651.4,1141.2 L651.7,1141.2 L651.9,1141.2 L652.2,1141.2 L652.4,1141.2 L652.6,1141.2 L652.9,1141.2 L653.1,1141.2 L653.3,1141.2 L653.6,1141.2 L653.8,1141.2 L654.1,1141.1 L654.3,1141.1 L654.6,1141.1 L654.8,1141.1 L655.1,1141.1 L655.3,1141.1 L655.6,1141.0 L655.8,1141.0 L656.0,1141.0 L656.3,1141.0 L656.5,1141.0 L656.8,1141.0 L657.0,1141.0 L657.3,1140.9 L657.5,1140.9 L657.8,1140.9 L658.0,1140.9 L658.3,1140.9 L658.5,1140.9 L658.7,1140.8 L659.0,1140.8 L659.2,1140.8 L659.5,1140.8 L659.7,1140.8 L660.0,1140.8 L660.2,1140.8 L660.5,1140.7 L660.7,1140.7 L661.0,1140.7 L661.2,1140.7 L661.4,1140.7 L661.7,1140.7 L661.9,1140.6 L662.2,1140.6 L662.4,1140.6 L662.7,1140.6 L662.9,1140.6 L663.2,1140.6 L663.4,1140.5 L663.7,1140.5 L663.9,1140.5 L664.1,1140.5 L664.4,1140.5 L664.6,1140.5 L664.9,1140.5 L665.1,1140.4 L665.4,1140.4 L665.6,1140.4 L665.9,1140.4 L666.1,1140.4 L666.4,1140.4 L666.6,1140.3 L666.8,1140.3 L667.1,1140.3 L667.3,1140.3 L667.6,1140.3 L667.8,1140.3 L668.1,1140.3 L668.3,1140.2 L668.6,1140.2 L668.8,1140.2 L669.1,1140.2 L669.3,1140.2 L669.5,1140.2 L669.8,1140.1 L670.0,1140.1 L670.3,1140.1 L670.5,1140.1 L670.8,1140.1 L671.0,1140.1 L671.3,1140.0 L671.5,1140.0 L671.8,1140.0 L672.0,1140.0 L672.2,1140.0 L672.5,1140.0 L672.7,1140.0 L673.0,1139.9 L673.2,1139.9 L673.5,1139.9 L673.7,1139.9 L674.0,1139.9 L674.2,1139.9 L674.5,1139.8 L674.7,1139.8 L674.9,1139.8 L675.2,1139.8 L675.4,1139.8 L675.6,1139.8 L675.9,1139.6 L676.1,1139.4 L676.4,1139.2 L676.6,1139.0 L676.9,1138.8 L677.1,1138.6 L677.4,1138.4 L677.6,1138.2 L677.9,1138.0 L678.1,1137.8 L678.3,1137.6 L678.6,1137.4 L678.8,1137.2 L679.1,1137.0 L679.3,1136.8 L679.6,1136.6 L679.8,1136.4 L680.1,1136.2 L680.3,1136.0 L680.6,1135.8 L680.8,1135.7 L681.1,1135.5 L681.3,1135.3 L681.6,1135.1 L681.8,1134.9 L682.1,1134.7 L682.3,1134.5 L682.6,1134.3 L682.8,1134.1 L683.0,1133.9 L683.2,1133.5 L683.5,1133.1 L683.7,1132.6 L684.0,1132.2 L684.2,1131.8 L684.5,1131.4 L684.7,1130.9 L685.0,1131.4 L685.2,1131.0 L685.4,1130.6 L685.7,1130.1 L685.9,1129.7 L686.2,1129.3 L686.4,1128.9 L686.7,1128.4 L686.9,1128.0 L687.2,1127.6 L687.4,1127.1 L687.7,1126.7 L687.9,1126.3 L688.1,1125.9 L688.4,1125.4 L688.6,1125.0 L688.9,1124.6 L689.1,1124.1 L689.4,1123.7 L689.6,1123.3 L689.9,1122.9 L690.1,1122.4 L690.4,1122.0 L690.6,1121.6 L690.8,1121.1 L691.1,1120.7 L691.3,1120.3 L691.6,1119.9 L691.8,1119.4 L692.1,1119.0 L692.2,1118.8 L692.4,1118.2 L692.7,1117.7 L692.9,1117.1 L693.2,1116.6 L693.4,1116.0 L693.7,1115.5 L693.9,1115.0 L694.2,1114.4 L694.4,1113.9 L694.7,1113.3 L694.9,1112.8 L695.2,1112.2 L695.4,1111.7 L695.7,1111.1 L695.9,1110.6 L696.1,1110.0 L696.4,1109.5 L696.6,1108.9 L696.9,1108.4 L697.1,1107.8 L697.4,1107.3 L697.6,1106.7 L697.9,1106.2 L698.1,1105.6 L698.4,1105.1 L698.6,1104.5 L698.9,1104.0 L699.1,1103.4 L699.4,1102.9 L699.6,1102.3 L699.9,1101.8 L700.1,1101.2 L700.3,1100.7 L700.6,1100.1 L700.8,1099.6 L701.1,1099.0 L701.3,1098.5 L701.4,1098.4 L701.6,1097.7 L701.9,1097.0 L702.1,1096.3 L702.4,1095.6 L702.6,1094.9 L702.9,1094.2 L703.1,1093.5 L703.4,1092.8 L703.6,1092.1 L703.9,1091.4 L704.1,1090.7 L704.4,1090.0 L704.6,1089.3 L704.9,1088.6 L705.1,1087.9 L705.4,1087.2 L705.6,1086.5 L705.9,1085.8 L706.1,1085.1 L706.3,1084.4 L706.6,1083.7 L706.8,1083.0 L707.1,1082.3 L707.3,1081.6 L707.6,1080.9 L707.8,1080.2 L708.1,1079.5 L708.3,1078.8 L708.6,1078.1 L708.8,1077.4 L709.1,1076.7 L709.3,1076.0 L709.6,1075.3 L709.7,1075.0 L709.9,1083.2 L710.2,1091.5 L710.4,1099.7 L710.7,1107.0 L710.9,1115.2 L711.1,1119.3 L711.3,1119.2 L711.6,1119.2 L711.8,1119.1 L712.1,1119.0 L712.3,1118.9 L712.5,1118.8 L712.8,1118.7 L713.0,1118.6 L713.3,1118.5 L713.5,1118.5 L713.8,1118.4 L714.0,1118.3 L714.3,1118.2 L714.5,1118.1 L714.8,1118.0 L715.0,1117.9 L715.2,1117.9 L715.5,1118.3 L715.7,1118.7 L716.0,1119.1 L716.2,1119.5 L716.5,1119.9 L716.7,1120.2 L717.0,1120.6 L717.2,1121.0 L717.5,1121.4 L717.7,1121.8 L718.0,1122.2 L718.2,1122.6 L718.5,1123.0 L718.7,1123.4 L718.9,1123.7 L719.1,1124.4 L719.4,1125.0 L719.6,1125.7 L719.9,1126.3 L720.1,1127.0 L720.4,1127.6 L720.6,1128.3 L720.9,1128.9 L721.1,1129.6 L721.3,1130.2 L721.6,1130.9 L721.8,1131.5 L722.1,1132.1 L722.3,1132.8 L722.6,1133.4 L722.8,1134.1 L723.1,1134.7 L723.3,1135.4 L723.6,1136.0 L723.8,1136.7 L724.0,1137.3 L724.3,1138.0 L724.4,1138.3 L724.7,1137.9 L724.9,1137.5 L725.1,1137.1 L725.4,1136.8 L725.6,1136.4 L725.9,1136.0 L726.1,1135.6 L726.4,1135.2 L726.6,1134.8 L726.9,1134.4 L727.1,1134.0 L727.4,1133.6 L727.6,1133.3 L727.8,1132.9 L728.1,1132.5 L728.3,1132.1 L728.6,1131.7 L728.8,1131.3 L729.0,1131.0 L729.3,1130.8 L729.5,1130.5 L729.8,1130.3 L730.0,1130.1 L730.3,1129.8 L730.5,1129.6 L730.8,1129.4 L731.0,1129.1 L731.3,1128.9 L731.5,1128.6 L731.8,1128.4 L732.0,1128.2 L732.2,1127.9 L732.5,1127.7 L732.7,1127.5 L733.0,1127.2 L733.2,1127.0 L733.5,1126.8 L733.6,1126.6 L733.9,1126.2 L734.1,1125.7 L734.4,1125.2 L734.6,1124.8 L734.8,1124.3 L735.1,1123.8 L735.3,1123.4 L735.6,1122.9 L735.8,1122.4 L736.1,1122.0 L736.3,1121.5 L736.6,1121.0 L736.8,1120.6 L737.1,1120.1 L737.3,1119.6 L737.5,1119.2 L737.8,1118.7 L738.0,1118.2 L738.2,1117.9 L738.5,1118.6 L738.7,1119.2 L739.0,1119.9 L739.2,1120.6 L739.4,1121.3 L739.7,1122.0 L739.9,1122.6 L740.2,1123.3 L740.4,1124.0 L740.7,1124.7 L740.9,1125.4 L741.2,1126.0 L741.4,1126.7 L741.7,1127.4 L741.9,1128.1 L742.1,1127.6 L742.4,1127.2 L742.6,1126.7 L742.9,1126.2 L743.1,1125.8 L743.4,1125.3 L743.6,1124.8 L743.9,1124.4 L744.1,1123.9 L744.4,1123.4 L744.6,1123.0 L744.8,1122.5 L745.1,1122.0 L745.3,1121.6 L745.6,1121.1 L745.8,1120.6 L746.1,1120.2 L746.3,1119.7 L746.5,1119.3 L746.7,1118.7 L747.0,1118.0 L747.2,1117.4 L747.5,1116.7 L747.7,1116.1 L748.0,1115.4 L748.2,1114.8 L748.5,1114.1 L748.7,1113.5 L749.0,1112.8 L749.2,1112.2 L749.4,1112.5 L749.7,1111.8 L749.9,1111.2 L750.2,1110.5 L750.4,1109.9 L750.7,1109.2 L750.9,1108.6 L751.2,1107.9 L751.4,1107.3 L751.7,1106.6 L751.9,1106.0 L752.1,1105.3 L752.4,1104.7 L752.6,1104.0 L752.9,1103.4 L753.1,1102.7 L753.4,1102.1 L753.6,1101.4 L753.9,1100.8 L754.1,1100.1 L754.4,1099.5 L754.6,1098.8 L754.8,1098.4 L755.0,1097.8 L755.3,1097.3 L755.5,1096.8 L755.8,1096.3 L756.0,1095.8 L756.3,1095.3 L756.5,1094.8 L756.8,1094.3 L757.0,1093.8 L757.3,1093.3 L757.5,1092.7 L757.8,1092.2 L758.0,1091.7 L758.2,1091.2 L758.5,1090.7 L758.7,1090.2 L759.0,1089.7 L759.2,1089.2 L759.5,1088.7 L759.7,1088.2 L760.0,1087.7 L760.2,1087.1 L760.5,1086.6 L760.7,1086.1 L761.0,1085.6 L761.2,1085.1 L761.5,1084.6 L761.7,1084.1 L762.0,1083.6 L762.2,1083.1 L762.4,1082.6 L762.7,1082.0 L762.9,1081.5 L763.2,1081.0 L763.4,1080.5 L763.7,1080.0 L763.9,1079.5 L764.0,1079.4 L764.2,1078.9 L764.5,1078.4 L764.7,1077.9 L765.0,1077.5 L765.2,1077.0 L765.5,1076.5 L765.7,1076.0 L766.0,1075.6 L766.2,1075.1 L766.4,1074.6 L766.7,1074.1 L766.9,1073.7 L767.2,1073.2 L767.4,1072.7 L767.7,1072.2 L767.9,1071.8 L768.2,1071.3 L768.4,1070.8 L768.7,1070.3 L768.9,1069.9 L769.1,1069.4 L769.4,1068.9 L769.6,1068.4 L769.9,1068.0 L770.1,1067.5 L770.4,1067.0 L770.6,1066.5 L770.9,1066.0 L771.1,1065.6 L771.4,1065.1 L771.6,1064.6 L771.8,1064.1 L772.1,1063.7 L772.3,1063.3 L772.5,1062.1 L772.8,1061.8 L773.0,1061.6 L773.3,1061.3 L773.5,1061.0 L773.8,1060.7 L774.0,1060.4 L774.2,1060.2 L774.5,1059.9 L774.7,1059.6 L775.0,1059.3 L775.2,1059.1 L775.5,1058.8 L775.7,1058.5 L776.0,1058.2 L776.2,1057.9 L776.5,1057.7 L776.7,1057.4 L776.9,1057.1 L777.2,1056.8 L777.4,1056.6 L777.7,1056.3 L777.9,1056.0 L778.2,1055.7 L778.4,1055.4 L778.7,1055.2 L778.7,1055.1 L779.0,1055.0 L779.2,1055.0 L779.5,1054.9 L779.7,1054.8 L780.0,1054.8 L780.2,1054.7 L780.5,1054.6 L780.7,1054.6 L781.0,1054.5 L781.2,1054.4 L781.5,1054.4 L781.7,1054.3 L781.9,1054.2 L782.2,1054.2 L782.4,1054.1 L782.7,1054.0 L782.9,1054.0 L783.2,1053.9 L783.4,1053.8 L783.7,1053.8 L783.9,1053.7 L784.2,1053.6 L784.2,1053.6 L784.5,1055.8 L784.7,1057.9 L785.0,1060.1 L785.2,1062.2 L785.5,1064.3 L785.7,1066.5 L786.0,1068.6 L786.1,1069.7 L786.3,1069.0 L786.6,1068.3 L786.8,1067.6 L787.1,1067.0 L787.3,1066.3 L787.6,1065.6 L787.8,1064.9 L788.0,1064.2 L788.3,1063.6 L788.5,1062.9 L788.8,1062.2 L789.0,1061.5 L789.3,1060.8 L789.5,1060.2 L789.8,1059.5 L790.0,1059.0 L790.3,1058.6 L790.5,1058.1 L790.7,1057.7 L791.0,1057.2 L791.2,1056.7 L791.5,1056.3 L791.7,1055.8 L792.0,1055.4 L792.2,1054.9 L792.5,1054.5 L792.7,1054.0 L793.0,1053.6 L793.2,1053.1 L793.4,1052.7 L793.7,1052.2 L793.9,1051.8 L794.2,1051.3 L794.4,1050.8 L794.7,1050.4 L794.9,1049.9 L795.2,1049.5 L795.3,1049.3 L795.5,1049.3 L795.8,1049.4 L796.0,1049.5 L796.3,1049.6 L796.5,1049.6 L796.8,1049.7 L797.0,1049.8 L797.3,1049.9 L797.5,1050.0 L797.7,1050.0 L798.0,1050.1 L798.2,1050.2 L798.5,1050.3 L798.7,1050.3 L799.0,1050.4 L799.2,1050.5 L799.5,1050.6 L799.7,1050.7 L799.9,1050.7 L800.1,1053.2 L800.4,1055.8 L800.6,1058.3 L800.9,1060.8 L801.1,1063.4 L801.4,1065.9 L801.6,1068.4 L801.7,1069.7 L802.0,1069.1 L802.2,1068.6 L802.5,1068.0 L802.7,1067.5 L803.0,1066.9 L803.2,1066.4 L803.5,1065.8 L803.7,1065.3 L804.0,1064.7 L804.2,1064.2 L804.5,1063.6 L804.7,1063.1 L805.0,1062.5 L805.2,1062.0 L805.5,1061.4 L805.7,1060.9 L806.0,1060.3 L806.2,1059.7 L806.3,1059.5 L806.6,1059.1 L806.8,1058.8 L807.1,1058.5 L807.3,1058.2 L807.6,1057.9 L807.8,1057.5 L808.1,1057.2 L808.3,1056.9 L808.5,1056.6 L808.8,1056.2 L809.0,1055.9 L809.3,1055.6 L809.5,1055.3 L809.8,1054.9 L810.0,1054.6 L810.3,1054.3 L810.5,1054.0 L810.8,1053.6 L811.0,1053.3 L811.2,1053.0 L811.5,1052.7 L811.7,1052.3 L811.9,1052.2 L812.1,1053.4 L812.4,1054.6 L812.6,1055.8 L812.9,1057.0 L813.1,1058.1 L813.4,1059.3 L813.6,1060.5 L813.9,1061.7 L814.1,1062.9 L814.4,1064.1 L814.6,1065.3 L814.9,1065.0 L815.1,1064.7 L815.4,1064.4 L815.6,1064.1 L815.8,1063.8 L816.1,1063.4 L816.3,1063.1 L816.6,1062.8 L816.8,1062.5 L817.1,1062.2 L817.3,1061.9 L817.6,1061.6 L817.8,1061.3 L818.1,1061.0 L818.3,1060.6 L818.5,1060.3 L818.8,1060.0 L819.0,1059.7 L819.2,1059.5 L819.5,1059.9 L819.7,1060.3 L820.0,1060.6 L820.2,1061.0 L820.5,1061.4 L820.7,1061.8 L820.9,1062.2 L821.2,1062.6 L821.4,1063.0 L821.7,1063.4 L821.9,1063.8 L822.2,1064.1 L822.4,1064.5 L822.7,1064.9 L822.9,1065.3 L823.2,1065.0 L823.4,1064.7 L823.7,1064.4 L823.9,1064.1 L824.1,1063.7 L824.4,1063.4 L824.6,1063.1 L824.9,1062.8 L825.1,1062.5 L825.4,1062.2 L825.6,1061.8 L825.9,1061.5 L826.1,1061.2 L826.4,1060.9 L826.6,1060.6 L826.9,1060.3 L827.1,1059.9 L827.4,1059.6 L827.5,1059.5 L827.8,1059.3 L828.0,1059.1 L828.2,1059.0 L828.5,1058.8 L828.7,1058.6 L829.0,1058.5 L829.2,1058.3 L829.5,1058.1 L829.7,1058.0 L830.0,1057.8 L830.2,1057.6 L830.5,1057.5 L830.7,1057.3 L830.9,1057.1 L831.2,1057.0 L831.4,1056.8 L831.7,1056.6 L831.9,1056.5 L832.2,1056.3 L832.4,1056.1 L832.7,1056.0 L832.9,1055.8 L833.2,1055.6 L833.4,1055.5 L833.6,1055.3 L833.9,1055.1 L834.0,1055.1 L834.2,1054.9 L834.4,1054.6 L834.7,1054.4 L834.9,1054.1 L835.2,1053.9 L835.4,1053.7 L835.7,1053.4 L835.9,1053.2 L836.2,1053.0 L836.4,1052.7 L836.7,1052.5 L836.9,1052.3 L837.2,1052.0 L837.4,1051.8 L837.7,1051.5 L837.9,1051.3 L838.2,1051.1 L838.4,1050.8 L838.6,1050.7 L838.8,1049.4 L839.1,1048.0 L839.3,1046.7 L839.5,1045.3 L839.8,1044.0 L840.0,1042.7 L840.3,1041.3 L840.5,1040.0 L840.8,1038.6 L841.0,1037.3 L841.3,1036.0 L841.5,1035.5 L841.8,1034.2 L842.0,1032.8 L842.3,1031.5 L842.5,1030.2 L842.8,1028.8 L843.0,1027.5 L843.2,1026.8 L843.4,1025.8 L843.6,1024.9 L843.9,1023.9 L844.1,1022.9 L844.4,1021.9 L844.6,1021.0 L844.9,1020.0 L845.1,1019.0 L845.4,1018.1 L845.6,1017.1 L845.9,1016.1 L846.1,1015.1 L846.3,1014.2 L846.6,1013.2 L846.8,1012.2 L847.1,1011.2 L847.3,1010.3 L847.6,1009.3 L847.8,1008.3 L848.1,1007.3 L848.3,1006.4 L848.6,1005.4 L848.8,1004.4 L849.0,1003.5 L849.3,1002.5 L849.5,1001.5 L849.8,1000.5 L850.0,999.6 L850.3,998.6 L850.5,997.6 L850.8,996.7 L851.0,995.9 L851.3,995.0 L851.5,994.1 L851.7,993.2 L852.0,992.4 L852.2,991.5 L852.5,990.6 L852.7,989.7 L853.0,988.9 L853.2,988.0 L853.5,987.1 L853.7,986.2 L854.0,985.3 L854.2,984.5 L854.4,983.6 L854.7,982.7 L854.9,981.8 L855.2,981.0 L855.4,980.1 L855.7,979.2 L855.9,978.3 L856.2,977.5 L856.4,976.6 L856.7,975.7 L856.9,974.8 L857.1,974.0 L857.4,973.1 L857.6,972.2 L857.9,971.3 L858.1,970.7 L858.4,970.0 L858.6,969.3 L858.9,968.6 L859.1,967.9 L859.4,967.2 L859.6,966.6 L859.8,965.9 L860.1,965.2 L860.3,964.5 L860.6,963.8 L860.8,963.2 L861.1,962.5 L861.3,961.8 L861.6,961.1 L861.8,960.4 L862.1,959.7 L862.3,959.1 L862.5,958.4 L862.8,957.7 L863.0,957.0 L863.3,956.3 L863.5,955.7 L863.8,955.0 L864.0,954.3 L864.3,953.6 L864.5,952.9 L864.8,952.3 L865.0,951.6 L865.2,950.9 L865.5,950.3 L865.7,949.7 L866.0,949.1 L866.2,948.6 L866.5,948.0 L866.7,947.4 L867.0,946.8 L867.2,946.2 L867.5,945.6 L867.7,945.1 L867.9,944.5 L868.2,943.9 L868.4,943.3 L868.7,942.7 L868.9,942.1 L869.2,941.5 L869.4,941.0 L869.7,940.4 L869.9,939.8 L870.2,939.2 L870.4,938.6 L870.6,938.0 L870.8,937.8 L871.0,937.2 L871.3,936.6 L871.5,936.1 L871.8,935.5 L872.0,934.9 L872.3,934.4 L872.5,933.8 L872.8,933.3 L873.0,932.7 L873.2,932.1 L873.5,931.6 L873.7,931.0 L874.0,930.5 L874.2,929.7 L874.5,928.9 L874.7,928.1 L874.9,927.5 L875.2,960.2 L875.4,992.9 L875.6,1009.3 L875.8,1012.0 L876.1,1014.7 L876.3,1017.4 L876.6,1020.1 L876.8,1022.8 L877.1,1025.5 L877.2,1026.8 L877.5,1025.2 L877.7,1023.6 L878.0,1022.0 L878.2,1020.4 L878.5,1018.8 L878.6,1018.1 L878.8,1020.9 L879.1,1023.7 L879.3,1026.6 L879.6,1029.4 L879.8,1032.3 L880.1,1035.1 L880.3,1037.9 L880.6,1040.8 L880.8,1043.6 L880.9,1044.3 L881.1,1043.0 L881.4,1041.6 L881.6,1040.2 L881.9,1038.9 L882.1,1037.5 L882.4,1036.2 L882.6,1034.8 L882.7,1034.1 L883.0,1033.2 L883.2,1032.3 L883.5,1031.3 L883.7,1030.4 L884.0,1029.5 L884.2,1028.5 L884.5,1027.6 L884.7,1026.7 L885.0,1025.8 L885.2,1024.8 L885.5,1023.9 L885.8,1025.0 L886.0,1026.0 L886.3,1027.1 L886.5,1028.1 L886.8,1029.2 L886.9,1029.7 L887.1,1040.6 L887.4,1051.5 L887.6,1062.4 L887.8,1070.6 L888.1,1075.9 L888.3,1081.2 L888.6,1086.5 L888.8,1091.8 L889.1,1097.2 L889.2,1099.8 L889.4,1102.9 L889.7,1106.0 L889.9,1109.2 L890.2,1112.3 L890.4,1115.4 L890.7,1118.5 L890.9,1121.6 L891.0,1123.2 L891.3,1124.3 L891.5,1125.5 L891.8,1126.7 L892.0,1127.8 L892.2,1129.0 L892.5,1130.2 L892.7,1131.3 L892.9,1131.9 L893.1,1131.7 L893.4,1131.5 L893.6,1131.3 L893.8,1131.2 L894.1,1131.0 L894.3,1130.8 L894.6,1130.6 L894.8,1130.4 L895.1,1130.2 L895.3,1130.0 L895.6,1129.8 L895.8,1129.6 L896.1,1129.4 L896.3,1129.2 L896.5,1129.0 L896.8,1128.0 L897.0,1126.9 L897.3,1125.9 L897.5,1124.9 L897.8,1123.8 L898.0,1122.8 L898.3,1121.7 L898.5,1120.7 L898.8,1119.7 L899.0,1118.6 L899.2,1117.6 L899.3,1117.3 L899.6,1119.7 L899.8,1122.0 L900.0,1124.3 L900.3,1126.7 L900.5,1129.0 L900.8,1131.3 L901.0,1133.7 L901.1,1134.9 L901.4,1134.2 L901.6,1133.5 L901.9,1132.9 L902.2,1132.2 L902.4,1131.5 L902.7,1130.9 L902.9,1130.2 L903.2,1129.5 L903.4,1128.9 L903.7,1128.2 L903.9,1127.6 L904.2,1127.1 L904.4,1126.7 L904.7,1126.2 L904.9,1125.8 L905.1,1125.3 L905.4,1124.9 L905.6,1124.4 L905.9,1124.0 L906.1,1123.5 L906.4,1123.1 L906.6,1122.6 L906.9,1122.2 L907.1,1121.7 L907.4,1121.3 L907.6,1120.8 L907.9,1120.4 L908.1,1119.9 L908.4,1119.5 L908.6,1119.0 L908.9,1118.6 L909.1,1118.1 L909.4,1117.7 L909.6,1117.2 L909.9,1116.8 L910.1,1116.3 L910.4,1115.9 L910.6,1115.6 L910.8,1115.4 L911.1,1115.2 L911.3,1114.9 L911.6,1114.7 L911.8,1114.5 L912.1,1114.2 L912.3,1114.0 L912.6,1113.8 L912.8,1113.5 L913.1,1113.3 L913.3,1113.1 L913.5,1112.8 L913.8,1112.6 L914.0,1112.4 L914.3,1112.1 L914.5,1111.9 L914.8,1111.7 L915.0,1111.4 L915.3,1111.2 L915.5,1111.0 L915.8,1110.7 L916.0,1110.5 L916.2,1110.3 L916.5,1110.0 L916.7,1109.8 L917.0,1109.6 L917.2,1109.3 L917.5,1109.1 L917.7,1108.9 L918.0,1108.6 L918.2,1108.4 L918.5,1108.2 L918.7,1107.9 L918.9,1107.7 L919.2,1107.5 L919.4,1107.2 L919.6,1107.1 L919.8,1106.9 L920.0,1106.6 L920.3,1106.4 L920.5,1106.2 L920.8,1105.9 L921.0,1105.7 L921.3,1105.5 L921.5,1105.2 L921.8,1105.0 L922.0,1104.8 L922.3,1104.5 L922.5,1104.3 L922.7,1104.1 L923.0,1103.8 L923.2,1103.6 L923.5,1103.4 L923.7,1103.1 L924.0,1102.9 L924.2,1102.7 L924.5,1102.4 L924.7,1102.2 L925.0,1102.0 L925.2,1101.7 L925.4,1101.5 L925.7,1101.3 L925.9,1101.0 L926.2,1100.8 L926.4,1100.6 L926.7,1100.3 L926.9,1100.1 L927.2,1099.9 L927.4,1099.6 L927.7,1099.4 L927.9,1099.2 L928.1,1098.9 L928.4,1098.7 L928.6,1098.5 L928.8,1098.4 L929.0,1098.1 L929.3,1097.9 L929.5,1097.7 L929.7,1097.4 L930.0,1097.2 L930.2,1097.0 L930.5,1096.7 L930.7,1096.5 L931.0,1096.3 L931.2,1096.0 L931.5,1095.8 L931.7,1095.5 L932.0,1095.3 L932.2,1095.1 L932.4,1094.8 L932.7,1094.6 L932.9,1094.4 L933.2,1094.1 L933.4,1093.9 L933.7,1093.7 L933.9,1093.4 L934.2,1093.2 L934.4,1093.0 L934.7,1092.7 L934.9,1092.5 L935.1,1092.3 L935.4,1092.0 L935.6,1091.8 L935.9,1091.6 L936.1,1091.3 L936.4,1091.1 L936.6,1090.9 L936.9,1090.6 L937.1,1090.4 L937.4,1090.2 L937.6,1089.9 L937.8,1089.7 L938.0,1089.6 L938.2,1089.3 L938.5,1089.0 L938.7,1088.8 L938.9,1088.5 L939.2,1088.2 L939.4,1088.0 L939.7,1087.7 L939.9,1087.4 L940.2,1087.1 L940.4,1086.9 L940.7,1086.6 L940.9,1086.3 L941.2,1086.0 L941.4,1085.8 L941.6,1085.5 L941.9,1085.2 L942.1,1085.0 L942.4,1084.7 L942.6,1084.4 L942.9,1084.1 L943.1,1083.9 L943.4,1083.6 L943.6,1083.3 L943.9,1083.1 L944.1,1082.8 L944.3,1082.5 L944.6,1082.2 L944.8,1082.0 L945.1,1081.7 L945.3,1081.4 L945.6,1081.1 L945.8,1080.9 L946.1,1080.6 L946.3,1080.3 L946.6,1080.1 L946.8,1079.8 L947.0,1079.5 L947.2,1079.4 L947.4,1078.7 L947.7,1078.0 L947.9,1077.2 L948.2,1076.5 L948.4,1075.8 L948.7,1075.1 L948.9,1074.4 L949.2,1073.7 L949.4,1073.0 L949.7,1072.3 L949.9,1071.6 L950.2,1070.8 L950.4,1070.1 L950.7,1069.4 L950.9,1068.7 L951.2,1068.0 L951.4,1067.3 L951.7,1066.6 L951.8,1066.2 L952.0,1065.6 L952.3,1065.1 L952.5,1064.5 L952.8,1063.9 L953.0,1063.3 L953.2,1062.7 L953.5,1062.1 L953.7,1061.6 L954.0,1061.0 L954.2,1060.4 L954.5,1059.8 L954.7,1059.2 L955.0,1058.6 L955.2,1058.1 L955.5,1057.5 L955.7,1056.9 L955.9,1056.3 L956.2,1055.7 L956.4,1055.1 L956.7,1054.6 L956.9,1054.0 L957.2,1053.4 L957.3,1053.1 L957.5,1052.5 L957.8,1051.9 L958.0,1051.3 L958.3,1050.8 L958.5,1050.2 L958.8,1049.6 L959.0,1049.0 L959.3,1048.4 L959.5,1047.8 L959.8,1047.3 L960.0,1046.7 L960.2,1046.1 L960.5,1045.5 L960.7,1044.9 L961.0,1044.3 L961.2,1043.7 L961.5,1043.2 L961.7,1042.6 L962.0,1042.0 L962.2,1041.4 L962.5,1040.8 L962.7,1040.2 L962.8,1040.0 L963.1,1039.4 L963.3,1038.8 L963.6,1038.3 L963.8,1037.7 L964.1,1037.1 L964.3,1036.6 L964.6,1036.0 L964.8,1035.5 L965.1,1034.9 L965.3,1034.3 L965.5,1033.8 L965.8,1033.2 L966.0,1032.7 L966.3,1084.4 L966.5,1123.2 L966.7,1123.0 L967.0,1123.8 L967.2,1124.6 L967.5,1125.4 L967.7,1126.1 L968.0,1126.9 L968.2,1127.7 L968.3,1128.1 L968.6,1128.3 L968.8,1128.5 L969.1,1128.7 L969.3,1128.9 L969.6,1129.1 L969.8,1129.3 L970.1,1129.5 L970.3,1129.7 L970.6,1129.8 L970.8,1130.0 L971.0,1130.2 L971.3,1130.4 L971.5,1130.6 L971.8,1130.8 L972.0,1131.0 L972.3,1131.9 L972.5,1132.8 L972.8,1133.7 L973.0,1134.6 L973.3,1135.5 L973.5,1136.4 L973.8,1137.2 L974.0,1138.1 L974.3,1139.0 L974.5,1139.9 L974.8,1140.8 L975.0,1141.7 L975.3,1142.6 L975.5,1143.5 L975.7,1144.2 L976.0,1144.0 L976.2,1143.8 L976.4,1143.6 L976.7,1143.4 L976.9,1143.2 L977.2,1143.0 L977.4,1142.8 L977.7,1142.6 L977.9,1142.4 L978.2,1142.2 L978.4,1142.0 L978.7,1141.8 L978.9,1141.6 L979.1,1141.4 L979.4,1141.2 L979.6,1140.6 L979.9,1139.9 L980.1,1139.2 L980.4,1138.5 L980.6,1137.8 L980.9,1137.1 L981.1,1136.5 L981.4,1135.8 L981.6,1135.1 L981.8,1134.4 L982.1,1133.7 L982.3,1133.1 L982.6,1132.4 L982.8,1131.7 L983.1,1131.0 L983.3,1130.8 L983.6,1130.6 L983.8,1130.4 L984.1,1130.2 L984.3,1130.0 L984.5,1129.8 L984.8,1129.7 L985.0,1129.5 L985.3,1129.3 L985.5,1129.1 L985.8,1128.9 L986.0,1128.7 L986.3,1128.5 L986.5,1128.3 L986.8,1128.1 L987.0,1128.3 L987.2,1128.5 L987.5,1128.7 L987.7,1128.9 L988.0,1129.1 L988.2,1129.3 L988.5,1129.5 L988.7,1129.7 L989.0,1129.8 L989.2,1130.0 L989.5,1130.2 L989.7,1130.4 L989.9,1130.6 L990.2,1130.8 L990.4,1131.0 L990.7,1131.5 L990.9,1132.0 L991.2,1132.5 L991.4,1133.0 L991.7,1133.4 L991.9,1133.9 L992.2,1134.4 L992.4,1134.9 L992.6,1135.4 L992.9,1135.9 L993.1,1136.4 L993.4,1136.9 L993.6,1137.3 L993.9,1137.8 L994.1,1138.3 L994.4,1139.1 L994.6,1139.9 L994.9,1140.7 L995.1,1141.5 L995.4,1142.3 L995.6,1143.0 L995.9,1143.8 L996.1,1144.6 L996.4,1145.4 L996.4,1145.6 L996.7,1146.1 L996.9,1146.7 L997.2,1147.2 L997.4,1147.7 L997.7,1148.3 L997.7,1160.9 L997.4,1160.4 L997.2,1159.8 L996.9,1159.3 L996.7,1158.8 L996.4,1158.2 L996.4,1158.0 L996.1,1157.2 L995.9,1156.5 L995.6,1155.7 L995.4,1154.9 L995.1,1154.1 L994.9,1153.3 L994.6,1152.5 L994.4,1151.7 L994.1,1150.9 L993.9,1150.4 L993.6,1150.0 L993.4,1149.5 L993.1,1149.0 L992.9,1148.5 L992.6,1148.0 L992.4,1147.5 L992.2,1147.0 L991.9,1146.5 L991.7,1146.1 L991.4,1145.6 L991.2,1145.1 L990.9,1144.6 L990.7,1144.1 L990.4,1143.6 L990.2,1143.4 L989.9,1143.2 L989.7,1143.0 L989.5,1142.8 L989.2,1142.7 L989.0,1142.5 L988.7,1142.3 L988.5,1142.1 L988.2,1141.9 L988.0,1141.7 L987.7,1141.5 L987.5,1141.3 L987.2,1141.1 L987.0,1140.9 L986.8,1140.7 L986.5,1140.9 L986.3,1141.1 L986.0,1141.3 L985.8,1141.5 L985.5,1141.7 L985.3,1141.9 L985.0,1142.1 L984.8,1142.3 L984.5,1142.5 L984.3,1142.7 L984.1,1142.8 L983.8,1143.0 L983.6,1143.2 L983.3,1143.4 L983.1,1143.6 L982.8,1144.3 L982.6,1145.0 L982.3,1145.7 L982.1,1146.4 L981.8,1147.0 L981.6,1147.7 L981.4,1148.4 L981.1,1149.1 L980.9,1149.8 L980.6,1150.4 L980.4,1151.1 L980.1,1151.8 L979.9,1152.5 L979.6,1153.2 L979.4,1153.8 L979.1,1154.0 L978.9,1154.2 L978.7,1154.4 L978.4,1154.6 L978.2,1154.8 L977.9,1155.0 L977.7,1155.2 L977.4,1155.4 L977.2,1155.6 L976.9,1155.8 L976.7,1156.0 L976.4,1156.2 L976.2,1156.4 L976.0,1156.6 L975.7,1156.8 L975.5,1156.1 L975.3,1155.2 L975.0,1154.3 L974.8,1153.4 L974.5,1152.5 L974.3,1151.6 L974.0,1150.8 L973.8,1149.9 L973.5,1149.0 L973.3,1148.1 L973.0,1147.2 L972.8,1146.3 L972.5,1145.4 L972.3,1144.5 L972.0,1143.6 L971.8,1143.4 L971.5,1143.2 L971.3,1143.0 L971.0,1142.8 L970.8,1142.7 L970.6,1142.5 L970.3,1142.3 L970.1,1142.1 L969.8,1141.9 L969.6,1141.7 L969.3,1141.5 L969.1,1141.3 L968.8,1141.1 L968.6,1140.9 L968.3,1140.7 L968.2,1140.3 L968.0,1139.5 L967.7,1138.8 L967.5,1138.0 L967.2,1137.2 L967.0,1136.4 L966.7,1135.6 L966.5,1133.9 L966.3,1095.2 L966.0,1043.4 L965.8,1044.0 L965.5,1044.6 L965.3,1045.1 L965.1,1045.7 L964.8,1046.2 L964.6,1046.8 L964.3,1047.4 L964.1,1047.9 L963.8,1048.5 L963.6,1049.0 L963.3,1049.6 L963.1,1050.2 L962.8,1050.7 L962.7,1051.0 L962.5,1051.6 L962.2,1052.2 L962.0,1052.8 L961.7,1053.4 L961.5,1053.9 L961.2,1054.5 L961.0,1055.1 L960.7,1055.7 L960.5,1056.3 L960.2,1056.9 L960.0,1057.4 L959.8,1058.0 L959.5,1058.6 L959.3,1059.2 L959.0,1059.8 L958.8,1060.4 L958.5,1060.9 L958.3,1061.5 L958.0,1062.1 L957.8,1062.7 L957.5,1063.3 L957.3,1063.9 L957.2,1064.2 L956.9,1064.7 L956.7,1065.3 L956.4,1065.9 L956.2,1066.5 L955.9,1067.1 L955.7,1067.7 L955.5,1068.2 L955.2,1068.8 L955.0,1069.4 L954.7,1070.0 L954.5,1070.6 L954.2,1071.2 L954.0,1071.8 L953.7,1072.3 L953.5,1072.9 L953.2,1073.5 L953.0,1074.1 L952.8,1074.7 L952.5,1075.3 L952.3,1075.8 L952.0,1076.4 L951.8,1077.0 L951.7,1077.4 L951.4,1078.1 L951.2,1078.8 L950.9,1079.5 L950.7,1080.2 L950.4,1080.9 L950.2,1081.6 L949.9,1082.3 L949.7,1083.0 L949.4,1083.8 L949.2,1084.5 L948.9,1085.2 L948.7,1085.9 L948.4,1086.6 L948.2,1087.3 L947.9,1088.0 L947.7,1088.7 L947.4,1089.4 L947.2,1090.1 L947.0,1090.3 L946.8,1090.6 L946.6,1090.8 L946.3,1091.1 L946.1,1091.4 L945.8,1091.6 L945.6,1091.9 L945.3,1092.2 L945.1,1092.5 L944.8,1092.7 L944.6,1093.0 L944.3,1093.3 L944.1,1093.6 L943.9,1093.8 L943.6,1094.1 L943.4,1094.4 L943.1,1094.6 L942.9,1094.9 L942.6,1095.2 L942.4,1095.5 L942.1,1095.7 L941.9,1096.0 L941.6,1096.3 L941.4,1096.6 L941.2,1096.8 L940.9,1097.1 L940.7,1097.4 L940.4,1097.6 L940.2,1097.9 L939.9,1098.2 L939.7,1098.5 L939.4,1098.7 L939.2,1099.0 L938.9,1099.3 L938.7,1099.5 L938.5,1099.8 L938.2,1100.1 L938.0,1100.4 L937.8,1100.5 L937.6,1100.7 L937.4,1101.0 L937.1,1101.2 L936.9,1101.4 L936.6,1101.7 L936.4,1101.9 L936.1,1102.1 L935.9,1102.4 L935.6,1102.6 L935.4,1102.8 L935.1,1103.1 L934.9,1103.3 L934.7,1103.5 L934.4,1103.8 L934.2,1104.0 L933.9,1104.2 L933.7,1104.5 L933.4,1104.7 L933.2,1104.9 L932.9,1105.2 L932.7,1105.4 L932.4,1105.6 L932.2,1105.9 L932.0,1106.1 L931.7,1106.3 L931.5,1106.6 L931.2,1106.8 L931.0,1107.0 L930.7,1107.3 L930.5,1107.5 L930.2,1107.7 L930.0,1108.0 L929.7,1108.2 L929.5,1108.4 L929.3,1108.7 L929.0,1108.9 L928.8,1109.1 L928.6,1109.2 L928.4,1109.5 L928.1,1109.7 L927.9,1109.9 L927.7,1110.2 L927.4,1110.4 L927.2,1110.6 L926.9,1110.9 L926.7,1111.1 L926.4,1111.3 L926.2,1111.6 L925.9,1111.8 L925.7,1112.0 L925.4,1112.3 L925.2,1112.5 L925.0,1112.7 L924.7,1113.0 L924.5,1113.2 L924.2,1113.4 L924.0,1113.7 L923.7,1113.9 L923.5,1114.1 L923.2,1114.4 L923.0,1114.6 L922.7,1114.9 L922.5,1115.1 L922.3,1115.3 L922.0,1115.6 L921.8,1115.8 L921.5,1116.0 L921.3,1116.3 L921.0,1116.5 L920.8,1116.7 L920.5,1117.0 L920.3,1117.2 L920.0,1117.4 L919.8,1117.7 L919.6,1117.9 L919.4,1118.0 L919.2,1118.2 L918.9,1118.5 L918.7,1118.7 L918.5,1118.9 L918.2,1119.2 L918.0,1119.4 L917.7,1119.6 L917.5,1119.9 L917.2,1120.1 L917.0,1120.3 L916.7,1120.6 L916.5,1120.8 L916.2,1121.0 L916.0,1121.3 L915.8,1121.5 L915.5,1121.7 L915.3,1122.0 L915.0,1122.2 L914.8,1122.4 L914.5,1122.7 L914.3,1122.9 L914.0,1123.1 L913.8,1123.4 L913.5,1123.6 L913.3,1123.8 L913.1,1124.1 L912.8,1124.3 L912.6,1124.5 L912.3,1124.8 L912.1,1125.0 L911.8,1125.2 L911.6,1125.5 L911.3,1125.7 L911.1,1125.9 L910.8,1126.2 L910.6,1126.4 L910.4,1126.6 L910.1,1127.1 L909.9,1127.5 L909.6,1128.0 L909.4,1128.4 L909.1,1128.9 L908.9,1129.3 L908.6,1129.8 L908.4,1130.2 L908.1,1130.7 L907.9,1131.1 L907.6,1131.6 L907.4,1132.0 L907.1,1132.5 L906.9,1132.9 L906.6,1133.4 L906.4,1133.8 L906.1,1134.3 L905.9,1134.7 L905.6,1135.2 L905.4,1135.6 L905.1,1136.1 L904.9,1136.5 L904.7,1137.0 L904.4,1137.4 L904.2,1137.9 L903.9,1138.3 L903.7,1139.0 L903.4,1139.7 L903.2,1140.3 L902.9,1141.0 L902.7,1141.6 L902.4,1142.3 L902.2,1143.0 L901.9,1143.6 L901.6,1144.3 L901.4,1145.0 L901.1,1145.6 L901.0,1144.5 L900.8,1142.1 L900.5,1139.8 L900.3,1137.5 L900.0,1135.1 L899.8,1132.8 L899.6,1130.4 L899.3,1128.1 L899.2,1128.4 L899.0,1129.4 L898.8,1130.4 L898.5,1131.5 L898.3,1132.5 L898.0,1133.6 L897.8,1134.6 L897.5,1135.6 L897.3,1136.7 L897.0,1137.7 L896.8,1138.7 L896.5,1139.8 L896.3,1140.0 L896.1,1140.2 L895.8,1140.4 L895.6,1140.6 L895.3,1140.8 L895.1,1141.0 L894.8,1141.2 L894.6,1141.3 L894.3,1141.5 L894.1,1141.7 L893.8,1141.9 L893.6,1142.1 L893.4,1142.3 L893.1,1142.5 L892.9,1142.7 L892.7,1142.1 L892.5,1141.0 L892.2,1139.8 L892.0,1138.6 L891.8,1137.5 L891.5,1136.3 L891.3,1135.1 L891.0,1133.9 L890.9,1132.4 L890.7,1129.3 L890.4,1126.2 L890.2,1123.0 L889.9,1119.9 L889.7,1116.8 L889.4,1113.7 L889.2,1110.6 L889.1,1107.9 L888.8,1102.6 L888.6,1097.3 L888.3,1092.0 L888.1,1086.7 L887.8,1081.4 L887.6,1073.2 L887.4,1062.3 L887.1,1051.4 L886.9,1040.5 L886.8,1040.0 L886.5,1038.9 L886.3,1037.9 L886.0,1036.8 L885.8,1035.7 L885.5,1034.7 L885.2,1035.6 L885.0,1036.5 L884.7,1037.5 L884.5,1038.4 L884.2,1039.3 L884.0,1040.2 L883.7,1041.2 L883.5,1042.1 L883.2,1043.0 L883.0,1044.0 L882.7,1044.9 L882.6,1045.6 L882.4,1046.9 L882.1,1048.3 L881.9,1049.7 L881.6,1051.0 L881.4,1052.4 L881.1,1053.7 L880.9,1055.1 L880.8,1054.4 L880.6,1051.6 L880.3,1048.7 L880.1,1045.9 L879.8,1043.0 L879.6,1040.2 L879.3,1037.4 L879.1,1034.5 L878.8,1031.7 L878.6,1028.8 L878.5,1029.6 L878.2,1031.2 L878.0,1032.8 L877.7,1034.4 L877.5,1036.0 L877.2,1037.6 L877.1,1036.2 L876.8,1033.5 L876.6,1030.8 L876.3,1028.2 L876.1,1025.5 L875.8,1022.8 L875.6,1020.1 L875.4,1003.7 L875.2,971.0 L874.9,938.3 L874.7,938.9 L874.5,939.7 L874.2,940.4 L874.0,941.2 L873.7,941.8 L873.5,942.4 L873.2,942.9 L873.0,943.5 L872.8,944.0 L872.5,944.6 L872.3,945.2 L872.0,945.7 L871.8,946.3 L871.5,946.8 L871.3,947.4 L871.0,948.0 L870.8,948.5 L870.6,948.8 L870.4,949.4 L870.2,950.0 L869.9,950.6 L869.7,951.2 L869.4,951.7 L869.2,952.3 L868.9,952.9 L868.7,953.5 L868.4,954.1 L868.2,954.7 L867.9,955.2 L867.7,955.8 L867.5,956.4 L867.2,957.0 L867.0,957.6 L866.7,958.2 L866.5,958.7 L866.2,959.3 L866.0,959.9 L865.7,960.5 L865.5,961.1 L865.2,961.7 L865.0,962.3 L864.8,963.0 L864.5,963.7 L864.3,964.4 L864.0,965.1 L863.8,965.8 L863.5,966.4 L863.3,967.1 L863.0,967.8 L862.8,968.5 L862.5,969.2 L862.3,969.8 L862.1,970.5 L861.8,971.2 L861.6,971.9 L861.3,972.6 L861.1,973.3 L860.8,973.9 L860.6,974.6 L860.3,975.3 L860.1,976.0 L859.8,976.7 L859.6,977.3 L859.4,978.0 L859.1,978.7 L858.9,979.4 L858.6,980.1 L858.4,980.7 L858.1,981.4 L857.9,982.1 L857.6,983.0 L857.4,983.9 L857.1,984.7 L856.9,985.6 L856.7,986.5 L856.4,987.4 L856.2,988.2 L855.9,989.1 L855.7,990.0 L855.4,990.9 L855.2,991.7 L854.9,992.6 L854.7,993.5 L854.4,994.4 L854.2,995.2 L854.0,996.1 L853.7,997.0 L853.5,997.9 L853.2,998.8 L853.0,999.6 L852.7,1000.5 L852.5,1001.4 L852.2,1002.3 L852.0,1003.1 L851.7,1004.0 L851.5,1004.9 L851.3,1005.8 L851.0,1006.6 L850.8,1007.5 L850.5,1008.4 L850.3,1009.4 L850.0,1010.3 L849.8,1011.3 L849.5,1012.3 L849.3,1013.3 L849.0,1014.2 L848.8,1015.2 L848.6,1016.2 L848.3,1017.1 L848.1,1018.1 L847.8,1019.1 L847.6,1020.1 L847.3,1021.0 L847.1,1022.0 L846.8,1023.0 L846.6,1024.0 L846.3,1024.9 L846.1,1025.9 L845.9,1026.9 L845.6,1027.9 L845.4,1028.8 L845.1,1029.8 L844.9,1030.8 L844.6,1031.7 L844.4,1032.7 L844.1,1033.7 L843.9,1034.7 L843.6,1035.6 L843.4,1036.6 L843.2,1037.6 L843.0,1038.3 L842.8,1039.6 L842.5,1040.9 L842.3,1042.3 L842.0,1043.6 L841.8,1045.0 L841.5,1046.3 L841.3,1048.6 L841.0,1049.9 L840.8,1051.3 L840.5,1052.6 L840.3,1053.9 L840.0,1055.3 L839.8,1056.6 L839.5,1058.0 L839.3,1059.3 L839.1,1060.6 L838.8,1062.0 L838.6,1063.3 L838.4,1063.4 L838.2,1063.7 L837.9,1063.9 L837.7,1064.2 L837.4,1064.4 L837.2,1064.6 L836.9,1064.9 L836.7,1065.1 L836.4,1065.3 L836.2,1065.6 L835.9,1065.8 L835.7,1066.0 L835.4,1066.3 L835.2,1066.5 L834.9,1066.8 L834.7,1067.0 L834.4,1067.2 L834.2,1067.5 L834.0,1067.7 L833.9,1067.7 L833.6,1067.9 L833.4,1068.1 L833.2,1068.2 L832.9,1068.4 L832.7,1068.6 L832.4,1068.8 L832.2,1068.9 L831.9,1069.1 L831.7,1069.3 L831.4,1069.4 L831.2,1069.6 L830.9,1069.8 L830.7,1069.9 L830.5,1070.1 L830.2,1070.3 L830.0,1070.4 L829.7,1070.6 L829.5,1070.8 L829.2,1070.9 L829.0,1071.1 L828.7,1071.3 L828.5,1071.4 L828.2,1071.6 L828.0,1071.8 L827.8,1071.9 L827.5,1072.1 L827.4,1072.2 L827.1,1072.6 L826.9,1072.9 L826.6,1073.2 L826.4,1073.5 L826.1,1073.8 L825.9,1074.1 L825.6,1074.5 L825.4,1074.8 L825.1,1075.1 L824.9,1075.4 L824.6,1075.7 L824.4,1076.0 L824.1,1076.3 L823.9,1076.7 L823.7,1077.0 L823.4,1077.3 L823.2,1077.6 L822.9,1077.9 L822.7,1077.5 L822.4,1077.1 L822.2,1076.8 L821.9,1076.4 L821.7,1076.0 L821.4,1075.6 L821.2,1075.2 L820.9,1074.8 L820.7,1074.4 L820.5,1074.0 L820.2,1073.6 L820.0,1073.3 L819.7,1072.9 L819.5,1072.5 L819.2,1072.1 L819.0,1072.3 L818.8,1072.6 L818.5,1072.9 L818.3,1073.3 L818.1,1073.6 L817.8,1073.9 L817.6,1074.2 L817.3,1074.5 L817.1,1074.8 L816.8,1075.1 L816.6,1075.4 L816.3,1075.7 L816.1,1076.1 L815.8,1076.4 L815.6,1076.7 L815.4,1077.0 L815.1,1077.3 L814.9,1077.6 L814.6,1077.9 L814.4,1076.7 L814.1,1075.5 L813.9,1074.3 L813.6,1073.1 L813.4,1072.0 L813.1,1070.8 L812.9,1069.6 L812.6,1068.4 L812.4,1067.2 L812.1,1066.0 L811.9,1064.8 L811.7,1064.9 L811.5,1065.3 L811.2,1065.6 L811.0,1065.9 L810.8,1066.2 L810.5,1066.6 L810.3,1066.9 L810.0,1067.2 L809.8,1067.5 L809.5,1067.9 L809.3,1068.2 L809.0,1068.5 L808.8,1068.8 L808.5,1069.2 L808.3,1069.5 L808.1,1069.8 L807.8,1070.1 L807.6,1070.5 L807.3,1070.8 L807.1,1071.1 L806.8,1071.4 L806.6,1071.8 L806.3,1072.1 L806.2,1072.4 L806.0,1072.9 L805.7,1073.5 L805.5,1074.0 L805.2,1074.6 L805.0,1075.1 L804.7,1075.7 L804.5,1076.2 L804.2,1076.8 L804.0,1077.3 L803.7,1077.9 L803.5,1078.4 L803.2,1079.0 L803.0,1079.5 L802.7,1080.1 L802.5,1080.6 L802.2,1081.2 L802.0,1081.8 L801.7,1082.3 L801.6,1081.0 L801.4,1078.5 L801.1,1076.0 L800.9,1073.4 L800.6,1070.9 L800.4,1068.4 L800.1,1065.9 L799.9,1063.3 L799.7,1063.3 L799.5,1063.2 L799.2,1063.1 L799.0,1063.0 L798.7,1063.0 L798.5,1062.9 L798.2,1062.8 L798.0,1062.7 L797.7,1062.6 L797.5,1062.6 L797.3,1062.5 L797.0,1062.4 L796.8,1062.3 L796.5,1062.3 L796.3,1062.2 L796.0,1062.1 L795.8,1062.0 L795.5,1061.9 L795.3,1061.9 L795.2,1062.1 L794.9,1062.5 L794.7,1063.0 L794.4,1063.5 L794.2,1063.9 L793.9,1064.4 L793.7,1064.8 L793.4,1065.3 L793.2,1065.7 L793.0,1066.2 L792.7,1066.6 L792.5,1067.1 L792.2,1067.5 L792.0,1068.0 L791.7,1068.5 L791.5,1068.9 L791.2,1069.4 L791.0,1069.8 L790.7,1070.3 L790.5,1070.7 L790.3,1071.2 L790.0,1071.6 L789.8,1072.1 L789.5,1072.8 L789.3,1073.4 L789.0,1074.1 L788.8,1074.8 L788.5,1075.5 L788.3,1076.2 L788.0,1076.9 L787.8,1077.5 L787.6,1078.2 L787.3,1078.9 L787.1,1079.6 L786.8,1080.3 L786.6,1080.9 L786.3,1081.6 L786.1,1082.3 L786.0,1081.2 L785.7,1079.1 L785.5,1077.0 L785.2,1074.8 L785.0,1072.7 L784.7,1070.5 L784.5,1068.4 L784.2,1066.2 L784.2,1066.3 L783.9,1066.3 L783.7,1066.4 L783.4,1066.5 L783.2,1066.5 L782.9,1066.6 L782.7,1066.7 L782.4,1066.7 L782.2,1066.8 L781.9,1066.9 L781.7,1066.9 L781.5,1067.0 L781.2,1067.1 L781.0,1067.1 L780.7,1067.2 L780.5,1067.2 L780.2,1067.3 L780.0,1067.4 L779.7,1067.4 L779.5,1067.5 L779.2,1067.6 L779.0,1067.6 L778.7,1067.7 L778.7,1067.8 L778.4,1068.1 L778.2,1068.3 L777.9,1068.6 L777.7,1068.9 L777.4,1069.2 L777.2,1069.4 L776.9,1069.7 L776.7,1070.0 L776.5,1070.3 L776.2,1070.6 L776.0,1070.8 L775.7,1071.1 L775.5,1071.4 L775.2,1071.7 L775.0,1071.9 L774.7,1072.2 L774.5,1072.5 L774.2,1072.8 L774.0,1073.1 L773.8,1073.3 L773.5,1073.6 L773.3,1073.9 L773.0,1074.2 L772.8,1074.5 L772.5,1074.7 L772.3,1074.1 L772.1,1074.4 L771.8,1074.9 L771.6,1075.4 L771.4,1075.9 L771.1,1076.3 L770.9,1076.8 L770.6,1077.3 L770.4,1077.8 L770.1,1078.3 L769.9,1078.7 L769.6,1079.2 L769.4,1079.7 L769.1,1080.2 L768.9,1080.6 L768.7,1081.1 L768.4,1081.6 L768.2,1082.1 L767.9,1082.5 L767.7,1083.0 L767.4,1083.5 L767.2,1084.0 L766.9,1084.4 L766.7,1084.9 L766.4,1085.4 L766.2,1085.9 L766.0,1086.3 L765.7,1086.8 L765.5,1087.3 L765.2,1087.8 L765.0,1088.2 L764.7,1088.7 L764.5,1089.2 L764.2,1089.7 L764.0,1090.1 L763.9,1090.3 L763.7,1090.8 L763.4,1091.3 L763.2,1091.8 L762.9,1092.3 L762.7,1092.8 L762.4,1093.3 L762.2,1093.8 L762.0,1094.4 L761.7,1094.9 L761.5,1095.4 L761.2,1095.9 L761.0,1096.4 L760.7,1096.9 L760.5,1097.4 L760.2,1097.9 L760.0,1098.4 L759.7,1098.9 L759.5,1099.4 L759.2,1100.0 L759.0,1100.5 L758.7,1101.0 L758.5,1101.5 L758.2,1102.0 L758.0,1102.5 L757.8,1103.0 L757.5,1103.5 L757.3,1104.0 L757.0,1104.5 L756.8,1105.1 L756.5,1105.6 L756.3,1106.1 L756.0,1106.6 L755.8,1107.1 L755.5,1107.6 L755.3,1108.1 L755.0,1108.6 L754.8,1109.1 L754.6,1109.6 L754.4,1110.3 L754.1,1110.9 L753.9,1111.6 L753.6,1112.2 L753.4,1112.9 L753.1,1113.5 L752.9,1114.2 L752.6,1114.8 L752.4,1115.5 L752.1,1116.1 L751.9,1116.8 L751.7,1117.4 L751.4,1118.0 L751.2,1118.7 L750.9,1119.3 L750.7,1120.0 L750.4,1120.6 L750.2,1121.3 L749.9,1121.9 L749.7,1122.6 L749.4,1123.2 L749.2,1124.8 L749.0,1125.5 L748.7,1126.1 L748.5,1126.8 L748.2,1127.4 L748.0,1128.1 L747.7,1128.7 L747.5,1129.4 L747.2,1130.0 L747.0,1130.6 L746.7,1131.3 L746.5,1131.9 L746.3,1132.3 L746.1,1132.8 L745.8,1133.2 L745.6,1133.7 L745.3,1134.2 L745.1,1134.6 L744.8,1135.1 L744.6,1135.6 L744.4,1136.0 L744.1,1136.5 L743.9,1137.0 L743.6,1137.4 L743.4,1137.9 L743.1,1138.4 L742.9,1138.8 L742.6,1139.3 L742.4,1139.8 L742.1,1140.2 L741.9,1140.7 L741.7,1140.0 L741.4,1139.3 L741.2,1138.7 L740.9,1138.0 L740.7,1137.3 L740.4,1136.6 L740.2,1135.9 L739.9,1135.3 L739.7,1134.6 L739.4,1133.9 L739.2,1133.2 L739.0,1132.5 L738.7,1131.8 L738.5,1131.2 L738.2,1130.5 L738.0,1130.8 L737.8,1131.3 L737.5,1131.8 L737.3,1132.2 L737.1,1132.7 L736.8,1133.2 L736.6,1133.6 L736.3,1134.1 L736.1,1134.6 L735.8,1135.0 L735.6,1135.5 L735.3,1136.0 L735.1,1136.4 L734.8,1136.9 L734.6,1137.4 L734.4,1137.8 L734.1,1138.3 L733.9,1138.8 L733.6,1139.2 L733.5,1139.4 L733.2,1139.6 L733.0,1139.8 L732.7,1140.1 L732.5,1140.3 L732.2,1140.5 L732.0,1140.8 L731.8,1141.0 L731.5,1141.3 L731.3,1141.5 L731.0,1141.7 L730.8,1142.0 L730.5,1142.2 L730.3,1142.4 L730.0,1142.7 L729.8,1142.9 L729.5,1143.2 L729.3,1143.4 L729.0,1143.6 L728.8,1143.9 L728.6,1144.3 L728.3,1144.7 L728.1,1145.1 L727.8,1145.5 L727.6,1145.9 L727.4,1146.3 L727.1,1146.6 L726.9,1147.0 L726.6,1147.4 L726.4,1147.8 L726.1,1148.2 L725.9,1148.6 L725.6,1149.0 L725.4,1149.4 L725.1,1149.8 L724.9,1150.1 L724.7,1150.5 L724.4,1150.9 L724.3,1150.6 L724.0,1150.0 L723.8,1149.3 L723.6,1148.7 L723.3,1148.0 L723.1,1147.4 L722.8,1146.7 L722.6,1146.1 L722.3,1145.4 L722.1,1144.8 L721.8,1144.1 L721.6,1143.5 L721.3,1142.8 L721.1,1142.2 L720.9,1141.5 L720.6,1140.9 L720.4,1140.2 L720.1,1139.6 L719.9,1138.9 L719.6,1138.3 L719.4,1137.6 L719.1,1137.0 L718.9,1136.3 L718.7,1136.0 L718.5,1135.6 L718.2,1135.2 L718.0,1134.8 L717.7,1134.4 L717.5,1134.1 L717.2,1133.7 L717.0,1133.3 L716.7,1132.9 L716.5,1132.5 L716.2,1132.1 L716.0,1131.7 L715.7,1131.3 L715.5,1130.9 L715.2,1130.5 L715.0,1130.6 L714.8,1130.6 L714.5,1130.7 L714.3,1130.8 L714.0,1130.9 L713.8,1131.0 L713.5,1131.1 L713.3,1131.2 L713.0,1131.2 L712.8,1131.3 L712.5,1131.4 L712.3,1131.5 L712.1,1131.6 L711.8,1131.7 L711.6,1131.8 L711.3,1131.9 L711.1,1131.9 L710.9,1127.8 L710.7,1119.6 L710.4,1110.5 L710.2,1102.2 L709.9,1094.0 L709.7,1085.8 L709.6,1086.1 L709.3,1086.8 L709.1,1087.5 L708.8,1088.2 L708.6,1088.9 L708.3,1089.6 L708.1,1090.3 L707.8,1091.0 L707.6,1091.7 L707.3,1092.4 L707.1,1093.1 L706.8,1093.8 L706.6,1094.5 L706.3,1095.2 L706.1,1095.9 L705.9,1096.6 L705.6,1097.3 L705.4,1098.0 L705.1,1098.7 L704.9,1099.4 L704.6,1100.1 L704.4,1100.8 L704.1,1101.5 L703.9,1102.2 L703.6,1102.9 L703.4,1103.5 L703.1,1104.2 L702.9,1104.9 L702.6,1105.6 L702.4,1106.3 L702.1,1107.0 L701.9,1107.7 L701.6,1108.4 L701.4,1109.1 L701.3,1109.3 L701.1,1109.8 L700.8,1110.4 L700.6,1110.9 L700.3,1111.5 L700.1,1112.0 L699.9,1112.6 L699.6,1113.1 L699.4,1113.7 L699.1,1114.2 L698.9,1114.8 L698.6,1115.3 L698.4,1115.8 L698.1,1116.4 L697.9,1116.9 L697.6,1117.5 L697.4,1118.0 L697.1,1118.6 L696.9,1119.1 L696.6,1119.7 L696.4,1120.2 L696.1,1120.8 L695.9,1121.3 L695.7,1121.9 L695.4,1122.4 L695.2,1123.0 L694.9,1123.5 L694.7,1124.1 L694.4,1124.6 L694.2,1125.2 L693.9,1125.7 L693.7,1126.3 L693.4,1126.8 L693.2,1127.4 L692.9,1127.9 L692.7,1128.5 L692.4,1129.0 L692.2,1129.6 L692.1,1129.8 L691.8,1130.2 L691.6,1130.6 L691.3,1131.1 L691.1,1131.5 L690.8,1131.9 L690.6,1132.4 L690.4,1132.8 L690.1,1133.2 L689.9,1133.6 L689.6,1134.1 L689.4,1134.5 L689.1,1134.9 L688.9,1135.3 L688.6,1135.8 L688.4,1136.2 L688.1,1136.6 L687.9,1137.1 L687.7,1137.5 L687.4,1137.9 L687.2,1138.3 L686.9,1138.8 L686.7,1139.2 L686.4,1139.6 L686.2,1140.1 L685.9,1140.5 L685.7,1140.9 L685.4,1141.3 L685.2,1141.8 L685.0,1142.2 L684.7,1143.5 L684.5,1144.0 L684.2,1144.4 L684.0,1144.8 L683.7,1145.3 L683.5,1145.7 L683.2,1146.1 L683.0,1146.5 L682.8,1146.7 L682.6,1146.9 L682.3,1147.1 L682.1,1147.3 L681.8,1147.5 L681.6,1147.7 L681.3,1147.9 L681.1,1148.1 L680.8,1148.3 L680.6,1148.5 L680.3,1148.7 L680.1,1148.9 L679.8,1149.1 L679.6,1149.2 L679.3,1149.4 L679.1,1149.6 L678.8,1149.8 L678.6,1150.0 L678.3,1150.2 L678.1,1150.4 L677.9,1150.6 L677.6,1150.8 L677.4,1151.0 L677.1,1151.2 L676.9,1151.4 L676.6,1151.6 L676.4,1151.8 L676.1,1152.0 L675.9,1152.2 L675.6,1152.4 L675.4,1152.4 L675.2,1152.4 L674.9,1152.4 L674.7,1152.4 L674.5,1152.5 L674.2,1152.5 L674.0,1152.5 L673.7,1152.5 L673.5,1152.5 L673.2,1152.5 L673.0,1152.6 L672.7,1152.6 L672.5,1152.6 L672.2,1152.6 L672.0,1152.6 L671.8,1152.6 L671.5,1152.6 L671.3,1152.7 L671.0,1152.7 L670.8,1152.7 L670.5,1152.7 L670.3,1152.7 L670.0,1152.7 L669.8,1152.8 L669.5,1152.8 L669.3,1152.8 L669.1,1152.8 L668.8,1152.8 L668.6,1152.8 L668.3,1152.9 L668.1,1152.9 L667.8,1152.9 L667.6,1152.9 L667.3,1152.9 L667.1,1152.9 L666.8,1152.9 L666.6,1153.0 L666.4,1153.0 L666.1,1153.0 L665.9,1153.0 L665.6,1153.0 L665.4,1153.0 L665.1,1153.1 L664.9,1153.1 L664.6,1153.1 L664.4,1153.1 L664.1,1153.1 L663.9,1153.1 L663.7,1153.1 L663.4,1153.2 L663.2,1153.2 L662.9,1153.2 L662.7,1153.2 L662.4,1153.2 L662.2,1153.2 L661.9,1153.3 L661.7,1153.3 L661.4,1153.3 L661.2,1153.3 L661.0,1153.3 L660.7,1153.3 L660.5,1153.3 L660.2,1153.4 L660.0,1153.4 L659.7,1153.4 L659.5,1153.4 L659.2,1153.4 L659.0,1153.4 L658.7,1153.5 L658.5,1153.5 L658.3,1153.5 L658.0,1153.5 L657.8,1153.5 L657.5,1153.5 L657.3,1153.6 L657.0,1153.6 L656.8,1153.6 L656.5,1153.6 L656.3,1153.6 L656.0,1153.6 L655.8,1153.6 L655.6,1153.7 L655.3,1153.7 L655.1,1153.7 L654.8,1153.7 L654.6,1153.7 L654.3,1153.7 L654.1,1153.8 L653.8,1153.8 L653.6,1153.8 L653.3,1153.8 L653.1,1153.8 L652.9,1153.8 L652.6,1153.8 L652.4,1153.8 L652.2,1153.8 L651.9,1153.8 L651.7,1153.8 L651.4,1153.8 L651.2,1153.8 L651.0,1153.8 L650.7,1153.8 L650.5,1153.8 L650.2,1153.8 L650.0,1153.8 L649.7,1153.8 L649.5,1153.8 L649.2,1153.8 L649.0,1153.8 L648.7,1153.8 L648.5,1153.8 L648.3,1153.8 L648.0,1153.8 L647.8,1153.8 L647.5,1153.8 L647.3,1153.8 L647.0,1153.8 L646.8,1153.8 L646.5,1153.8 L646.3,1153.8 L646.0,1153.8 L645.8,1153.8 L645.6,1153.8 L645.3,1153.8 L645.1,1153.8 L644.8,1153.8 L644.6,1153.8 L644.3,1153.8 L644.1,1153.8 L643.8,1153.8 L643.6,1153.8 L643.3,1153.8 L643.1,1153.8 L642.9,1153.8 L642.6,1153.8 L642.4,1153.8 L642.1,1153.8 L641.9,1153.8 L641.6,1153.8 L641.4,1153.8 L641.1,1153.8 L640.9,1153.8 L640.6,1153.8 L640.4,1153.8 L640.2,1153.8 L639.9,1153.8 L639.7,1153.8 L639.4,1153.8 L639.2,1153.8 L638.9,1153.8 L638.7,1153.8 L638.4,1153.8 L638.2,1153.8 L637.9,1153.8 L637.7,1153.8 L637.5,1153.8 L637.2,1153.8 L637.0,1153.8 L636.7,1153.8 L636.5,1153.8 L636.2,1153.8 L636.0,1153.8 L635.7,1153.8 L635.5,1153.8 L635.2,1153.8 L635.0,1153.8 L634.8,1153.8 L634.5,1153.8 L634.3,1153.8 L634.0,1153.8 L633.8,1153.8 L633.5,1153.8 L633.3,1153.8 L633.0,1153.8 L632.8,1153.8 L632.5,1153.8 L632.3,1153.8 L632.1,1153.8 L631.8,1153.8 L631.6,1153.8 L631.3,1153.8 L631.1,1153.8 L630.8,1153.8 L630.6,1153.8 L630.3,1153.8 L630.1,1153.8 L629.8,1153.8 L629.6,1153.8" fill="#000" stroke="none" stroke-width="0" stroke-linejoin="round" stroke-linecap="round" />
<path d="M629.6,1155.8 629.7,1155.6 629.7,1142.8 629.8,1163.6 629.8,1148.5 629.9,1163.4 630.0,1139.8 630.0,1146.1 630.1,1138.0 630.2,1151.1 630.2,1144.7 630.3,1149.5 630.3,1152.7 630.4,1146.5 630.5,1156.4 630.5,1150.0 630.6,1142.7 630.6,1147.1 630.7,1150.4 630.8,1132.2 630.8,1147.1 630.9,1151.7 631.0,1146.4 631.0,1151.2 631.1,1150.2 631.1,1150.0 631.2,1133.3 631.3,1147.4 631.3,1146.3 631.4,1142.8 631.4,1133.4 631.5,1149.1 631.6,1151.9 631.6,1130.2 631.7,1157.8 631.7,1150.1 631.8,1142.9 631.9,1131.5 631.9,1154.2 632.0,1164.6 632.1,1142.9 632.1,1151.2 632.2,1150.3 632.2,1144.3 632.3,1146.0 632.4,1145.5 632.4,1150.6 632.5,1138.5 632.5,1137.0 632.6,1147.3 632.7,1150.7 632.7,1142.4 632.8,1144.2 632.9,1154.8 632.9,1150.8 633.0,1140.2 633.0,1148.2 633.1,1149.8 633.2,1146.1 633.2,1147.8 633.3,1147.6 633.3,1161.1 633.4,1135.3 633.5,1146.1 633.5,1153.7 633.6,1140.7 633.7,1145.4 633.7,1147.4 633.8,1140.2 633.8,1131.7 633.9,1143.7 634.0,1136.4 634.0,1132.4 634.1,1154.7 634.1,1151.2 634.2,1142.1 634.3,1159.5 634.3,1149.4 634.4,1138.5 634.4,1140.2 634.5,1143.5 634.6,1160.8 634.6,1131.1 634.7,1143.7 634.8,1142.2 634.8,1144.1 634.9,1159.6 634.9,1157.6 635.0,1156.1 635.1,1134.1 635.1,1153.4 635.2,1149.2 635.2,1149.3 635.3,1143.5 635.4,1144.0 635.4,1145.7 635.5,1156.4 635.6,1169.5 635.6,1146.4 635.7,1145.7 635.7,1138.9 635.8,1148.3 635.9,1151.8 635.9,1144.7 636.0,1158.4 636.0,1154.8 636.1,1154.6 636.2,1145.5 636.2,1132.9 636.3,1142.2 636.4,1139.5 636.4,1145.9 636.5,1145.6 636.5,1150.7 636.6,1149.5 636.7,1164.6 636.7,1156.0 636.8,1156.6 636.8,1141.7 636.9,1142.9 637.0,1139.5 637.0,1136.6 637.1,1149.7 637.1,1140.1 637.2,1133.8 637.3,1147.6 637.3,1139.9 637.4,1148.7 637.5,1158.8 637.5,1146.7 637.6,1153.3 637.6,1146.8 637.7,1150.8 637.8,1145.3 637.8,1162.5 637.9,1132.9 637.9,1138.0 638.0,1150.0 638.1,1153.9 638.1,1147.5 638.2,1142.8 638.3,1144.6 638.3,1144.7 638.4,1161.3 638.4,1155.5 638.5,1138.1 638.6,1145.9 638.6,1158.2 638.7,1153.6 638.7,1157.7 638.8,1154.7 638.9,1139.3 638.9,1149.1 639.0,1139.6 639.1,1146.2 639.1,1158.2 639.2,1152.1 639.2,1131.3 639.3,1153.0 639.4,1155.0 639.4,1138.7 639.5,1146.9 639.5,1147.6 639.6,1137.1 639.7,1160.1 639.7,1144.6 639.8,1155.1 639.8,1157.6 639.9,1153.4 640.0,1139.3 640.0,1148.5 640.1,1160.7 640.2,1155.5 640.2,1136.6 640.3,1140.2 640.3,1155.3 640.4,1130.2 640.5,1150.2 640.5,1156.1 640.6,1148.5 640.6,1140.8 640.7,1136.0 640.8,1140.2 640.8,1150.6 640.9,1151.6 641.0,1158.0 641.0,1148.1 641.1,1151.8 641.1,1145.8 641.2,1156.6 641.3,1151.2 641.3,1153.9 641.4,1156.2 641.4,1156.0 641.5,1154.8 641.6,1156.0 641.6,1143.5 641.7,1146.8 641.8,1157.0 641.8,1143.9 641.9,1145.5 641.9,1137.1 642.0,1148.9 642.1,1149.0 642.1,1152.5 642.2,1146.6 642.2,1144.0 642.3,1146.3 642.4,1149.4 642.4,1143.5 642.5,1146.9 642.5,1145.8 642.6,1154.2 642.7,1146.1 642.7,1154.7 642.8,1153.6 642.9,1146.4 642.9,1132.4 643.0,1140.4 643.0,1147.5 643.1,1148.8 643.2,1140.5 643.2,1137.6 643.3,1138.8 643.3,1148.9 643.4,1146.2 643.5,1149.9 643.5,1149.6 643.6,1153.7 643.7,1149.3 643.7,1163.0 643.8,1156.1 643.8,1144.5 643.9,1154.2 644.0,1143.7 644.0,1156.8 644.1,1150.2 644.1,1144.7 644.2,1155.0 644.3,1152.7 644.3,1129.8 644.4,1152.4 644.5,1152.6 644.5,1151.7 644.6,1147.3 644.6,1147.7 644.7,1140.5 644.8,1141.9 644.8,1150.4 644.9,1150.1 644.9,1157.7 645.0,1158.3 645.1,1152.8 645.1,1142.3 645.2,1146.7 645.2,1141.8 645.3,1140.8 645.4,1148.7 645.4,1132.5 645.5,1151.3 645.6,1152.0 645.6,1150.6 645.7,1139.4 645.7,1148.5 645.8,1152.8 645.9,1144.4 645.9,1139.4 646.0,1148.3 646.0,1149.3 646.1,1139.8 646.2,1140.5 646.2,1140.8 646.3,1153.0 646.4,1145.5 646.4,1144.9 646.5,1160.4 646.5,1138.9 646.6,1146.8 646.7,1150.0 646.7,1131.3 646.8,1146.5 646.8,1152.7 646.9,1148.0 647.0,1143.5 647.0,1141.7 647.1,1147.9 647.2,1153.7 647.2,1152.5 647.3,1153.4 647.3,1155.1 647.4,1147.7 647.5,1151.1 647.5,1147.2 647.6,1153.5 647.6,1153.7 647.7,1148.9 647.8,1150.0 647.8,1139.3 647.9,1154.0 647.9,1146.1 648.0,1147.8 648.1,1156.9 648.1,1142.3 648.2,1146.3 648.3,1162.6 648.3,1143.2 648.4,1140.8 648.4,1153.2 648.5,1135.4 648.6,1146.4 648.6,1155.8 648.7,1143.5 648.7,1150.1 648.8,1157.1 648.9,1162.9 648.9,1145.8 649.0,1152.8 649.1,1142.9 649.1,1144.8 649.2,1151.3 649.2,1151.3 649.3,1134.9 649.4,1135.3 649.4,1142.2 649.5,1150.1 649.5,1154.6 649.6,1150.3 649.7,1135.6 649.7,1144.2 649.8,1149.6 649.9,1156.3 649.9,1146.3 650.0,1153.8 650.0,1147.4 650.1,1142.2 650.2,1139.9 650.2,1146.5 650.3,1150.0 650.3,1145.9 650.4,1134.7 650.5,1144.9 650.5,1157.5 650.6,1136.5 650.6,1145.7 650.7,1122.7 650.8,1150.9 650.8,1148.2 650.9,1149.7 651.0,1144.8 651.0,1151.7 651.1,1158.1 651.1,1161.2 651.2,1148.4 651.3,1151.2 651.3,1151.7 651.4,1132.4 651.4,1141.9 651.5,1139.8 651.6,1151.1 651.6,1145.4 651.7,1149.0 651.8,1149.0 651.8,1142.2 651.9,1143.2 651.9,1145.4 652.0,1146.5 652.1,1157.8 652.1,1152.8 652.2,1144.8 652.2,1150.1 652.3,1153.1 652.4,1145.0 652.4,1154.1 652.5,1152.3 652.6,1141.3 652.6,1150.1 652.7,1137.4 652.7,1143.8 652.8,1141.8 652.9,1139.5 652.9,1162.9 653.0,1148.1 653.0,1156.7 653.1,1150.8 653.2,1148.2 653.2,1138.7 653.3,1147.8 653.3,1135.8 653.4,1151.2 653.5,1147.9 653.5,1146.8 653.6,1140.8 653.7,1147.8 653.7,1151.9 653.8,1149.8 653.8,1157.4 653.9,1138.5 654.0,1142.1 654.0,1144.4 654.1,1145.5 654.1,1151.7 654.2,1150.3 654.3,1141.7 654.3,1153.0 654.4,1153.0 654.5,1136.2 654.5,1136.4 654.6,1145.3 654.6,1143.6 654.7,1146.1 654.8,1137.3 654.8,1150.5 654.9,1146.8 654.9,1144.0 655.0,1137.2 655.1,1149.2 655.1,1145.7 655.2,1150.8 655.3,1152.0 655.3,1152.0 655.4,1146.8 655.4,1141.1 655.5,1152.3 655.6,1151.6 655.6,1150.2 655.7,1144.8 655.7,1142.4 655.8,1156.2 655.9,1144.8 655.9,1154.4 656.0,1142.3 656.0,1154.1 656.1,1155.0 656.2,1152.3 656.2,1147.7 656.3,1154.3 656.4,1145.8 656.4,1146.3 656.5,1146.7 656.5,1145.4 656.6,1141.1 656.7,1152.4 656.7,1147.3 656.8,1147.5 656.8,1161.7 656.9,1144.5 657.0,1152.7 657.0,1152.3 657.1,1150.4 657.2,1146.6 657.2,1144.9 657.3,1143.8 657.3,1152.1 657.4,1142.3 657.5,1144.3 657.5,1150.0 657.6,1147.4 657.6,1141.6 657.7,1144.2 657.8,1142.3 657.8,1146.5 657.9,1139.2 658.0,1131.6 658.0,1144.0 658.1,1158.4 658.1,1135.1 658.2,1151.2 658.3,1156.9 658.3,1163.8 658.4,1144.2 658.4,1139.5 658.5,1140.1 658.6,1149.8 658.6,1137.0 658.7,1147.7 658.7,1151.3 658.8,1146.7 658.9,1145.6 658.9,1146.8 659.0,1144.3 659.1,1162.5 659.1,1136.1 659.2,1151.1 659.2,1142.6 659.3,1152.7 659.4,1146.0 659.4,1148.3 659.5,1158.2 659.5,1144.4 659.6,1142.6 659.7,1154.9 659.7,1161.8 659.8,1151.6 659.9,1153.0 659.9,1146.3 660.0,1147.2 660.0,1135.8 660.1,1142.5 660.2,1148.9 660.2,1145.9 660.3,1167.3 660.3,1153.4 660.4,1153.5 660.5,1147.8 660.5,1144.8 660.6,1145.5 660.7,1140.5 660.7,1151.9 660.8,1144.9 660.8,1147.9 660.9,1146.9 661.0,1144.8 661.0,1149.0 661.1,1145.5 661.1,1147.2 661.2,1139.8 661.3,1147.8 661.3,1144.9 661.4,1128.8 661.4,1142.6 661.5,1143.4 661.6,1139.4 661.6,1154.0 661.7,1142.0 661.8,1141.7 661.8,1143.9 661.9,1140.1 661.9,1141.5 662.0,1138.6 662.1,1151.4 662.1,1143.9 662.2,1150.7 662.2,1138.3 662.3,1146.0 662.4,1156.0 662.4,1146.1 662.5,1153.9 662.6,1140.0 662.6,1149.3 662.7,1162.2 662.7,1149.6 662.8,1139.7 662.9,1144.6 662.9,1151.3 663.0,1142.4 663.0,1142.9 663.1,1136.6 663.2,1140.6 663.2,1144.3 663.3,1152.4 663.4,1144.9 663.4,1144.7 663.5,1146.8 663.5,1143.9 663.6,1155.1 663.7,1142.9 663.7,1146.8 663.8,1144.3 663.8,1147.5 663.9,1148.9 664.0,1145.0 664.0,1141.3 664.1,1149.1 664.1,1144.5 664.2,1152.1 664.3,1143.9 664.3,1146.7 664.4,1155.7 664.5,1138.7 664.5,1153.0 664.6,1146.2 664.6,1155.9 664.7,1158.8 664.8,1142.2 664.8,1156.5 664.9,1161.2 664.9,1148.3 665.0,1157.5 665.1,1148.2 665.1,1134.0 665.2,1149.5 665.3,1144.2 665.3,1142.8 665.4,1145.0 665.4,1147.6 665.5,1136.2 665.6,1147.3 665.6,1144.2 665.7,1145.9 665.7,1155.6 665.8,1144.5 665.9,1146.3 665.9,1142.2 666.0,1141.9 666.1,1135.8 666.1,1159.9 666.2,1150.6 666.2,1150.0 666.3,1152.7 666.4,1143.8 666.4,1147.2 666.5,1145.7 666.5,1158.0 666.6,1153.3 666.7,1147.1 666.7,1149.7 666.8,1150.9 666.8,1147.4 666.9,1148.6 667.0,1154.0 667.0,1135.1 667.1,1151.3 667.2,1142.1 667.2,1142.5 667.3,1139.9 667.3,1150.6 667.4,1153.5 667.5,1143.6 667.5,1144.8 667.6,1162.9 667.6,1164.7 667.7,1150.4 667.8,1149.3 667.8,1148.4 667.9,1143.7 668.0,1153.3 668.0,1128.2 668.1,1140.3 668.1,1137.6 668.2,1144.7 668.3,1160.9 668.3,1144.9 668.4,1150.4 668.4,1143.5 668.5,1147.3 668.6,1141.9 668.6,1152.6 668.7,1149.0 668.8,1146.5 668.8,1151.7 668.9,1149.7 668.9,1142.3 669.0,1133.2 669.1,1148.0 669.1,1140.8 669.2,1154.4 669.2,1149.6 669.3,1144.2 669.4,1142.5 669.4,1153.6 669.5,1142.3 669.5,1145.5 669.6,1137.4 669.7,1140.0 669.7,1142.7 669.8,1149.2 669.9,1144.6 669.9,1152.4 670.0,1152.2 670.0,1159.2 670.1,1155.4 670.2,1155.2 670.2,1147.1 670.3,1145.7 670.3,1155.7 670.4,1147.1 670.5,1143.6 670.5,1140.0 670.6,1147.1 670.7,1144.9 670.7,1149.0 670.8,1140.0 670.8,1157.2 670.9,1144.7 671.0,1162.4 671.0,1134.6 671.1,1140.0 671.1,1160.9 671.2,1150.0 671.3,1156.1 671.3,1158.6 671.4,1149.2 671.5,1152.5 671.5,1139.2 671.6,1150.0 671.6,1154.0 671.7,1146.9 671.8,1143.6 671.8,1140.7 671.9,1142.9 671.9,1156.7 672.0,1152.0 672.1,1147.6 672.1,1152.2 672.2,1141.2 672.2,1148.7 672.3,1146.9 672.4,1148.9 672.4,1146.1 672.5,1156.7 672.6,1131.9 672.6,1150.3 672.7,1151.4 672.7,1158.6 672.8,1146.9 672.9,1155.9 672.9,1144.1 673.0,1138.1 673.0,1142.1 673.1,1149.4 673.2,1137.6 673.2,1147.6 673.3,1146.7 673.4,1145.9 673.4,1149.6 673.5,1143.4 673.5,1154.8 673.6,1158.5 673.7,1138.0 673.7,1151.4 673.8,1148.7 673.8,1144.0 673.9,1149.5 674.0,1154.4 674.0,1147.7 674.1,1152.8 674.2,1142.5 674.2,1149.3 674.3,1148.1 674.3,1141.0 674.4,1156.9 674.5,1156.5 674.5,1141.2 674.6,1137.5 674.6,1145.6 674.7,1151.1 674.8,1137.8 674.8,1142.7 674.9,1139.2 674.9,1158.7 675.0,1147.1 675.1,1153.3 675.1,1153.8 675.2,1142.2 675.3,1141.2 675.3,1149.5 675.4,1147.9 675.4,1136.7 675.5,1141.7 675.6,1147.0 675.6,1142.7 675.7,1145.4 675.7,1154.8 675.8,1149.6 675.9,1144.0 675.9,1141.7 676.0,1154.2 676.1,1151.4 676.1,1149.8 676.2,1156.2 676.2,1138.1 676.3,1142.5 676.4,1136.6 676.4,1160.6 676.5,1151.1 676.6,1132.9 676.6,1155.1 676.7,1157.9 676.7,1143.8 676.8,1134.4 676.9,1140.8 676.9,1151.8 677.0,1141.3 677.0,1142.2 677.1,1143.2 677.2,1142.3 677.2,1139.2 677.3,1136.8 677.4,1135.4 677.4,1137.4 677.5,1145.7 677.5,1157.4 677.6,1140.8 677.7,1154.9 677.7,1128.8 677.8,1152.4 677.9,1157.1 677.9,1157.1 678.0,1141.6 678.0,1142.2 678.1,1139.7 678.2,1142.2 678.2,1149.5 678.3,1138.5 678.3,1148.8 678.4,1154.3 678.5,1137.7 678.5,1140.2 678.6,1150.3 678.7,1145.5 678.7,1136.6 678.8,1137.2 678.8,1151.0 678.9,1135.9 679.0,1161.4 679.0,1142.9 679.1,1140.8 679.2,1144.2 679.2,1142.5 679.3,1154.4 679.3,1144.1 679.4,1139.7 679.5,1149.5 679.5,1142.1 679.6,1144.2 679.6,1158.5 679.7,1147.1 679.8,1138.9 679.8,1153.6 679.9,1142.6 680.0,1140.4 680.0,1151.5 680.1,1144.4 680.1,1136.4 680.2,1137.5 680.3,1149.3 680.3,1135.4 680.4,1140.0 680.5,1141.5 680.5,1131.9 680.6,1137.2 680.6,1139.6 680.7,1135.5 680.8,1137.5 680.8,1133.2 680.9,1142.8 680.9,1154.2 681.0,1131.1 681.1,1136.3 681.1,1138.1 681.2,1141.4 681.3,1142.3 681.3,1140.9 681.4,1148.1 681.4,1136.2 681.5,1140.9 681.6,1148.0 681.6,1139.5 681.7,1143.6 681.8,1141.5 681.8,1137.5 681.9,1122.5 681.9,1148.5 682.0,1138.2 682.1,1136.1 682.1,1138.0 682.2,1130.6 682.2,1143.8 682.3,1143.1 682.4,1140.8 682.4,1150.2 682.5,1133.0 682.6,1149.2 682.6,1136.8 682.7,1132.2 682.7,1146.2 682.8,1141.6 682.9,1141.8 682.9,1128.4 683.0,1138.4 683.1,1152.3 683.1,1132.6 683.2,1132.8 683.2,1153.7 683.3,1158.6 683.4,1121.5 683.4,1138.9 683.5,1154.2 683.5,1132.0 683.6,1129.4 683.7,1155.6 683.7,1130.1 683.8,1134.0 683.8,1138.9 683.9,1143.5 684.0,1135.9 684.0,1144.1 684.1,1137.2 684.2,1140.0 684.2,1141.2 684.3,1134.2 684.3,1131.1 684.4,1131.6 684.5,1134.6 684.5,1125.9 684.6,1146.2 684.6,1136.9 684.7,1136.0 684.8,1128.7 684.8,1150.5 684.9,1139.6 685.0,1138.7 685.0,1135.6 685.1,1123.2 685.1,1135.1 685.2,1137.0 685.3,1133.8 685.3,1130.4 685.4,1137.1 685.4,1126.0 685.5,1143.1 685.6,1128.3 685.6,1131.5 685.7,1129.6 685.8,1126.2 685.8,1136.8 685.9,1132.8 685.9,1133.5 686.0,1138.6 686.1,1139.4 686.1,1139.4 686.2,1129.7 686.2,1148.1 686.3,1142.1 686.4,1133.9 686.4,1126.5 686.5,1134.8 686.5,1126.5 686.6,1134.3 686.7,1137.0 686.7,1143.0 686.8,1132.5 686.9,1123.2 686.9,1132.9 687.0,1139.5 687.0,1129.7 687.1,1141.2 687.2,1139.8 687.2,1126.2 687.3,1130.3 687.3,1126.9 687.4,1131.1 687.5,1133.1 687.5,1131.3 687.6,1134.1 687.7,1125.8 687.7,1139.7 687.8,1143.1 687.8,1136.8 687.9,1126.3 688.0,1134.8 688.0,1145.2 688.1,1114.4 688.1,1136.8 688.2,1132.3 688.3,1127.6 688.3,1128.7 688.4,1131.8 688.5,1140.0 688.5,1127.5 688.6,1136.3 688.6,1131.5 688.7,1125.8 688.8,1132.5 688.8,1140.7 688.9,1133.6 688.9,1126.3 689.0,1125.5 689.1,1137.4 689.1,1129.3 689.2,1127.7 689.2,1123.0 689.3,1126.8 689.4,1128.2 689.4,1130.8 689.5,1126.1 689.6,1124.2 689.6,1129.6 689.7,1130.3 689.7,1118.1 689.8,1128.6 689.9,1132.9 689.9,1124.1 690.0,1135.4 690.0,1134.4 690.1,1122.4 690.2,1127.6 690.2,1122.9 690.3,1122.9 690.4,1131.9 690.4,1124.3 690.5,1129.4 690.5,1125.8 690.6,1125.5 690.7,1127.4 690.7,1134.4 690.8,1124.9 690.8,1126.4 690.9,1123.3 691.0,1132.6 691.0,1125.0 691.1,1127.3 691.2,1128.5 691.2,1127.5 691.3,1127.3 691.3,1133.8 691.4,1128.8 691.5,1128.2 691.5,1122.6 691.6,1126.2 691.6,1116.8 691.7,1121.5 691.8,1123.1 691.8,1123.6 691.9,1133.1 691.9,1122.5 692.0,1117.1 692.1,1130.4 692.1,1116.5 692.2,1120.6 692.3,1122.4 692.3,1126.4 692.4,1123.6 692.4,1128.3 692.5,1123.6 692.6,1123.0 692.6,1122.8 692.7,1130.3 692.8,1117.5 692.8,1126.7 692.9,1120.3 692.9,1119.1 693.0,1123.6 693.1,1107.8 693.1,1121.4 693.2,1119.5 693.2,1123.3 693.3,1119.8 693.4,1129.0 693.4,1117.7 693.5,1123.5 693.6,1124.2 693.6,1116.5 693.7,1115.6 693.7,1123.3 693.8,1126.6 693.9,1132.3 693.9,1126.2 694.0,1117.3 694.0,1116.3 694.1,1127.3 694.2,1119.5 694.2,1113.5 694.3,1124.0 694.4,1122.6 694.4,1124.6 694.5,1116.7 694.5,1130.1 694.6,1119.6 694.7,1115.9 694.7,1118.9 694.8,1112.8 694.9,1114.7 694.9,1121.1 695.0,1123.9 695.0,1124.1 695.1,1114.9 695.2,1118.4 695.2,1116.8 695.3,1122.7 695.3,1110.4 695.4,1111.9 695.5,1112.5 695.5,1123.3 695.6,1101.4 695.7,1111.6 695.7,1122.7 695.8,1110.6 695.8,1116.8 695.9,1120.5 696.0,1120.3 696.0,1112.8 696.1,1113.7 696.1,1114.2 696.2,1116.5 696.3,1121.1 696.3,1113.5 696.4,1116.4 696.5,1115.9 696.5,1111.0 696.6,1104.5 696.6,1118.0 696.7,1108.5 696.8,1118.3 696.8,1109.0 696.9,1110.0 697.0,1113.4 697.0,1112.1 697.1,1117.9 697.1,1115.2 697.2,1107.5 697.3,1108.4 697.3,1099.6 697.4,1118.6 697.4,1115.2 697.5,1111.8 697.6,1111.9 697.6,1115.0 697.7,1114.4 697.8,1112.4 697.8,1104.2 697.9,1112.2 697.9,1115.8 698.0,1109.5 698.1,1126.4 698.1,1116.1 698.2,1114.6 698.2,1108.9 698.3,1123.9 698.4,1111.7 698.4,1116.6 698.5,1104.4 698.6,1105.4 698.6,1112.5 698.7,1107.0 698.7,1116.5 698.8,1108.2 698.9,1107.8 698.9,1103.0 699.0,1111.6 699.1,1121.5 699.1,1104.1 699.2,1115.0 699.2,1111.7 699.3,1110.5 699.4,1098.6 699.4,1108.4 699.5,1101.2 699.5,1107.4 699.6,1115.9 699.7,1104.9 699.7,1104.4 699.8,1110.6 699.9,1116.3 699.9,1090.5 700.0,1094.4 700.0,1104.3 700.1,1103.9 700.2,1101.0 700.2,1102.9 700.3,1114.8 700.3,1114.1 700.4,1101.1 700.5,1097.9 700.5,1099.4 700.6,1100.7 700.7,1105.5 700.7,1099.6 700.8,1096.1 700.8,1101.9 700.9,1097.5 701.0,1097.6 701.0,1108.7 701.1,1097.6 701.2,1108.7 701.2,1109.5 701.3,1094.6 701.3,1113.5 701.4,1104.8 701.5,1098.3 701.5,1101.1 701.6,1105.4 701.6,1108.5 701.7,1099.9 701.8,1099.6 701.8,1103.0 701.9,1108.0 702.0,1110.5 702.0,1102.0 702.1,1102.1 702.1,1096.8 702.2,1103.3 702.3,1096.0 702.3,1108.2 702.4,1111.0 702.5,1095.3 702.5,1103.1 702.6,1105.3 702.6,1101.1 702.7,1107.1 702.8,1101.9 702.8,1107.8 702.9,1098.6 702.9,1102.8 703.0,1099.5 703.1,1099.0 703.1,1096.3 703.2,1108.6 703.3,1097.6 703.3,1099.9 703.4,1104.8 703.4,1099.5 703.5,1094.9 703.6,1094.9 703.6,1085.9 703.7,1099.2 703.7,1096.3 703.8,1085.7 703.9,1100.2 703.9,1101.4 704.0,1099.1 704.1,1099.7 704.1,1096.2 704.2,1095.1 704.2,1100.1 704.3,1102.1 704.4,1095.7 704.4,1102.3 704.5,1099.7 704.6,1092.8 704.6,1095.2 704.7,1100.3 704.7,1102.6 704.8,1099.9 704.9,1102.5 704.9,1090.7 705.0,1089.3 705.0,1091.7 705.1,1091.5 705.2,1096.0 705.2,1092.0 705.3,1092.4 705.4,1092.3 705.4,1095.2 705.5,1098.4 705.5,1090.4 705.6,1089.7 705.7,1098.2 705.7,1092.9 705.8,1091.5 705.9,1088.3 705.9,1100.8 706.0,1098.9 706.0,1098.6 706.1,1097.7 706.2,1096.6 706.2,1085.2 706.3,1096.7 706.3,1077.5 706.4,1088.0 706.5,1085.4 706.5,1089.5 706.6,1084.1 706.7,1086.7 706.7,1084.1 706.8,1085.2 706.8,1084.8 706.9,1086.0 707.0,1081.7 707.0,1087.7 707.1,1090.7 707.1,1078.3 707.2,1090.1 707.3,1084.9 707.3,1074.8 707.4,1090.5 707.5,1088.2 707.5,1090.4 707.6,1091.7 707.6,1082.4 707.7,1087.1 707.8,1085.0 707.8,1095.4 707.9,1082.6 708.0,1089.4 708.0,1096.2 708.1,1089.1 708.1,1094.0 708.2,1075.4 708.3,1094.1 708.3,1082.6 708.4,1090.0 708.4,1088.6 708.5,1091.1 708.6,1076.5 708.6,1089.7 708.7,1086.8 708.8,1081.6 708.8,1084.9 708.9,1078.6 708.9,1086.7 709.0,1091.6 709.1,1079.5 709.1,1075.0 709.2,1078.7 709.3,1086.4 709.3,1074.7 709.4,1076.7 709.4,1083.2 709.5,1078.4 709.6,1080.9 709.6,1079.9 709.7,1076.6 709.7,1077.4 709.8,1084.0 709.9,1086.1 709.9,1102.9 710.0,1095.3 710.1,1090.0 710.1,1099.4 710.2,1094.7 710.2,1100.0 710.3,1100.5 710.4,1102.4 710.4,1097.5 710.5,1104.2 710.6,1108.9 710.6,1119.2 710.7,1110.8 710.8,1122.6 710.8,1109.0 710.9,1124.2 710.9,1125.7 711.0,1124.6 711.1,1132.4 711.1,1122.3 711.2,1123.4 711.2,1130.1 711.3,1129.1 711.4,1113.1 711.4,1117.7 711.5,1121.7 711.6,1123.5 711.6,1115.3 711.7,1128.0 711.7,1127.1 711.8,1126.3 711.9,1132.5 711.9,1131.3 712.0,1112.8 712.1,1124.2 712.1,1131.2 712.2,1126.8 712.2,1128.5 712.3,1128.1 712.4,1125.5 712.4,1135.0 712.5,1137.2 712.5,1126.4 712.6,1126.6 712.7,1132.9 712.7,1125.7 712.8,1128.8 712.9,1123.6 712.9,1126.3 713.0,1117.4 713.0,1115.5 713.1,1120.4 713.2,1124.7 713.2,1119.1 713.3,1119.8 713.4,1121.6 713.4,1119.5 713.5,1127.2 713.5,1119.5 713.6,1121.1 713.7,1121.9 713.7,1125.7 713.8,1127.3 713.8,1120.6 713.9,1127.9 714.0,1131.7 714.0,1113.2 714.1,1116.5 714.2,1129.6 714.2,1115.1 714.3,1138.1 714.3,1120.3 714.4,1119.8 714.5,1122.6 714.5,1125.6 714.6,1119.0 714.7,1120.8 714.7,1131.8 714.8,1129.1 714.8,1117.5 714.9,1119.1 715.0,1131.8 715.0,1134.0 715.1,1121.1 715.1,1129.6 715.2,1128.9 715.3,1127.6 715.3,1122.7 715.4,1137.8 715.5,1119.2 715.5,1127.0 715.6,1118.5 715.6,1132.3 715.7,1130.6 715.8,1121.6 715.8,1118.4 715.9,1125.5 716.0,1127.4 716.0,1116.3 716.1,1118.1 716.1,1123.5 716.2,1127.2 716.3,1117.3 716.3,1121.1 716.4,1128.3 716.5,1116.2 716.5,1118.7 716.6,1124.7 716.6,1123.1 716.7,1121.2 716.8,1129.6 716.8,1134.6 716.9,1118.7 717.0,1137.7 717.0,1137.0 717.1,1136.4 717.1,1123.7 717.2,1120.2 717.3,1131.6 717.3,1118.7 717.4,1116.5 717.5,1118.4 717.5,1136.3 717.6,1119.0 717.6,1112.5 717.7,1134.0 717.8,1138.9 717.8,1119.5 717.9,1124.7 718.0,1128.6 718.0,1128.8 718.1,1140.0 718.1,1134.3 718.2,1127.4 718.3,1125.7 718.3,1122.7 718.4,1122.8 718.5,1132.3 718.5,1129.8 718.6,1119.8 718.6,1138.5 718.7,1126.0 718.8,1135.3 718.8,1128.3 718.9,1117.4 718.9,1127.3 719.0,1133.2 719.1,1134.9 719.1,1139.9 719.2,1130.8 719.3,1146.1 719.3,1131.5 719.4,1130.2 719.4,1137.4 719.5,1136.7 719.6,1123.6 719.6,1123.4 719.7,1118.2 719.7,1124.4 719.8,1130.1 719.9,1133.9 719.9,1124.3 720.0,1128.1 720.1,1131.7 720.1,1120.9 720.2,1134.3 720.2,1132.2 720.3,1126.1 720.4,1130.4 720.4,1133.4 720.5,1127.0 720.5,1115.5 720.6,1136.6 720.7,1129.8 720.7,1131.8 720.8,1133.7 720.9,1123.7 720.9,1135.7 721.0,1123.9 721.0,1142.1 721.1,1134.8 721.2,1141.3 721.2,1133.5 721.3,1131.5 721.3,1132.5 721.4,1134.9 721.5,1138.4 721.5,1145.0 721.6,1131.2 721.6,1136.9 721.7,1129.5 721.8,1148.7 721.8,1139.3 721.9,1149.2 722.0,1130.5 722.0,1143.0 722.1,1145.3 722.1,1132.5 722.2,1139.2 722.3,1137.1 722.3,1139.6 722.4,1131.5 722.4,1137.3 722.5,1137.6 722.6,1139.6 722.6,1133.2 722.7,1132.3 722.8,1142.4 722.8,1134.4 722.9,1150.5 722.9,1145.9 723.0,1144.3 723.1,1145.8 723.1,1137.4 723.2,1150.5 723.2,1151.8 723.3,1140.2 723.4,1147.5 723.4,1141.5 723.5,1141.4 723.6,1146.7 723.6,1145.1 723.7,1136.7 723.7,1142.6 723.8,1142.4 723.9,1138.5 723.9,1148.1 724.0,1151.5 724.0,1145.9 724.1,1132.7 724.2,1139.7 724.2,1128.9 724.3,1137.4 724.4,1138.1 724.4,1147.8 724.5,1155.4 724.5,1158.6 724.6,1143.2 724.7,1151.6 724.7,1151.9 724.8,1140.1 724.8,1141.8 724.9,1152.4 725.0,1141.9 725.0,1134.1 725.1,1137.1 725.1,1148.0 725.2,1136.8 725.3,1156.5 725.3,1145.0 725.4,1146.0 725.5,1134.5 725.5,1150.9 725.6,1149.1 725.6,1144.8 725.7,1137.3 725.8,1151.8 725.8,1140.6 725.9,1144.6 725.9,1145.1 726.0,1150.6 726.1,1139.0 726.1,1140.8 726.2,1138.7 726.3,1140.4 726.3,1142.2 726.4,1147.4 726.4,1141.4 726.5,1135.9 726.6,1140.1 726.6,1137.4 726.7,1135.0 726.7,1138.5 726.8,1142.4 726.9,1147.2 726.9,1132.0 727.0,1141.5 727.1,1141.5 727.1,1139.6 727.2,1134.6 727.2,1134.2 727.3,1144.7 727.4,1140.3 727.4,1131.8 727.5,1143.7 727.5,1139.3 727.6,1145.1 727.7,1149.2 727.7,1148.0 727.8,1138.0 727.8,1136.9 727.9,1156.5 728.0,1140.6 728.0,1140.3 728.1,1149.1 728.2,1139.0 728.2,1143.8 728.3,1129.2 728.3,1144.9 728.4,1131.1 728.5,1146.1 728.5,1145.0 728.6,1128.2 728.6,1142.9 728.7,1140.6 728.8,1148.3 728.8,1136.4 728.9,1127.9 729.0,1139.2 729.0,1139.0 729.1,1137.1 729.1,1142.2 729.2,1145.7 729.3,1136.7 729.3,1139.1 729.4,1148.7 729.4,1153.2 729.5,1133.5 729.6,1145.3 729.6,1133.6 729.7,1130.5 729.8,1136.9 729.8,1140.5 729.9,1153.6 729.9,1126.0 730.0,1130.2 730.1,1141.4 730.1,1143.4 730.2,1132.8 730.3,1149.6 730.3,1131.2 730.4,1129.6 730.4,1144.1 730.5,1143.1 730.6,1123.6 730.6,1139.0 730.7,1134.5 730.8,1137.9 730.8,1149.5 730.9,1128.6 730.9,1124.4 731.0,1139.3 731.1,1141.4 731.1,1124.9 731.2,1145.4 731.3,1137.2 731.3,1144.2 731.4,1145.7 731.4,1139.2 731.5,1153.1 731.6,1143.1 731.6,1134.5 731.7,1139.7 731.8,1142.2 731.8,1117.8 731.9,1129.2 731.9,1138.0 732.0,1127.0 732.1,1130.0 732.1,1133.2 732.2,1129.2 732.2,1136.7 732.3,1138.0 732.4,1121.9 732.4,1133.5 732.5,1123.6 732.6,1147.5 732.6,1140.1 732.7,1140.0 732.7,1132.9 732.8,1134.1 732.9,1127.0 732.9,1130.1 733.0,1133.5 733.1,1129.9 733.1,1128.5 733.2,1131.4 733.2,1149.9 733.3,1136.5 733.4,1129.0 733.4,1135.8 733.5,1123.6 733.6,1136.5 733.6,1132.5 733.7,1138.3 733.7,1133.5 733.8,1125.0 733.9,1122.8 733.9,1126.4 734.0,1127.6 734.0,1131.2 734.1,1140.7 734.2,1127.6 734.2,1136.1 734.3,1129.7 734.4,1132.2 734.4,1125.6 734.5,1135.8 734.5,1125.8 734.6,1131.0 734.7,1119.9 734.7,1131.6 734.8,1131.7 734.8,1143.4 734.9,1124.5 735.0,1130.1 735.0,1145.3 735.1,1126.9 735.2,1126.7 735.2,1132.1 735.3,1120.9 735.3,1130.4 735.4,1130.5 735.5,1126.7 735.5,1136.9 735.6,1125.4 735.6,1134.9 735.7,1127.2 735.8,1121.3 735.8,1131.3 735.9,1132.9 735.9,1117.1 736.0,1128.1 736.1,1120.9 736.1,1124.1 736.2,1124.9 736.3,1118.2 736.3,1128.0 736.4,1138.1 736.4,1129.1 736.5,1131.4 736.6,1134.8 736.6,1129.9 736.7,1124.2 736.7,1123.5 736.8,1126.2 736.9,1127.6 736.9,1126.1 737.0,1129.4 737.1,1132.1 737.1,1125.7 737.2,1120.1 737.2,1130.9 737.3,1125.7 737.4,1121.0 737.4,1132.1 737.5,1122.9 737.5,1124.2 737.6,1118.2 737.7,1131.1 737.7,1128.0 737.8,1114.3 737.9,1110.8 737.9,1120.6 738.0,1115.1 738.0,1128.6 738.1,1117.4 738.2,1122.0 738.2,1119.3 738.3,1132.4 738.3,1123.2 738.4,1119.7 738.5,1117.0 738.5,1121.7 738.6,1122.0 738.6,1118.5 738.7,1113.6 738.8,1134.9 738.8,1138.1 738.9,1125.4 739.0,1114.9 739.0,1113.7 739.1,1121.2 739.1,1132.8 739.2,1122.5 739.3,1130.9 739.3,1121.1 739.4,1128.2 739.4,1115.7 739.5,1133.9 739.6,1117.6 739.6,1132.6 739.7,1123.2 739.8,1125.9 739.8,1137.2 739.9,1141.5 739.9,1129.8 740.0,1130.9 740.1,1133.0 740.1,1124.2 740.2,1127.3 740.2,1125.4 740.3,1136.7 740.4,1130.8 740.4,1131.1 740.5,1123.3 740.6,1121.7 740.6,1133.9 740.7,1130.8 740.7,1147.4 740.8,1117.2 740.9,1128.7 740.9,1127.8 741.0,1129.2 741.0,1132.8 741.1,1143.9 741.2,1138.3 741.2,1137.8 741.3,1134.0 741.3,1140.2 741.4,1131.3 741.5,1128.6 741.5,1131.9 741.6,1132.3 741.7,1117.3 741.7,1139.0 741.8,1138.3 741.8,1128.3 741.9,1136.6 742.0,1122.3 742.0,1138.4 742.1,1133.8 742.1,1121.9 742.2,1144.5 742.3,1126.3 742.3,1131.3 742.4,1131.7 742.5,1123.5 742.5,1137.0 742.6,1128.5 742.6,1136.1 742.7,1123.8 742.8,1140.9 742.8,1132.8 742.9,1135.9 742.9,1139.6 743.0,1125.2 743.1,1134.6 743.1,1127.9 743.2,1147.6 743.3,1138.6 743.3,1138.2 743.4,1128.9 743.4,1142.2 743.5,1128.8 743.6,1124.4 743.6,1130.3 743.7,1129.8 743.7,1133.3 743.8,1136.6 743.9,1130.7 743.9,1128.9 744.0,1120.1 744.0,1128.8 744.1,1134.9 744.2,1124.2 744.2,1136.8 744.3,1143.5 744.4,1131.2 744.4,1134.3 744.5,1125.0 744.5,1129.7 744.6,1138.1 744.7,1134.0 744.7,1132.5 744.8,1114.6 744.8,1137.3 744.9,1135.7 745.0,1120.0 745.0,1118.3 745.1,1130.6 745.2,1118.8 745.2,1128.6 745.3,1134.1 745.3,1128.5 745.4,1121.5 745.5,1117.5 745.5,1128.9 745.6,1136.2 745.6,1125.7 745.7,1130.2 745.8,1131.6 745.8,1123.9 745.9,1125.3 746.0,1134.9 746.0,1131.2 746.1,1116.8 746.1,1127.7 746.2,1113.8 746.3,1142.6 746.3,1133.3 746.4,1125.7 746.4,1132.4 746.5,1124.4 746.6,1124.9 746.6,1134.5 746.7,1112.6 746.7,1112.8 746.8,1136.3 746.9,1126.6 746.9,1133.4 747.0,1127.1 747.1,1127.3 747.1,1125.6 747.2,1116.1 747.2,1115.4 747.3,1125.7 747.4,1120.4 747.4,1118.6 747.5,1133.7 747.5,1122.3 747.6,1129.6 747.7,1114.6 747.7,1113.7 747.8,1120.0 747.9,1111.9 747.9,1123.8 748.0,1127.0 748.0,1112.2 748.1,1121.3 748.2,1118.9 748.2,1130.1 748.3,1115.9 748.3,1121.3 748.4,1121.5 748.5,1127.9 748.5,1125.5 748.6,1123.0 748.7,1118.9 748.7,1111.0 748.8,1131.6 748.8,1129.1 748.9,1125.9 749.0,1124.2 749.0,1124.7 749.1,1126.8 749.1,1123.3 749.2,1115.5 749.3,1120.8 749.3,1123.6 749.4,1114.5 749.4,1117.0 749.5,1123.5 749.6,1110.5 749.6,1121.2 749.7,1123.0 749.8,1114.9 749.8,1121.7 749.9,1122.6 749.9,1108.5 750.0,1119.1 750.1,1121.9 750.1,1115.0 750.2,1116.8 750.2,1127.3 750.3,1118.3 750.4,1112.6 750.4,1118.0 750.5,1112.5 750.6,1121.8 750.6,1109.9 750.7,1116.7 750.7,1118.8 750.8,1121.7 750.9,1108.7 750.9,1114.3 751.0,1116.2 751.0,1111.7 751.1,1114.4 751.2,1115.4 751.2,1111.2 751.3,1115.7 751.4,1107.5 751.4,1099.0 751.5,1122.5 751.5,1112.2 751.6,1114.7 751.7,1108.3 751.7,1123.4 751.8,1099.1 751.8,1106.9 751.9,1099.2 752.0,1104.5 752.0,1117.1 752.1,1111.8 752.1,1101.1 752.2,1103.9 752.3,1114.9 752.3,1108.7 752.4,1102.0 752.5,1102.2 752.5,1111.9 752.6,1107.2 752.6,1106.2 752.7,1110.5 752.8,1110.5 752.8,1103.1 752.9,1108.7 752.9,1108.9 753.0,1101.5 753.1,1101.4 753.1,1104.7 753.2,1110.3 753.3,1112.5 753.3,1114.0 753.4,1111.1 753.4,1105.4 753.5,1114.8 753.6,1112.0 753.6,1112.7 753.7,1105.5 753.7,1108.9 753.8,1097.3 753.9,1098.3 753.9,1105.6 754.0,1106.5 754.1,1099.2 754.1,1110.6 754.2,1099.6 754.2,1112.5 754.3,1107.1 754.4,1102.8 754.4,1103.8 754.5,1113.9 754.5,1109.1 754.6,1103.3 754.7,1113.3 754.7,1093.3 754.8,1107.7 754.8,1102.7 754.9,1087.0 755.0,1104.8 755.0,1101.5 755.1,1099.6 755.2,1103.7 755.2,1108.7 755.3,1111.7 755.3,1101.1 755.4,1103.6 755.5,1094.4 755.5,1101.0 755.6,1098.0 755.7,1108.0 755.7,1103.6 755.8,1099.1 755.8,1103.6 755.9,1097.4 756.0,1103.7 756.0,1102.8 756.1,1098.7 756.1,1107.7 756.2,1085.4 756.3,1108.1 756.3,1091.9 756.4,1091.3 756.5,1101.7 756.5,1097.6 756.6,1094.2 756.6,1097.7 756.7,1095.9 756.8,1101.5 756.8,1096.4 756.9,1102.5 757.0,1105.9 757.0,1100.3 757.1,1094.6 757.1,1097.1 757.2,1096.5 757.3,1100.8 757.3,1097.6 757.4,1102.9 757.4,1098.9 757.5,1097.5 757.6,1102.7 757.6,1089.0 757.7,1109.1 757.8,1093.7 757.8,1099.3 757.9,1091.3 757.9,1100.2 758.0,1092.1 758.1,1101.4 758.1,1101.3 758.2,1097.9 758.2,1096.3 758.3,1102.2 758.4,1089.4 758.4,1102.5 758.5,1097.5 758.6,1095.3 758.6,1096.6 758.7,1089.5 758.7,1101.0 758.8,1089.7 758.9,1088.6 758.9,1095.0 759.0,1083.5 759.1,1104.2 759.1,1098.3 759.2,1103.1 759.2,1112.7 759.3,1108.1 759.4,1092.7 759.4,1100.6 759.5,1108.2 759.5,1093.5 759.6,1101.5 759.7,1096.3 759.7,1096.7 759.8,1085.2 759.9,1107.6 759.9,1092.1 760.0,1073.1 760.0,1092.9 760.1,1091.1 760.2,1093.2 760.2,1087.6 760.3,1090.0 760.3,1088.7 760.4,1098.9 760.5,1092.1 760.5,1089.1 760.6,1091.8 760.7,1088.5 760.7,1085.4 760.8,1083.6 760.8,1090.0 760.9,1087.7 761.0,1093.3 761.0,1093.0 761.1,1086.4 761.2,1098.1 761.2,1083.6 761.3,1097.1 761.3,1090.8 761.4,1094.8 761.5,1095.2 761.5,1087.1 761.6,1100.0 761.6,1081.3 761.7,1099.3 761.8,1085.2 761.8,1090.9 761.9,1090.9 762.0,1087.0 762.0,1081.2 762.1,1087.6 762.1,1092.8 762.2,1088.4 762.3,1082.5 762.3,1094.2 762.4,1086.5 762.4,1080.6 762.5,1091.5 762.6,1088.7 762.6,1082.2 762.7,1091.0 762.8,1087.5 762.8,1088.9 762.9,1085.7 762.9,1093.6 763.0,1096.8 763.1,1080.2 763.1,1091.3 763.2,1092.2 763.3,1081.2 763.3,1089.7 763.4,1087.3 763.4,1092.7 763.5,1087.5 763.6,1083.5 763.6,1079.4 763.7,1081.0 763.7,1092.6 763.8,1087.2 763.9,1081.1 763.9,1090.1 764.0,1090.3 764.1,1086.6 764.1,1078.1 764.2,1091.4 764.2,1079.6 764.3,1080.0 764.4,1088.0 764.4,1091.4 764.5,1085.6 764.5,1085.9 764.6,1087.5 764.7,1083.2 764.7,1069.8 764.8,1077.7 764.9,1075.9 764.9,1083.4 765.0,1075.9 765.0,1087.0 765.1,1081.3 765.2,1075.8 765.2,1068.9 765.3,1079.0 765.3,1081.3 765.4,1082.4 765.5,1087.7 765.5,1078.3 765.6,1071.9 765.6,1077.5 765.7,1081.9 765.8,1082.9 765.8,1087.0 765.9,1073.0 766.0,1081.1 766.0,1073.9 766.1,1086.1 766.1,1076.2 766.2,1075.7 766.3,1081.3 766.3,1083.6 766.4,1064.5 766.4,1070.4 766.5,1072.2 766.6,1083.8 766.6,1071.1 766.7,1075.9 766.8,1069.0 766.8,1080.0 766.9,1080.6 766.9,1085.3 767.0,1088.2 767.1,1088.9 767.1,1081.0 767.2,1078.6 767.2,1069.4 767.3,1066.7 767.4,1081.7 767.4,1091.7 767.5,1076.3 767.6,1075.6 767.6,1080.3 767.7,1083.4 767.7,1081.7 767.8,1076.4 767.9,1076.4 767.9,1087.6 768.0,1078.0 768.0,1083.2 768.1,1082.8 768.2,1076.3 768.2,1081.7 768.3,1075.3 768.4,1091.3 768.4,1073.2 768.5,1075.0 768.5,1079.0 768.6,1081.1 768.7,1085.4 768.7,1082.6 768.8,1065.1 768.8,1073.2 768.9,1076.1 769.0,1079.3 769.0,1079.2 769.1,1082.3 769.1,1073.2 769.2,1069.3 769.3,1081.1 769.3,1071.0 769.4,1077.2 769.5,1072.4 769.5,1079.8 769.6,1069.5 769.6,1064.0 769.7,1077.5 769.8,1075.6 769.8,1068.0 769.9,1077.7 769.9,1081.2 770.0,1088.6 770.1,1076.5 770.1,1066.2 770.2,1077.4 770.3,1074.0 770.3,1087.7 770.4,1075.7 770.4,1073.8 770.5,1076.6 770.6,1075.4 770.6,1079.5 770.7,1077.9 770.7,1065.1 770.8,1079.0 770.9,1064.1 770.9,1079.8 771.0,1064.0 771.1,1072.2 771.1,1067.4 771.2,1072.3 771.2,1068.0 771.3,1056.6 771.4,1084.5 771.4,1074.2 771.5,1068.0 771.5,1061.5 771.6,1077.9 771.7,1069.7 771.7,1064.7 771.8,1072.8 771.8,1069.5 771.9,1067.9 772.0,1063.5 772.0,1066.7 772.1,1066.8 772.2,1072.9 772.2,1071.9 772.3,1055.5 772.3,1077.7 772.4,1071.3 772.5,1073.4 772.5,1068.0 772.6,1074.7 772.6,1063.2 772.7,1073.6 772.8,1072.3 772.8,1079.0 772.9,1071.4 773.0,1079.1 773.0,1070.1 773.1,1064.4 773.1,1079.7 773.2,1054.6 773.3,1062.0 773.3,1066.2 773.4,1070.2 773.4,1060.3 773.5,1064.4 773.6,1070.4 773.6,1066.1 773.7,1066.3 773.8,1073.1 773.8,1057.4 773.9,1076.6 773.9,1063.9 774.0,1073.4 774.1,1067.2 774.1,1068.3 774.2,1065.4 774.2,1055.6 774.3,1069.8 774.4,1062.5 774.4,1063.6 774.5,1064.5 774.5,1074.3 774.6,1066.2 774.7,1077.7 774.7,1058.0 774.8,1055.5 774.9,1064.6 774.9,1062.1 775.0,1065.9 775.0,1078.4 775.1,1067.8 775.2,1058.9 775.2,1065.9 775.3,1071.1 775.3,1085.8 775.4,1057.7 775.5,1053.6 775.5,1052.8 775.6,1046.9 775.7,1080.3 775.7,1064.7 775.8,1060.1 775.8,1068.6 775.9,1063.0 776.0,1056.4 776.0,1068.6 776.1,1059.9 776.1,1071.1 776.2,1081.8 776.3,1064.0 776.3,1060.6 776.4,1060.5 776.5,1058.2 776.5,1071.2 776.6,1059.3 776.6,1086.1 776.7,1062.4 776.8,1073.2 776.8,1063.5 776.9,1072.1 776.9,1062.2 777.0,1057.2 777.1,1055.6 777.1,1067.1 777.2,1053.3 777.2,1061.1 777.3,1053.2 777.4,1063.3 777.4,1070.6 777.5,1062.4 777.6,1069.3 777.6,1069.7 777.7,1077.7 777.7,1061.4 777.8,1053.2 777.9,1070.4 777.9,1064.0 778.0,1073.3 778.0,1059.5 778.1,1054.4 778.2,1062.5 778.2,1057.2 778.3,1057.1 778.4,1063.4 778.4,1056.5 778.5,1073.9 778.5,1062.9 778.6,1060.7 778.7,1057.0 778.7,1052.3 778.8,1063.0 778.8,1067.7 778.9,1064.7 779.0,1063.8 779.0,1068.0 779.1,1071.5 779.2,1059.4 779.2,1070.1 779.3,1061.7 779.3,1061.4 779.4,1062.0 779.5,1054.1 779.5,1058.7 779.6,1060.0 779.7,1050.9 779.7,1064.0 779.8,1071.0 779.8,1065.2 779.9,1054.3 780.0,1068.4 780.0,1067.3 780.1,1057.9 780.1,1043.9 780.2,1064.2 780.3,1053.5 780.3,1050.4 780.4,1065.0 780.5,1066.0 780.5,1062.8 780.6,1066.2 780.6,1061.1 780.7,1069.8 780.8,1062.9 780.8,1062.1 780.9,1046.4 781.0,1070.8 781.0,1060.4 781.1,1066.6 781.1,1061.4 781.2,1064.2 781.3,1066.9 781.3,1062.6 781.4,1066.4 781.5,1059.6 781.5,1053.9 781.6,1057.4 781.6,1060.3 781.7,1056.3 781.8,1062.4 781.8,1057.4 781.9,1041.8 781.9,1057.9 782.0,1046.6 782.1,1055.5 782.1,1063.6 782.2,1058.8 782.3,1068.0 782.3,1056.9 782.4,1052.2 782.4,1057.4 782.5,1054.5 782.6,1060.1 782.6,1063.6 782.7,1073.5 782.8,1057.2 782.8,1053.9 782.9,1054.5 782.9,1062.3 783.0,1056.4 783.1,1056.7 783.1,1056.0 783.2,1065.0 783.3,1068.6 783.3,1074.4 783.4,1063.5 783.4,1063.4 783.5,1066.3 783.6,1059.4 783.6,1069.7 783.7,1058.8 783.7,1049.5 783.8,1061.7 783.9,1072.8 783.9,1060.7 784.0,1064.6 784.1,1060.2 784.1,1062.6 784.2,1064.8 784.2,1058.3 784.3,1053.7 784.4,1062.8 784.4,1061.4 784.5,1073.5 784.6,1048.9 784.6,1069.9 784.7,1064.1 784.7,1074.7 784.8,1061.9 784.9,1072.4 784.9,1066.0 785.0,1071.3 785.0,1069.6 785.1,1070.5 785.2,1074.7 785.2,1070.3 785.3,1075.3 785.3,1072.6 785.4,1073.7 785.5,1078.8 785.5,1070.4 785.6,1068.1 785.7,1071.9 785.7,1084.3 785.8,1070.4 785.8,1068.8 785.9,1086.9 786.0,1068.6 786.0,1092.6 786.1,1074.7 786.1,1072.1 786.2,1067.7 786.3,1066.0 786.3,1073.1 786.4,1069.5 786.5,1065.1 786.5,1063.1 786.6,1073.3 786.6,1069.5 786.7,1083.4 786.8,1080.2 786.8,1065.0 786.9,1071.6 786.9,1082.4 787.0,1075.1 787.1,1085.7 787.1,1074.3 787.2,1066.8 787.3,1085.3 787.3,1073.6 787.4,1070.6 787.4,1073.9 787.5,1071.8 787.6,1077.2 787.6,1077.8 787.7,1071.8 787.7,1084.7 787.8,1072.4 787.9,1081.8 787.9,1076.5 788.0,1060.9 788.0,1073.7 788.1,1074.2 788.2,1064.8 788.2,1075.8 788.3,1074.4 788.4,1070.6 788.4,1065.7 788.5,1076.3 788.5,1069.8 788.6,1082.5 788.7,1078.1 788.7,1069.8 788.8,1073.5 788.8,1067.2 788.9,1063.4 789.0,1083.0 789.0,1066.1 789.1,1067.3 789.2,1070.3 789.2,1066.8 789.3,1073.1 789.3,1064.6 789.4,1066.1 789.5,1054.5 789.5,1080.2 789.6,1074.0 789.6,1063.8 789.7,1059.5 789.8,1074.7 789.8,1073.8 789.9,1069.6 790.0,1063.5 790.0,1072.2 790.1,1059.2 790.1,1055.1 790.2,1067.1 790.3,1057.4 790.3,1075.8 790.4,1072.1 790.4,1060.9 790.5,1058.8 790.6,1074.0 790.6,1067.9 790.7,1061.4 790.7,1064.6 790.8,1069.6 790.9,1064.2 790.9,1058.3 791.0,1067.4 791.1,1072.7 791.1,1054.7 791.2,1066.8 791.2,1077.5 791.3,1061.4 791.4,1056.8 791.4,1055.6 791.5,1056.3 791.5,1063.0 791.6,1060.4 791.7,1059.4 791.7,1050.9 791.8,1060.1 791.9,1073.0 791.9,1055.0 792.0,1060.9 792.0,1063.0 792.1,1063.4 792.2,1056.2 792.2,1061.4 792.3,1059.4 792.3,1061.2 792.4,1054.5 792.5,1069.0 792.5,1058.1 792.6,1057.2 792.7,1060.8 792.7,1050.3 792.8,1048.9 792.8,1062.2 792.9,1051.5 793.0,1064.9 793.0,1045.8 793.1,1051.3 793.1,1063.2 793.2,1053.8 793.3,1055.5 793.3,1061.8 793.4,1067.8 793.4,1060.3 793.5,1051.9 793.6,1052.1 793.6,1055.9 793.7,1055.4 793.8,1064.6 793.8,1062.4 793.9,1057.3 793.9,1059.8 794.0,1065.0 794.1,1066.9 794.1,1049.8 794.2,1058.4 794.2,1054.8 794.3,1064.6 794.4,1066.2 794.4,1051.1 794.5,1054.9 794.6,1050.6 794.6,1062.3 794.7,1059.8 794.7,1054.5 794.8,1058.7 794.9,1047.3 794.9,1047.4 795.0,1061.4 795.0,1049.0 795.1,1057.3 795.2,1050.0 795.2,1053.0 795.3,1057.2 795.4,1053.8 795.4,1042.2 795.5,1048.1 795.5,1052.7 795.6,1057.9 795.7,1038.6 795.7,1046.0 795.8,1052.7 795.8,1050.6 795.9,1055.0 796.0,1051.0 796.0,1048.1 796.1,1054.3 796.1,1055.4 796.2,1058.5 796.3,1059.6 796.3,1055.7 796.4,1052.3 796.5,1070.7 796.5,1049.8 796.6,1062.1 796.6,1049.0 796.7,1047.4 796.8,1045.1 796.8,1050.9 796.9,1060.6 796.9,1042.0 797.0,1058.6 797.1,1044.9 797.1,1061.3 797.2,1056.0 797.3,1063.6 797.3,1055.8 797.4,1051.3 797.4,1048.9 797.5,1066.9 797.6,1058.5 797.6,1061.5 797.7,1048.1 797.7,1053.6 797.8,1048.3 797.9,1055.6 797.9,1044.1 798.0,1054.3 798.1,1051.0 798.1,1051.1 798.2,1054.0 798.2,1061.4 798.3,1057.8 798.4,1045.8 798.4,1046.3 798.5,1058.4 798.5,1052.1 798.6,1067.4 798.7,1048.7 798.7,1057.0 798.8,1071.8 798.8,1062.8 798.9,1058.5 799.0,1059.2 799.0,1056.8 799.1,1062.3 799.2,1069.0 799.2,1045.4 799.3,1063.5 799.3,1064.5 799.4,1067.0 799.5,1059.2 799.5,1048.2 799.6,1048.4 799.6,1042.9 799.7,1061.3 799.8,1057.3 799.8,1047.3 799.9,1058.0 800.0,1054.5 800.0,1045.1 800.1,1065.8 800.1,1066.5 800.2,1055.8 800.3,1065.1 800.3,1063.0 800.4,1053.1 800.4,1059.6 800.5,1053.0 800.6,1068.6 800.6,1063.9 800.7,1062.3 800.8,1062.9 800.8,1080.3 800.9,1074.3 800.9,1063.8 801.0,1081.4 801.1,1080.5 801.1,1074.8 801.2,1073.6 801.2,1065.1 801.3,1067.1 801.4,1075.3 801.4,1079.3 801.5,1079.8 801.5,1065.5 801.6,1071.8 801.7,1071.1 801.7,1090.1 801.8,1088.9 801.9,1068.4 801.9,1060.8 802.0,1071.8 802.0,1080.7 802.1,1086.8 802.2,1083.9 802.2,1071.9 802.3,1072.5 802.4,1079.1 802.4,1069.7 802.5,1063.6 802.5,1070.6 802.6,1077.6 802.7,1081.9 802.7,1076.2 802.8,1078.7 802.9,1061.0 802.9,1075.9 803.0,1061.3 803.0,1076.5 803.1,1070.9 803.2,1069.0 803.2,1073.6 803.3,1071.2 803.4,1071.4 803.4,1073.2 803.5,1070.8 803.5,1062.6 803.6,1058.1 803.7,1072.0 803.7,1060.5 803.8,1071.2 803.8,1070.2 803.9,1067.6 804.0,1070.9 804.0,1063.5 804.1,1073.0 804.2,1070.6 804.2,1068.3 804.3,1074.2 804.3,1074.9 804.4,1066.9 804.5,1063.1 804.5,1071.3 804.6,1075.9 804.7,1073.7 804.7,1071.1 804.8,1071.1 804.8,1069.8 804.9,1054.7 805.0,1076.3 805.0,1075.7 805.1,1072.2 805.2,1077.7 805.2,1061.3 805.3,1077.8 805.3,1073.2 805.4,1074.5 805.5,1065.2 805.5,1068.3 805.6,1071.8 805.7,1070.1 805.7,1062.8 805.8,1063.2 805.8,1053.4 805.9,1071.1 806.0,1056.0 806.0,1051.3 806.1,1061.5 806.1,1077.5 806.2,1063.8 806.3,1058.4 806.3,1059.9 806.4,1063.5 806.5,1071.0 806.5,1059.8 806.6,1061.7 806.6,1063.9 806.7,1077.1 806.8,1059.5 806.8,1062.7 806.9,1060.1 806.9,1067.9 807.0,1052.8 807.1,1057.5 807.1,1061.5 807.2,1071.5 807.3,1068.4 807.3,1075.5 807.4,1062.0 807.4,1068.2 807.5,1066.2 807.6,1079.9 807.6,1062.0 807.7,1072.3 807.7,1079.3 807.8,1051.7 807.9,1051.1 807.9,1064.2 808.0,1078.4 808.1,1064.1 808.1,1057.6 808.2,1069.2 808.2,1056.8 808.3,1056.1 808.4,1058.9 808.4,1058.3 808.5,1070.5 808.5,1066.3 808.6,1070.8 808.7,1072.9 808.7,1056.9 808.8,1064.5 808.9,1056.5 808.9,1064.1 809.0,1069.1 809.0,1052.6 809.1,1053.9 809.2,1063.3 809.2,1058.3 809.3,1074.5 809.3,1065.7 809.4,1052.8 809.5,1060.3 809.5,1062.1 809.6,1051.4 809.6,1051.4 809.7,1068.0 809.8,1064.2 809.8,1059.1 809.9,1068.4 810.0,1056.8 810.0,1055.9 810.1,1060.2 810.1,1070.8 810.2,1061.7 810.3,1060.6 810.3,1057.7 810.4,1060.5 810.4,1062.5 810.5,1048.1 810.6,1050.3 810.6,1064.2 810.7,1068.6 810.8,1052.1 810.8,1064.4 810.9,1067.8 810.9,1057.7 811.0,1068.3 811.1,1064.8 811.1,1060.7 811.2,1058.8 811.2,1062.6 811.3,1051.0 811.4,1053.6 811.4,1045.4 811.5,1054.9 811.6,1056.1 811.6,1051.4 811.7,1059.2 811.7,1050.6 811.8,1062.0 811.9,1061.6 811.9,1076.9 812.0,1064.2 812.0,1056.5 812.1,1055.7 812.2,1058.9 812.2,1057.1 812.3,1042.9 812.4,1059.5 812.4,1059.2 812.5,1061.9 812.5,1057.2 812.6,1070.0 812.7,1058.5 812.7,1048.7 812.8,1055.5 812.9,1056.6 812.9,1068.6 813.0,1073.4 813.1,1063.8 813.1,1060.5 813.2,1068.7 813.2,1069.3 813.3,1074.4 813.4,1072.7 813.4,1054.9 813.5,1064.0 813.6,1059.5 813.6,1067.8 813.7,1072.7 813.7,1070.3 813.8,1064.1 813.9,1071.4 813.9,1061.6 814.0,1063.8 814.1,1077.5 814.1,1066.1 814.2,1064.9 814.2,1054.4 814.3,1076.9 814.4,1071.9 814.4,1070.8 814.5,1073.0 814.6,1059.6 814.6,1077.9 814.7,1071.9 814.7,1063.8 814.8,1059.3 814.9,1068.3 814.9,1061.9 815.0,1072.7 815.1,1063.2 815.1,1072.1 815.2,1061.8 815.2,1080.8 815.3,1063.8 815.4,1074.2 815.4,1072.5 815.5,1070.6 815.5,1067.6 815.6,1071.3 815.7,1078.6 815.7,1074.9 815.8,1067.2 815.8,1064.3 815.9,1070.3 816.0,1069.0 816.0,1075.4 816.1,1065.7 816.2,1071.8 816.2,1080.2 816.3,1056.1 816.3,1074.0 816.4,1069.7 816.5,1059.7 816.5,1073.6 816.6,1080.7 816.6,1065.0 816.7,1064.1 816.8,1073.5 816.8,1072.8 816.9,1062.5 817.0,1072.3 817.0,1069.3 817.1,1071.1 817.1,1053.4 817.2,1079.6 817.3,1062.0 817.3,1069.6 817.4,1058.1 817.4,1085.4 817.5,1065.8 817.6,1066.2 817.6,1078.5 817.7,1085.7 817.8,1054.5 817.8,1065.0 817.9,1071.7 817.9,1074.1 818.0,1062.1 818.1,1060.7 818.1,1071.9 818.2,1067.1 818.2,1057.7 818.3,1073.7 818.4,1061.9 818.4,1058.4 818.5,1080.2 818.5,1076.2 818.6,1051.9 818.7,1068.2 818.7,1059.5 818.8,1063.9 818.9,1059.6 818.9,1056.6 819.0,1054.7 819.0,1059.5 819.1,1073.4 819.2,1072.5 819.2,1052.5 819.3,1070.7 819.3,1067.1 819.4,1075.9 819.5,1074.3 819.5,1068.7 819.6,1061.8 819.7,1065.6 819.7,1069.3 819.8,1073.4 819.8,1079.7 819.9,1062.7 820.0,1075.5 820.0,1059.6 820.1,1062.7 820.1,1079.7 820.2,1066.4 820.3,1057.9 820.3,1076.7 820.4,1065.7 820.5,1063.8 820.5,1065.5 820.6,1067.6 820.6,1055.8 820.7,1066.7 820.8,1075.0 820.8,1074.3 820.9,1073.1 820.9,1073.9 821.0,1069.9 821.1,1078.5 821.1,1054.1 821.2,1066.2 821.2,1071.4 821.3,1058.8 821.4,1059.7 821.4,1078.7 821.5,1065.9 821.6,1077.1 821.6,1075.3 821.7,1066.3 821.7,1072.0 821.8,1066.4 821.9,1074.1 821.9,1064.8 822.0,1067.5 822.0,1082.8 822.1,1071.5 822.2,1086.7 822.2,1079.5 822.3,1068.1 822.4,1064.4 822.4,1079.2 822.5,1075.1 822.5,1073.8 822.6,1079.0 822.7,1061.4 822.7,1064.1 822.8,1070.7 822.8,1074.1 822.9,1071.3 823.0,1072.2 823.0,1075.4 823.1,1080.3 823.2,1072.2 823.2,1068.3 823.3,1071.6 823.3,1061.3 823.4,1083.5 823.5,1073.6 823.5,1066.2 823.6,1062.2 823.7,1071.4 823.7,1068.6 823.8,1069.2 823.8,1067.3 823.9,1069.3 824.0,1068.6 824.0,1063.7 824.1,1071.1 824.1,1069.7 824.2,1077.3 824.3,1075.2 824.3,1070.2 824.4,1065.2 824.5,1071.3 824.5,1057.8 824.6,1072.5 824.6,1067.3 824.7,1071.7 824.8,1059.1 824.8,1070.0 824.9,1077.1 825.0,1073.4 825.0,1085.3 825.1,1063.0 825.1,1051.6 825.2,1070.8 825.3,1063.2 825.3,1061.9 825.4,1069.8 825.5,1072.6 825.5,1059.2 825.6,1075.6 825.6,1063.9 825.7,1064.0 825.8,1074.1 825.8,1081.0 825.9,1062.2 826.0,1067.8 826.0,1062.9 826.1,1075.6 826.1,1070.9 826.2,1063.5 826.3,1065.9 826.3,1066.1 826.4,1070.4 826.5,1065.6 826.5,1065.3 826.6,1061.0 826.6,1063.8 826.7,1063.3 826.8,1067.5 826.8,1047.6 826.9,1075.2 826.9,1062.0 827.0,1083.6 827.1,1070.8 827.1,1058.9 827.2,1080.4 827.3,1058.2 827.3,1074.3 827.4,1061.5 827.4,1070.3 827.5,1070.7 827.6,1069.7 827.6,1060.8 827.7,1068.2 827.8,1060.5 827.8,1065.6 827.9,1071.7 827.9,1055.7 828.0,1069.8 828.1,1067.5 828.1,1055.4 828.2,1055.1 828.2,1063.1 828.3,1057.2 828.4,1061.0 828.4,1072.1 828.5,1069.3 828.6,1064.5 828.6,1056.3 828.7,1068.7 828.7,1068.4 828.8,1071.0 828.9,1066.5 828.9,1071.5 829.0,1061.9 829.0,1058.8 829.1,1063.7 829.2,1078.6 829.2,1074.9 829.3,1065.5 829.3,1055.2 829.4,1068.6 829.5,1059.2 829.5,1065.2 829.6,1056.2 829.7,1072.7 829.7,1072.8 829.8,1068.3 829.8,1063.6 829.9,1063.0 830.0,1049.6 830.0,1061.2 830.1,1071.7 830.1,1058.3 830.2,1077.4 830.3,1058.8 830.3,1064.4 830.4,1070.6 830.5,1066.9 830.5,1067.5 830.6,1059.8 830.6,1065.1 830.7,1056.2 830.8,1068.1 830.8,1051.4 830.9,1047.4 830.9,1060.1 831.0,1053.4 831.1,1063.6 831.1,1059.6 831.2,1059.5 831.3,1077.5 831.3,1055.0 831.4,1069.7 831.4,1065.7 831.5,1066.3 831.6,1056.8 831.6,1063.1 831.7,1064.0 831.7,1064.1 831.8,1066.3 831.9,1055.0 831.9,1069.9 832.0,1061.5 832.0,1063.7 832.1,1061.7 832.2,1066.6 832.2,1067.8 832.3,1057.4 832.4,1058.1 832.4,1068.0 832.5,1072.5 832.5,1065.4 832.6,1060.6 832.7,1068.9 832.7,1069.0 832.8,1080.6 832.8,1060.2 832.9,1067.8 833.0,1055.7 833.0,1058.3 833.1,1061.3 833.2,1060.4 833.2,1057.7 833.3,1060.3 833.3,1058.8 833.4,1053.6 833.5,1066.3 833.5,1070.7 833.6,1061.1 833.6,1064.5 833.7,1047.8 833.8,1062.2 833.8,1068.8 833.9,1061.3 834.0,1061.4 834.0,1050.3 834.1,1058.8 834.1,1053.7 834.2,1059.7 834.3,1067.8 834.3,1061.8 834.4,1065.9 834.4,1045.0 834.5,1049.6 834.6,1064.1 834.6,1077.5 834.7,1064.7 834.8,1062.1 834.8,1065.4 834.9,1058.0 834.9,1057.4 835.0,1054.9 835.1,1056.1 835.1,1064.0 835.2,1063.2 835.3,1054.6 835.3,1057.0 835.4,1073.9 835.4,1056.2 835.5,1049.8 835.6,1068.1 835.6,1060.6 835.7,1046.7 835.8,1061.5 835.8,1050.5 835.9,1064.5 835.9,1060.6 836.0,1064.7 836.1,1060.8 836.1,1057.8 836.2,1064.2 836.3,1058.3 836.3,1063.6 836.4,1051.6 836.4,1058.6 836.5,1051.6 836.6,1065.6 836.6,1059.0 836.7,1050.5 836.7,1063.8 836.8,1049.7 836.9,1059.6 836.9,1054.4 837.0,1056.5 837.1,1058.5 837.1,1054.3 837.2,1053.7 837.2,1062.7 837.3,1050.5 837.4,1062.2 837.4,1058.0 837.5,1052.7 837.6,1067.6 837.6,1056.2 837.7,1054.0 837.7,1051.4 837.8,1052.3 837.9,1065.0 837.9,1066.1 838.0,1056.5 838.1,1043.5 838.1,1051.0 838.2,1062.0 838.2,1054.2 838.3,1054.3 838.4,1057.7 838.4,1059.7 838.5,1065.0 838.6,1064.9 838.6,1052.8 838.7,1055.8 838.7,1055.6 838.8,1048.2 838.9,1047.9 838.9,1065.1 839.0,1055.5 839.1,1053.6 839.1,1058.5 839.2,1054.8 839.2,1057.3 839.3,1037.2 839.4,1054.3 839.4,1045.5 839.5,1059.6 839.5,1066.0 839.6,1042.6 839.7,1047.5 839.7,1052.6 839.8,1053.4 839.9,1044.9 839.9,1045.9 840.0,1055.1 840.0,1039.8 840.1,1038.5 840.2,1050.3 840.2,1069.5 840.3,1037.5 840.4,1040.4 840.4,1050.0 840.5,1054.9 840.5,1044.7 840.6,1038.0 840.7,1039.4 840.7,1047.1 840.8,1052.7 840.9,1057.8 840.9,1052.0 841.0,1051.7 841.0,1051.0 841.1,1034.8 841.2,1050.6 841.2,1059.6 841.3,1037.7 841.4,1039.6 841.4,1042.4 841.5,1037.6 841.5,1040.9 841.6,1034.3 841.7,1046.1 841.7,1038.8 841.8,1045.0 841.8,1040.1 841.9,1035.3 842.0,1036.4 842.0,1036.2 842.1,1032.5 842.2,1027.9 842.2,1048.7 842.3,1039.7 842.3,1030.1 842.4,1036.8 842.5,1030.2 842.5,1024.1 842.6,1029.8 842.7,1030.2 842.7,1032.8 842.8,1036.8 842.8,1034.9 842.9,1024.9 843.0,1023.4 843.0,1026.0 843.1,1032.6 843.2,1039.8 843.2,1031.4 843.3,1034.9 843.3,1027.2 843.4,1037.3 843.5,1039.2 843.5,1023.4 843.6,1032.2 843.6,1029.8 843.7,1030.5 843.8,1031.3 843.8,1033.4 843.9,1030.9 844.0,1034.3 844.0,1025.5 844.1,1031.3 844.1,1036.4 844.2,1030.6 844.3,1024.4 844.3,1027.2 844.4,1029.5 844.4,1035.4 844.5,1031.7 844.6,1027.6 844.6,1027.4 844.7,1018.7 844.8,1021.6 844.8,1023.7 844.9,1033.6 844.9,1015.9 845.0,1025.8 845.1,1038.1 845.1,1017.7 845.2,1023.9 845.2,1021.0 845.3,1024.8 845.4,1022.5 845.4,1029.9 845.5,1026.0 845.5,1019.6 845.6,1014.8 845.7,1031.3 845.7,1020.2 845.8,1019.0 845.9,1031.9 845.9,1022.4 846.0,1023.5 846.0,1028.7 846.1,1024.5 846.2,1018.3 846.2,1014.6 846.3,1024.5 846.3,1020.2 846.4,1015.0 846.5,1016.6 846.5,1027.7 846.6,1013.3 846.7,1006.8 846.7,1019.1 846.8,1004.5 846.8,1028.3 846.9,1025.6 847.0,1017.7 847.0,1007.5 847.1,1014.9 847.1,1013.5 847.2,1020.9 847.3,1018.0 847.3,1017.4 847.4,1009.6 847.5,1017.6 847.5,1019.0 847.6,1013.6 847.6,1004.3 847.7,1025.0 847.8,1020.2 847.8,1009.9 847.9,1015.6 847.9,1004.1 848.0,1021.4 848.1,1020.6 848.1,1005.4 848.2,1011.5 848.2,1010.7 848.3,1012.0 848.4,1015.6 848.4,1015.4 848.5,1007.3 848.6,1007.4 848.6,1006.5 848.7,1011.3 848.7,1021.9 848.8,1007.9 848.9,1008.6 848.9,1008.5 849.0,1015.8 849.0,1013.9 849.1,997.5 849.2,1005.7 849.2,1007.2 849.3,1015.9 849.4,1007.0 849.4,993.8 849.5,1002.9 849.5,984.5 849.6,1019.1 849.7,1010.5 849.7,1014.0 849.8,1008.2 849.8,999.7 849.9,1007.7 850.0,1011.2 850.0,990.5 850.1,1001.6 850.2,1004.6 850.2,997.8 850.3,1011.8 850.3,1002.6 850.4,999.3 850.5,992.6 850.5,998.9 850.6,992.8 850.6,997.0 850.7,997.4 850.8,1019.0 850.8,993.6 850.9,994.6 850.9,998.9 851.0,999.8 851.1,999.2 851.1,1003.5 851.2,1002.1 851.3,1017.9 851.3,1006.4 851.4,999.3 851.4,993.0 851.5,1004.7 851.6,990.1 851.6,1000.0 851.7,1000.6 851.7,998.0 851.8,990.6 851.9,1004.5 851.9,992.1 852.0,990.7 852.1,998.3 852.1,990.9 852.2,995.7 852.2,994.8 852.3,1005.9 852.4,994.5 852.4,999.0 852.5,1007.3 852.5,987.3 852.6,1000.7 852.7,995.3 852.7,984.8 852.8,995.2 852.9,997.6 852.9,981.3 853.0,993.0 853.0,988.3 853.1,983.1 853.2,987.7 853.2,995.4 853.3,995.4 853.3,993.3 853.4,982.4 853.5,987.1 853.5,995.6 853.6,995.3 853.6,991.0 853.7,989.4 853.8,990.9 853.8,995.9 853.9,980.4 854.0,987.0 854.0,991.9 854.1,986.9 854.1,995.3 854.2,992.2 854.3,996.2 854.3,990.5 854.4,993.8 854.4,990.2 854.5,1003.7 854.6,988.7 854.6,986.8 854.7,982.1 854.8,994.3 854.8,986.1 854.9,992.1 854.9,980.2 855.0,983.9 855.1,988.2 855.1,1002.4 855.2,980.9 855.2,976.9 855.3,985.9 855.4,990.5 855.4,980.2 855.5,985.9 855.6,989.6 855.6,977.0 855.7,981.2 855.7,977.8 855.8,984.7 855.9,977.3 855.9,986.6 856.0,987.3 856.0,991.2 856.1,982.1 856.2,991.5 856.2,986.3 856.3,991.1 856.3,982.4 856.4,969.6 856.5,987.2 856.5,986.0 856.6,985.0 856.7,985.1 856.7,980.1 856.8,967.4 856.8,979.1 856.9,974.8 857.0,985.9 857.0,983.6 857.1,975.6 857.1,976.7 857.2,978.8 857.3,982.1 857.3,981.6 857.4,978.1 857.5,963.5 857.5,970.4 857.6,984.1 857.6,975.1 857.7,974.2 857.8,975.6 857.8,990.7 857.9,978.1 857.9,971.0 858.0,978.7 858.1,980.4 858.1,976.4 858.2,974.2 858.3,978.5 858.3,976.9 858.4,971.7 858.4,976.0 858.5,987.0 858.6,979.8 858.6,972.7 858.7,972.1 858.7,975.7 858.8,973.7 858.9,979.2 858.9,970.0 859.0,976.2 859.0,965.4 859.1,981.8 859.2,974.7 859.2,969.2 859.3,974.4 859.4,974.4 859.4,977.0 859.5,974.7 859.5,973.5 859.6,974.4 859.7,973.5 859.7,976.0 859.8,980.0 859.8,975.6 859.9,968.5 860.0,966.3 860.0,972.8 860.1,979.5 860.2,969.3 860.2,971.2 860.3,974.3 860.3,966.4 860.4,964.5 860.5,974.2 860.5,971.1 860.6,966.1 860.6,974.2 860.7,967.0 860.8,960.4 860.8,967.4 860.9,963.7 861.0,972.1 861.0,979.8 861.1,964.1 861.1,953.1 861.2,971.8 861.3,967.4 861.3,971.0 861.4,970.5 861.4,962.7 861.5,963.3 861.6,976.5 861.6,964.9 861.7,969.3 861.8,963.2 861.8,947.1 861.9,970.0 861.9,958.7 862.0,973.9 862.1,960.9 862.1,954.1 862.2,964.5 862.2,956.9 862.3,969.4 862.4,969.8 862.4,956.7 862.5,961.5 862.5,953.8 862.6,961.2 862.7,971.1 862.7,963.1 862.8,972.3 862.9,961.4 862.9,975.6 863.0,961.8 863.0,975.5 863.1,962.8 863.2,964.5 863.2,957.8 863.3,949.2 863.3,951.3 863.4,955.0 863.5,961.9 863.5,964.3 863.6,953.7 863.7,966.9 863.7,959.4 863.8,955.0 863.8,963.8 863.9,967.6 864.0,970.0 864.0,965.5 864.1,964.4 864.1,948.6 864.2,947.8 864.3,961.5 864.3,963.0 864.4,956.9 864.5,964.5 864.5,958.3 864.6,959.4 864.6,960.2 864.7,958.5 864.8,955.1 864.8,953.8 864.9,953.7 864.9,967.4 865.0,959.7 865.1,965.6 865.1,947.7 865.2,971.5 865.2,956.0 865.3,958.8 865.4,951.4 865.4,950.3 865.5,946.7 865.6,967.8 865.6,963.4 865.7,965.4 865.7,954.9 865.8,947.9 865.9,942.9 865.9,951.2 866.0,952.8 866.0,952.1 866.1,954.4 866.2,935.7 866.2,958.9 866.3,948.1 866.4,951.2 866.4,949.3 866.5,968.6 866.5,965.8 866.6,956.4 866.7,961.7 866.7,948.2 866.8,944.7 866.8,948.8 866.9,950.0 867.0,942.9 867.0,952.3 867.1,950.5 867.2,955.9 867.2,950.2 867.3,952.2 867.3,951.3 867.4,955.0 867.5,949.3 867.5,956.1 867.6,944.4 867.6,951.0 867.7,957.3 867.8,954.7 867.8,948.0 867.9,957.6 867.9,956.1 868.0,949.5 868.1,946.5 868.1,950.8 868.2,953.8 868.3,948.8 868.3,956.6 868.4,944.3 868.4,945.7 868.5,938.2 868.6,953.1 868.6,959.8 868.7,964.5 868.7,937.5 868.8,948.3 868.9,942.7 868.9,952.6 869.0,943.5 869.1,950.3 869.1,931.3 869.2,952.8 869.2,940.4 869.3,960.4 869.4,950.3 869.4,954.6 869.5,938.9 869.5,939.8 869.6,934.9 869.7,939.1 869.7,941.4 869.8,957.0 869.9,945.6 869.9,950.0 870.0,950.6 870.0,949.0 870.1,939.0 870.2,950.3 870.2,952.5 870.3,939.2 870.3,942.6 870.4,952.4 870.5,950.0 870.5,937.3 870.6,946.1 870.6,944.6 870.7,943.7 870.8,939.8 870.8,945.9 870.9,943.1 871.0,942.0 871.0,950.5 871.1,936.4 871.1,935.2 871.2,941.8 871.3,943.5 871.3,942.6 871.4,948.5 871.5,930.9 871.5,949.4 871.6,949.2 871.6,948.4 871.7,937.3 871.8,931.8 871.8,943.8 871.9,950.1 871.9,944.6 872.0,939.0 872.1,942.8 872.1,937.6 872.2,944.7 872.3,947.4 872.3,947.3 872.4,946.7 872.4,941.2 872.5,931.3 872.6,936.6 872.6,947.0 872.7,936.6 872.8,934.3 872.8,940.4 872.9,933.6 872.9,940.6 873.0,943.4 873.1,934.1 873.1,923.7 873.2,949.2 873.2,943.9 873.3,940.1 873.4,936.0 873.4,925.2 873.5,931.3 873.6,934.5 873.6,936.3 873.7,941.6 873.7,939.9 873.8,931.0 873.9,934.8 873.9,939.0 874.0,937.7 874.1,938.8 874.1,932.3 874.2,947.8 874.2,935.5 874.3,943.4 874.4,940.0 874.4,934.1 874.5,935.2 874.5,925.1 874.6,927.4 874.7,939.9 874.7,933.2 874.8,930.3 874.9,936.6 874.9,943.6 875.0,939.7 875.0,949.8 875.1,959.6 875.2,966.4 875.2,961.9 875.3,986.5 875.4,994.1 875.4,992.5 875.5,1010.9 875.6,1011.2 875.6,1018.6 875.7,1020.4 875.7,1020.5 875.8,1008.6 875.9,1017.9 875.9,1024.0 876.0,1019.9 876.1,1022.6 876.1,1015.1 876.2,1031.9 876.3,1033.7 876.3,1024.8 876.4,1037.7 876.4,1024.6 876.5,1023.5 876.6,1019.0 876.6,1016.7 876.7,1018.7 876.8,1021.5 876.8,1017.6 876.9,1029.5 877.0,1033.5 877.0,1029.9 877.1,1028.8 877.2,1034.8 877.2,1025.4 877.3,1031.5 877.3,1013.7 877.4,1040.3 877.5,1032.3 877.5,1030.4 877.6,1036.1 877.7,1028.0 877.7,1032.3 877.8,1033.4 877.8,1038.0 877.9,1021.3 878.0,1026.1 878.0,1031.4 878.1,1028.4 878.2,1026.7 878.2,1026.8 878.3,1025.4 878.3,1029.1 878.4,1029.0 878.5,1017.8 878.5,1026.8 878.6,1018.4 878.7,1015.4 878.7,1030.8 878.8,1020.7 878.8,1027.2 878.9,1033.0 879.0,1029.6 879.0,1028.8 879.1,1030.0 879.2,1027.7 879.2,1037.4 879.3,1031.1 879.3,1030.6 879.4,1027.2 879.5,1018.8 879.5,1033.2 879.6,1031.3 879.7,1039.3 879.7,1026.6 879.8,1037.5 879.8,1042.8 879.9,1038.7 880.0,1042.4 880.0,1050.5 880.1,1038.9 880.2,1047.5 880.2,1039.0 880.3,1045.6 880.3,1038.9 880.4,1060.3 880.5,1041.3 880.5,1044.5 880.6,1050.2 880.6,1054.9 880.7,1046.8 880.8,1047.3 880.8,1032.8 880.9,1057.5 881.0,1047.5 881.0,1050.2 881.1,1048.9 881.1,1054.9 881.2,1051.5 881.3,1044.0 881.3,1048.8 881.4,1052.8 881.4,1045.9 881.5,1045.0 881.6,1040.0 881.6,1043.7 881.7,1046.5 881.8,1052.7 881.8,1032.5 881.9,1047.0 881.9,1038.1 882.0,1048.2 882.1,1052.4 882.1,1043.8 882.2,1045.0 882.2,1045.0 882.3,1048.2 882.4,1043.5 882.4,1048.1 882.5,1040.6 882.6,1048.7 882.6,1040.6 882.7,1041.2 882.7,1036.3 882.8,1029.3 882.9,1039.3 882.9,1040.9 883.0,1027.5 883.1,1037.2 883.1,1043.3 883.2,1038.7 883.2,1033.8 883.3,1032.9 883.4,1036.7 883.4,1023.5 883.5,1045.2 883.6,1047.5 883.6,1048.2 883.7,1028.9 883.7,1033.4 883.8,1030.9 883.9,1036.2 883.9,1021.4 884.0,1032.9 884.1,1045.5 884.1,1043.2 884.2,1024.4 884.2,1028.3 884.3,1044.0 884.4,1039.6 884.4,1033.8 884.5,1031.7 884.6,1036.4 884.6,1036.6 884.7,1030.4 884.7,1029.2 884.8,1025.0 884.9,1027.1 884.9,1030.9 885.0,1033.7 885.1,1026.9 885.1,1020.3 885.2,1030.2 885.2,1022.2 885.3,1025.7 885.4,1019.5 885.4,1031.8 885.5,1030.6 885.6,1034.2 885.6,1022.2 885.7,1029.8 885.8,1027.2 885.8,1031.6 885.9,1030.1 885.9,1028.4 886.0,1030.3 886.1,1035.0 886.1,1021.5 886.2,1027.5 886.3,1036.2 886.3,1033.4 886.4,1044.1 886.4,1029.1 886.5,1034.2 886.6,1037.7 886.6,1046.2 886.7,1034.4 886.8,1036.4 886.8,1029.7 886.9,1044.0 886.9,1039.3 887.0,1041.6 887.1,1042.7 887.1,1045.7 887.2,1056.4 887.2,1054.1 887.3,1045.1 887.4,1050.2 887.4,1062.4 887.5,1060.6 887.6,1069.1 887.6,1070.2 887.7,1069.6 887.7,1069.3 887.8,1075.4 887.9,1080.0 887.9,1078.4 888.0,1076.7 888.1,1085.8 888.1,1090.4 888.2,1087.1 888.2,1083.8 888.3,1073.0 888.4,1086.2 888.4,1091.0 888.5,1091.9 888.6,1099.3 888.6,1101.9 888.7,1090.5 888.7,1082.1 888.8,1094.1 888.9,1092.9 888.9,1114.1 889.0,1095.3 889.1,1112.3 889.1,1102.7 889.2,1106.1 889.2,1110.8 889.3,1113.2 889.4,1105.9 889.4,1110.3 889.5,1105.6 889.5,1100.7 889.6,1095.3 889.7,1108.3 889.7,1113.8 889.8,1107.5 889.9,1114.0 889.9,1114.1 890.0,1122.0 890.0,1122.3 890.1,1115.8 890.2,1110.6 890.2,1116.9 890.3,1119.5 890.3,1106.5 890.4,1124.1 890.5,1125.1 890.5,1118.2 890.6,1129.9 890.7,1130.3 890.7,1132.0 890.8,1126.0 890.8,1130.4 890.9,1120.3 891.0,1135.0 891.0,1128.0 891.1,1138.7 891.1,1127.5 891.2,1112.7 891.3,1131.6 891.3,1143.2 891.4,1131.4 891.5,1125.6 891.5,1115.5 891.6,1145.5 891.6,1132.6 891.7,1135.0 891.8,1133.8 891.8,1125.1 891.9,1127.2 891.9,1132.6 892.0,1145.7 892.1,1139.1 892.1,1138.5 892.2,1145.8 892.2,1131.1 892.3,1123.0 892.4,1134.1 892.4,1130.8 892.5,1138.0 892.6,1139.6 892.6,1126.9 892.7,1135.7 892.7,1128.9 892.8,1133.7 892.9,1131.7 892.9,1133.0 893.0,1132.2 893.0,1140.9 893.1,1133.5 893.2,1125.0 893.2,1131.1 893.3,1140.4 893.4,1137.3 893.4,1141.4 893.5,1132.6 893.5,1136.3 893.6,1145.3 893.7,1142.7 893.7,1134.6 893.8,1134.0 893.8,1137.9 893.9,1132.1 894.0,1142.4 894.0,1128.4 894.1,1142.9 894.2,1128.9 894.2,1143.8 894.3,1147.1 894.3,1149.7 894.4,1144.6 894.5,1141.3 894.5,1130.6 894.6,1134.7 894.6,1132.1 894.7,1142.8 894.8,1126.4 894.8,1130.3 894.9,1139.5 894.9,1138.9 895.0,1131.3 895.1,1141.6 895.1,1138.2 895.2,1126.3 895.3,1135.8 895.3,1140.3 895.4,1129.4 895.4,1150.1 895.5,1131.9 895.6,1130.8 895.6,1125.2 895.7,1136.3 895.7,1129.2 895.8,1130.6 895.9,1133.8 895.9,1136.9 896.0,1130.6 896.1,1136.8 896.1,1137.0 896.2,1137.3 896.2,1127.6 896.3,1142.4 896.4,1136.2 896.4,1132.3 896.5,1130.3 896.5,1132.1 896.6,1152.3 896.7,1132.6 896.7,1131.4 896.8,1118.1 896.9,1147.4 896.9,1145.4 897.0,1123.7 897.0,1143.0 897.1,1139.3 897.2,1130.6 897.2,1131.2 897.3,1127.7 897.3,1136.7 897.4,1122.7 897.5,1124.1 897.5,1126.3 897.6,1130.0 897.6,1130.2 897.7,1139.3 897.8,1137.4 897.8,1129.7 897.9,1132.5 898.0,1131.0 898.0,1133.1 898.1,1121.2 898.1,1126.6 898.2,1116.9 898.3,1119.8 898.3,1131.1 898.4,1124.1 898.4,1122.1 898.5,1131.6 898.6,1129.3 898.6,1126.5 898.7,1124.6 898.8,1129.5 898.8,1121.1 898.9,1111.2 898.9,1112.7 899.0,1121.7 899.1,1139.1 899.1,1123.3 899.2,1114.2 899.2,1123.9 899.3,1127.1 899.4,1131.2 899.4,1129.3 899.5,1130.7 899.6,1129.2 899.6,1125.7 899.7,1121.5 899.7,1129.9 899.8,1121.0 899.9,1131.5 899.9,1126.5 900.0,1111.8 900.0,1123.2 900.1,1138.1 900.2,1121.1 900.2,1128.7 900.3,1134.3 900.3,1131.0 900.4,1129.2 900.5,1129.6 900.5,1134.3 900.6,1142.0 900.7,1141.7 900.7,1132.8 900.8,1130.2 900.8,1143.3 900.9,1145.4 901.0,1142.5 901.0,1148.3 901.1,1137.0 901.1,1138.6 901.2,1141.1 901.3,1146.3 901.3,1142.2 901.4,1148.9 901.5,1138.1 901.5,1148.6 901.6,1150.6 901.6,1133.1 901.7,1142.0 901.8,1144.6 901.8,1135.9 901.9,1143.1 902.0,1142.6 902.0,1131.3 902.1,1133.9 902.2,1138.1 902.2,1138.1 902.3,1134.5 902.3,1141.1 902.4,1142.4 902.5,1142.3 902.5,1135.8 902.6,1141.7 902.7,1130.4 902.7,1132.4 902.8,1130.2 902.8,1131.4 902.9,1129.9 903.0,1141.6 903.0,1135.1 903.1,1139.4 903.2,1125.1 903.2,1134.1 903.3,1127.3 903.3,1128.9 903.4,1135.5 903.5,1142.1 903.5,1129.6 903.6,1144.2 903.7,1133.4 903.7,1130.1 903.8,1136.1 903.8,1139.9 903.9,1133.0 904.0,1141.0 904.0,1130.5 904.1,1130.9 904.2,1128.0 904.2,1132.2 904.3,1125.9 904.3,1134.1 904.4,1127.4 904.5,1124.1 904.5,1134.6 904.6,1132.8 904.7,1129.1 904.7,1136.9 904.8,1137.4 904.8,1132.9 904.9,1131.9 905.0,1139.5 905.0,1137.5 905.1,1139.0 905.1,1134.2 905.2,1134.1 905.3,1125.8 905.3,1131.0 905.4,1120.1 905.5,1130.4 905.5,1137.5 905.6,1134.9 905.6,1130.1 905.7,1128.0 905.8,1129.9 905.8,1134.2 905.9,1131.4 906.0,1124.2 906.0,1143.9 906.1,1137.3 906.1,1133.8 906.2,1123.8 906.3,1111.3 906.3,1140.1 906.4,1124.8 906.4,1123.0 906.5,1127.3 906.6,1129.3 906.6,1131.5 906.7,1122.6 906.8,1127.4 906.8,1131.6 906.9,1138.8 906.9,1124.4 907.0,1119.9 907.1,1120.3 907.1,1134.5 907.2,1131.5 907.3,1132.2 907.3,1126.1 907.4,1121.9 907.4,1131.2 907.5,1128.4 907.6,1127.7 907.6,1130.5 907.7,1129.0 907.8,1128.9 907.8,1130.7 907.9,1137.2 907.9,1120.8 908.0,1129.5 908.1,1122.5 908.1,1126.8 908.2,1129.0 908.2,1122.0 908.3,1126.5 908.4,1123.6 908.4,1129.9 908.5,1118.4 908.6,1124.5 908.6,1130.9 908.7,1116.3 908.7,1128.3 908.8,1124.7 908.9,1135.4 908.9,1130.1 909.0,1115.7 909.1,1128.5 909.1,1123.0 909.2,1127.9 909.2,1131.5 909.3,1114.1 909.4,1120.2 909.4,1121.4 909.5,1123.3 909.5,1116.8 909.6,1124.7 909.7,1117.1 909.7,1124.9 909.8,1130.7 909.9,1119.7 909.9,1123.4 910.0,1117.8 910.0,1124.8 910.1,1126.2 910.2,1116.7 910.2,1120.7 910.3,1113.6 910.4,1127.2 910.4,1116.4 910.5,1115.8 910.5,1124.1 910.6,1123.2 910.7,1113.9 910.7,1135.5 910.8,1126.6 910.8,1129.6 910.9,1124.5 911.0,1118.1 911.0,1126.1 911.1,1131.5 911.2,1120.8 911.2,1123.8 911.3,1107.4 911.3,1120.5 911.4,1121.8 911.5,1124.1 911.5,1118.7 911.6,1117.5 911.6,1118.5 911.7,1127.4 911.8,1116.2 911.8,1120.1 911.9,1122.9 911.9,1116.0 912.0,1113.7 912.1,1127.8 912.1,1120.5 912.2,1126.4 912.3,1120.2 912.3,1113.4 912.4,1112.2 912.4,1113.1 912.5,1125.1 912.6,1123.7 912.6,1116.9 912.7,1121.3 912.7,1121.0 912.8,1121.0 912.9,1119.1 912.9,1110.1 913.0,1130.9 913.1,1119.6 913.1,1117.7 913.2,1113.0 913.2,1122.1 913.3,1115.0 913.4,1120.8 913.4,1123.2 913.5,1126.8 913.5,1112.1 913.6,1110.4 913.7,1114.1 913.7,1124.2 913.8,1117.8 913.9,1121.3 913.9,1116.5 914.0,1111.3 914.0,1110.8 914.1,1119.7 914.2,1113.6 914.2,1115.1 914.3,1109.5 914.3,1120.1 914.4,1125.2 914.5,1111.0 914.5,1116.3 914.6,1120.4 914.6,1115.3 914.7,1117.3 914.8,1123.1 914.8,1113.1 914.9,1122.7 915.0,1116.2 915.0,1104.8 915.1,1111.6 915.1,1114.7 915.2,1118.5 915.3,1114.4 915.3,1119.8 915.4,1120.3 915.4,1104.1 915.5,1121.0 915.6,1112.5 915.6,1115.2 915.7,1120.9 915.8,1124.2 915.8,1115.4 915.9,1110.6 915.9,1102.0 916.0,1117.1 916.1,1122.0 916.1,1108.7 916.2,1107.1 916.2,1117.3 916.3,1127.8 916.4,1108.7 916.4,1123.3 916.5,1119.9 916.6,1113.7 916.6,1116.4 916.7,1113.5 916.7,1113.8 916.8,1117.8 916.9,1099.3 916.9,1116.2 917.0,1120.5 917.0,1120.1 917.1,1118.7 917.2,1120.3 917.2,1114.3 917.3,1105.8 917.3,1119.1 917.4,1106.9 917.5,1111.5 917.5,1109.0 917.6,1116.7 917.7,1113.0 917.7,1112.9 917.8,1119.8 917.8,1115.5 917.9,1122.7 918.0,1116.7 918.0,1121.5 918.1,1110.6 918.1,1120.2 918.2,1118.2 918.3,1117.8 918.3,1114.1 918.4,1114.8 918.5,1104.7 918.5,1110.9 918.6,1114.5 918.6,1107.2 918.7,1111.2 918.8,1101.8 918.8,1117.7 918.9,1111.7 918.9,1105.0 919.0,1103.3 919.1,1108.2 919.1,1099.9 919.2,1106.9 919.3,1116.0 919.3,1108.7 919.4,1114.3 919.4,1110.1 919.5,1115.1 919.6,1109.3 919.6,1105.8 919.7,1111.0 919.7,1107.3 919.8,1121.0 919.9,1115.1 919.9,1113.0 920.0,1116.5 920.0,1110.8 920.1,1123.9 920.2,1109.0 920.2,1109.4 920.3,1104.8 920.4,1118.1 920.4,1110.4 920.5,1099.6 920.5,1105.9 920.6,1108.2 920.7,1114.0 920.7,1107.0 920.8,1116.3 920.8,1108.0 920.9,1115.2 921.0,1094.5 921.0,1104.9 921.1,1112.2 921.2,1109.6 921.2,1110.0 921.3,1105.6 921.3,1103.1 921.4,1124.3 921.5,1111.2 921.5,1107.6 921.6,1097.6 921.6,1098.7 921.7,1113.6 921.8,1109.9 921.8,1113.0 921.9,1103.6 922.0,1115.4 922.0,1115.5 922.1,1109.1 922.1,1116.5 922.2,1105.1 922.3,1117.6 922.3,1112.0 922.4,1111.5 922.4,1111.7 922.5,1105.3 922.6,1101.1 922.6,1118.2 922.7,1112.2 922.7,1118.1 922.8,1108.7 922.9,1108.5 922.9,1103.5 923.0,1106.2 923.1,1113.7 923.1,1091.2 923.2,1102.2 923.2,1104.2 923.3,1110.3 923.4,1105.3 923.4,1104.6 923.5,1119.0 923.5,1115.5 923.6,1107.7 923.7,1102.5 923.7,1103.1 923.8,1108.7 923.9,1120.9 923.9,1103.7 924.0,1118.1 924.0,1103.6 924.1,1095.5 924.2,1104.4 924.2,1105.7 924.3,1117.1 924.3,1110.6 924.4,1113.2 924.5,1114.2 924.5,1109.1 924.6,1113.6 924.7,1102.9 924.7,1106.3 924.8,1115.9 924.8,1112.0 924.9,1113.7 925.0,1103.1 925.0,1102.3 925.1,1113.9 925.1,1113.2 925.2,1106.3 925.3,1102.5 925.3,1103.5 925.4,1099.9 925.4,1108.0 925.5,1115.4 925.6,1104.7 925.6,1105.8 925.7,1100.2 925.8,1106.3 925.8,1099.2 925.9,1117.2 925.9,1107.0 926.0,1106.0 926.1,1112.0 926.1,1098.5 926.2,1106.7 926.2,1108.9 926.3,1103.8 926.4,1100.4 926.4,1105.4 926.5,1109.5 926.6,1108.9 926.6,1101.1 926.7,1100.8 926.7,1102.8 926.8,1102.6 926.9,1115.1 926.9,1105.4 927.0,1110.3 927.0,1097.6 927.1,1106.7 927.2,1102.3 927.2,1102.8 927.3,1113.4 927.4,1110.6 927.4,1113.3 927.5,1107.2 927.5,1105.1 927.6,1100.5 927.7,1098.8 927.7,1105.6 927.8,1106.0 927.8,1106.1 927.9,1117.8 928.0,1114.4 928.0,1111.9 928.1,1114.4 928.1,1103.7 928.2,1097.0 928.3,1103.0 928.3,1104.3 928.4,1114.7 928.5,1098.6 928.5,1106.9 928.6,1094.5 928.6,1100.9 928.7,1089.6 928.8,1105.0 928.8,1102.8 928.9,1104.6 928.9,1109.1 929.0,1115.8 929.1,1106.1 929.1,1095.5 929.2,1108.2 929.3,1106.5 929.3,1100.9 929.4,1104.4 929.4,1098.4 929.5,1094.3 929.6,1102.3 929.6,1109.8 929.7,1100.2 929.7,1105.7 929.8,1102.7 929.9,1101.0 929.9,1100.0 930.0,1106.9 930.1,1107.8 930.1,1106.8 930.2,1107.0 930.2,1103.6 930.3,1094.5 930.4,1094.8 930.4,1107.4 930.5,1100.2 930.5,1103.9 930.6,1102.5 930.7,1102.1 930.7,1107.3 930.8,1104.0 930.8,1097.6 930.9,1092.4 931.0,1099.0 931.0,1107.0 931.1,1110.9 931.2,1113.2 931.2,1099.4 931.3,1107.5 931.3,1097.1 931.4,1099.2 931.5,1105.9 931.5,1106.6 931.6,1100.0 931.6,1086.4 931.7,1095.6 931.8,1094.9 931.8,1109.4 931.9,1087.8 932.0,1099.7 932.0,1091.6 932.1,1091.1 932.1,1101.3 932.2,1099.7 932.3,1100.3 932.3,1101.7 932.4,1098.9 932.4,1103.1 932.5,1099.3 932.6,1101.7 932.6,1093.6 932.7,1093.5 932.8,1107.3 932.8,1106.0 932.9,1094.4 932.9,1094.3 933.0,1093.2 933.1,1108.5 933.1,1094.1 933.2,1107.0 933.2,1096.6 933.3,1105.9 933.4,1107.4 933.4,1098.0 933.5,1097.6 933.5,1102.7 933.6,1100.8 933.7,1087.9 933.7,1098.7 933.8,1095.9 933.9,1093.9 933.9,1114.8 934.0,1097.6 934.0,1097.5 934.1,1106.5 934.2,1099.0 934.2,1103.3 934.3,1105.2 934.3,1101.2 934.4,1098.1 934.5,1102.6 934.5,1093.0 934.6,1091.2 934.7,1098.7 934.7,1103.3 934.8,1105.0 934.8,1104.5 934.9,1104.0 935.0,1094.6 935.0,1095.1 935.1,1095.8 935.1,1091.6 935.2,1101.7 935.3,1085.6 935.3,1095.7 935.4,1096.3 935.5,1097.5 935.5,1099.5 935.6,1092.8 935.6,1095.8 935.7,1102.6 935.8,1092.6 935.8,1105.5 935.9,1102.3 935.9,1092.8 936.0,1099.0 936.1,1102.4 936.1,1095.0 936.2,1093.7 936.2,1089.6 936.3,1094.1 936.4,1099.9 936.4,1095.1 936.5,1094.3 936.6,1116.8 936.6,1081.7 936.7,1098.1 936.7,1098.4 936.8,1092.0 936.9,1096.8 936.9,1103.6 937.0,1093.3 937.0,1083.9 937.1,1097.9 937.2,1104.3 937.2,1083.2 937.3,1104.8 937.4,1101.7 937.4,1098.6 937.5,1087.6 937.5,1098.4 937.6,1114.1 937.7,1090.7 937.7,1101.9 937.8,1086.8 937.8,1090.5 937.9,1085.2 938.0,1085.2 938.0,1083.4 938.1,1098.4 938.2,1088.4 938.2,1089.7 938.3,1101.5 938.3,1102.4 938.4,1092.5 938.5,1096.8 938.5,1094.2 938.6,1093.8 938.6,1087.4 938.7,1094.9 938.8,1104.0 938.8,1100.9 938.9,1091.9 938.9,1089.0 939.0,1097.0 939.1,1098.2 939.1,1094.0 939.2,1099.7 939.3,1100.1 939.3,1097.2 939.4,1105.1 939.4,1082.2 939.5,1091.1 939.6,1097.6 939.6,1100.8 939.7,1095.7 939.7,1092.6 939.8,1089.4 939.9,1099.9 939.9,1089.0 940.0,1088.8 940.1,1099.1 940.1,1099.3 940.2,1092.4 940.2,1087.4 940.3,1091.1 940.4,1091.3 940.4,1100.8 940.5,1081.4 940.5,1085.8 940.6,1083.6 940.7,1100.1 940.7,1091.7 940.8,1097.2 940.9,1092.3 940.9,1085.9 941.0,1093.4 941.0,1090.6 941.1,1088.4 941.2,1082.9 941.2,1090.1 941.3,1093.1 941.3,1089.2 941.4,1087.2 941.5,1088.0 941.5,1097.1 941.6,1093.2 941.6,1082.9 941.7,1091.7 941.8,1098.5 941.8,1099.6 941.9,1096.5 942.0,1098.7 942.0,1093.1 942.1,1101.1 942.1,1084.9 942.2,1083.3 942.3,1093.4 942.3,1099.5 942.4,1098.2 942.4,1085.9 942.5,1086.2 942.6,1094.0 942.6,1083.0 942.7,1088.4 942.8,1097.5 942.8,1099.2 942.9,1093.5 942.9,1095.1 943.0,1082.5 943.1,1088.6 943.1,1095.9 943.2,1089.1 943.2,1090.2 943.3,1096.2 943.4,1095.4 943.4,1089.9 943.5,1091.5 943.6,1097.2 943.6,1089.7 943.7,1092.2 943.7,1102.8 943.8,1085.3 943.9,1085.7 943.9,1089.2 944.0,1089.8 944.0,1090.0 944.1,1087.5 944.2,1093.8 944.2,1094.3 944.3,1085.3 944.3,1085.8 944.4,1090.6 944.5,1083.4 944.5,1095.6 944.6,1087.1 944.7,1088.1 944.7,1086.4 944.8,1076.5 944.8,1083.0 944.9,1082.0 945.0,1073.9 945.0,1090.4 945.1,1085.4 945.1,1089.2 945.2,1088.0 945.3,1086.7 945.3,1078.8 945.4,1088.4 945.5,1084.8 945.5,1089.2 945.6,1090.3 945.6,1082.7 945.7,1087.3 945.8,1083.9 945.8,1082.0 945.9,1082.0 945.9,1097.6 946.0,1084.5 946.1,1090.0 946.1,1091.9 946.2,1081.4 946.3,1099.5 946.3,1088.1 946.4,1084.5 946.4,1092.6 946.5,1072.9 946.6,1069.7 946.6,1074.3 946.7,1085.9 946.7,1085.1 946.8,1095.1 946.9,1075.8 946.9,1088.8 947.0,1091.5 947.0,1088.6 947.1,1086.3 947.2,1086.0 947.2,1086.6 947.3,1086.2 947.4,1082.3 947.4,1086.1 947.5,1085.7 947.5,1073.9 947.6,1081.3 947.7,1080.1 947.7,1097.3 947.8,1082.2 947.9,1080.3 947.9,1083.0 948.0,1078.8 948.0,1081.9 948.1,1079.6 948.2,1090.2 948.2,1078.0 948.3,1087.6 948.4,1091.5 948.4,1076.2 948.5,1088.7 948.5,1072.8 948.6,1083.2 948.7,1081.8 948.7,1073.5 948.8,1078.9 948.9,1088.7 948.9,1065.0 949.0,1073.1 949.0,1077.4 949.1,1079.3 949.2,1084.3 949.2,1081.4 949.3,1084.1 949.3,1078.1 949.4,1076.1 949.5,1085.8 949.5,1082.7 949.6,1082.9 949.7,1079.5 949.7,1074.5 949.8,1075.1 949.8,1073.1 949.9,1081.2 950.0,1079.7 950.0,1078.8 950.1,1076.3 950.2,1074.0 950.2,1071.4 950.3,1076.2 950.3,1078.9 950.4,1074.0 950.5,1090.3 950.5,1069.2 950.6,1075.4 950.7,1074.4 950.7,1081.6 950.8,1070.0 950.8,1075.2 950.9,1072.7 951.0,1076.7 951.0,1079.5 951.1,1060.7 951.2,1083.0 951.2,1081.0 951.3,1079.5 951.3,1073.0 951.4,1075.1 951.5,1080.8 951.5,1078.4 951.6,1070.4 951.7,1079.7 951.7,1072.2 951.8,1082.4 951.8,1069.5 951.9,1075.2 952.0,1058.9 952.0,1072.2 952.1,1066.7 952.1,1067.9 952.2,1064.4 952.3,1066.6 952.3,1066.4 952.4,1065.1 952.5,1074.8 952.5,1063.6 952.6,1070.9 952.6,1066.9 952.7,1056.5 952.8,1069.2 952.8,1075.5 952.9,1063.2 952.9,1066.8 953.0,1067.7 953.1,1076.9 953.1,1070.3 953.2,1064.0 953.2,1070.2 953.3,1056.5 953.4,1079.0 953.4,1073.2 953.5,1062.0 953.6,1059.8 953.6,1062.6 953.7,1063.9 953.7,1077.8 953.8,1071.0 953.9,1070.0 953.9,1062.5 954.0,1061.5 954.0,1067.4 954.1,1067.3 954.2,1071.4 954.2,1055.3 954.3,1076.4 954.4,1073.5 954.4,1060.0 954.5,1060.5 954.5,1064.6 954.6,1056.4 954.7,1056.4 954.7,1066.3 954.8,1054.7 954.8,1067.0 954.9,1061.2 955.0,1053.1 955.0,1068.0 955.1,1071.6 955.2,1060.9 955.2,1065.1 955.3,1062.0 955.3,1074.8 955.4,1055.1 955.5,1062.7 955.5,1069.2 955.6,1062.9 955.6,1063.6 955.7,1059.9 955.8,1073.8 955.8,1064.1 955.9,1061.6 955.9,1062.8 956.0,1066.4 956.1,1064.1 956.1,1052.7 956.2,1067.9 956.3,1064.5 956.3,1057.8 956.4,1054.4 956.4,1059.4 956.5,1055.3 956.6,1051.2 956.6,1067.2 956.7,1060.4 956.7,1057.1 956.8,1058.0 956.9,1058.2 956.9,1056.0 957.0,1055.2 957.1,1055.5 957.1,1065.8 957.2,1060.7 957.2,1064.8 957.3,1054.9 957.4,1052.6 957.4,1056.1 957.5,1058.7 957.5,1058.9 957.6,1064.5 957.7,1069.1 957.7,1041.9 957.8,1059.8 957.9,1059.3 957.9,1052.3 958.0,1055.0 958.0,1055.7 958.1,1060.1 958.2,1062.4 958.2,1047.0 958.3,1053.6 958.3,1051.3 958.4,1062.9 958.5,1060.1 958.5,1052.4 958.6,1051.0 958.6,1053.9 958.7,1043.5 958.8,1055.9 958.8,1049.0 958.9,1044.4 959.0,1050.7 959.0,1053.9 959.1,1056.9 959.1,1051.4 959.2,1049.8 959.3,1063.5 959.3,1052.5 959.4,1061.6 959.4,1061.9 959.5,1063.8 959.6,1050.0 959.6,1061.3 959.7,1052.1 959.8,1052.6 959.8,1059.1 959.9,1049.4 959.9,1052.2 960.0,1055.3 960.1,1059.0 960.1,1049.7 960.2,1059.2 960.2,1058.7 960.3,1066.3 960.4,1048.2 960.4,1046.2 960.5,1040.0 960.6,1059.8 960.6,1055.6 960.7,1041.0 960.7,1056.6 960.8,1046.0 960.9,1054.6 960.9,1047.9 961.0,1043.7 961.0,1057.0 961.1,1048.8 961.2,1054.7 961.2,1062.2 961.3,1045.9 961.3,1048.0 961.4,1048.4 961.5,1042.8 961.5,1049.1 961.6,1047.4 961.7,1046.5 961.7,1044.2 961.8,1052.6 961.8,1049.2 961.9,1047.1 962.0,1048.0 962.0,1048.8 962.1,1052.6 962.1,1045.8 962.2,1050.9 962.3,1043.1 962.3,1048.2 962.4,1039.0 962.5,1035.8 962.5,1050.3 962.6,1055.2 962.6,1058.3 962.7,1040.8 962.8,1036.3 962.8,1051.6 962.9,1040.6 962.9,1058.2 963.0,1038.5 963.1,1035.5 963.1,1039.7 963.2,1037.2 963.3,1045.1 963.3,1038.3 963.4,1044.5 963.4,1040.9 963.5,1055.8 963.6,1045.8 963.6,1045.9 963.7,1040.4 963.8,1041.6 963.8,1047.4 963.9,1041.4 963.9,1041.7 964.0,1047.4 964.1,1057.0 964.1,1045.3 964.2,1049.5 964.2,1044.7 964.3,1051.6 964.4,1033.3 964.4,1042.1 964.5,1026.9 964.6,1020.7 964.6,1043.6 964.7,1046.7 964.7,1030.9 964.8,1048.5 964.9,1045.6 964.9,1036.7 965.0,1032.3 965.1,1028.1 965.1,1042.6 965.2,1048.4 965.2,1037.8 965.3,1030.0 965.4,1028.3 965.4,1043.4 965.5,1041.8 965.5,1038.5 965.6,1040.2 965.7,1040.4 965.7,1044.4 965.8,1035.9 965.9,1029.4 965.9,1042.4 966.0,1032.8 966.0,1032.8 966.1,1053.6 966.2,1067.5 966.2,1078.5 966.3,1090.7 966.4,1103.6 966.4,1123.6 966.5,1117.1 966.6,1136.3 966.6,1129.7 966.7,1126.9 966.7,1135.0 966.8,1138.5 966.9,1130.1 966.9,1136.0 967.0,1140.7 967.1,1123.3 967.1,1135.0 967.2,1134.1 967.2,1122.6 967.3,1123.8 967.4,1136.1 967.4,1115.9 967.5,1127.6 967.5,1138.3 967.6,1131.7 967.7,1130.7 967.7,1143.3 967.8,1135.3 967.9,1126.6 967.9,1129.1 968.0,1138.8 968.0,1127.8 968.1,1140.0 968.2,1138.1 968.2,1135.7 968.3,1138.9 968.3,1135.2 968.4,1142.4 968.5,1142.8 968.5,1139.6 968.6,1119.1 968.7,1145.6 968.7,1123.7 968.8,1133.8 968.8,1144.6 968.9,1136.9 969.0,1134.2 969.0,1127.4 969.1,1141.2 969.1,1131.5 969.2,1130.0 969.3,1138.1 969.3,1137.2 969.4,1134.5 969.4,1137.9 969.5,1130.7 969.6,1138.6 969.6,1132.8 969.7,1137.1 969.8,1129.4 969.8,1143.2 969.9,1133.8 969.9,1142.1 970.0,1143.4 970.1,1143.0 970.1,1134.6 970.2,1146.0 970.2,1136.9 970.3,1148.7 970.4,1119.9 970.4,1131.3 970.5,1148.8 970.6,1133.1 970.6,1132.3 970.7,1146.6 970.7,1145.9 970.8,1148.6 970.9,1132.5 970.9,1136.9 971.0,1136.9 971.0,1121.3 971.1,1139.2 971.2,1145.9 971.2,1127.9 971.3,1133.9 971.4,1127.1 971.4,1141.3 971.5,1142.3 971.5,1134.7 971.6,1139.9 971.7,1133.1 971.7,1128.9 971.8,1137.3 971.8,1138.7 971.9,1139.4 972.0,1141.7 972.0,1145.5 972.1,1138.7 972.2,1138.5 972.2,1145.1 972.3,1137.1 972.3,1144.3 972.4,1132.4 972.5,1141.0 972.5,1136.0 972.6,1134.0 972.7,1129.5 972.7,1143.7 972.8,1141.5 972.8,1137.2 972.9,1144.6 973.0,1151.0 973.0,1136.5 973.1,1136.1 973.1,1137.5 973.2,1150.4 973.3,1132.4 973.3,1144.2 973.4,1138.3 973.5,1135.0 973.5,1147.8 973.6,1168.7 973.6,1144.6 973.7,1139.7 973.8,1138.0 973.8,1153.4 973.9,1138.5 974.0,1138.4 974.0,1137.2 974.1,1146.8 974.1,1147.9 974.2,1145.9 974.3,1138.6 974.3,1146.3 974.4,1151.5 974.5,1147.6 974.5,1139.4 974.6,1149.0 974.6,1154.2 974.7,1157.2 974.8,1143.9 974.8,1155.0 974.9,1141.9 975.0,1157.1 975.0,1152.6 975.1,1141.5 975.1,1156.9 975.2,1151.7 975.3,1152.2 975.3,1155.6 975.4,1142.7 975.5,1162.0 975.5,1144.1 975.6,1139.6 975.6,1146.9 975.7,1144.7 975.8,1150.3 975.8,1152.1 975.9,1145.5 976.0,1151.0 976.0,1144.7 976.1,1157.4 976.1,1166.0 976.2,1153.8 976.3,1160.2 976.3,1135.6 976.4,1150.4 976.4,1158.0 976.5,1162.4 976.6,1147.8 976.6,1144.9 976.7,1148.1 976.8,1156.2 976.8,1140.9 976.9,1140.2 976.9,1154.1 977.0,1141.5 977.1,1138.0 977.1,1137.0 977.2,1150.9 977.2,1152.9 977.3,1137.5 977.4,1142.5 977.4,1142.7 977.5,1151.0 977.5,1157.5 977.6,1153.0 977.7,1140.9 977.7,1154.6 977.8,1153.9 977.9,1149.9 977.9,1144.3 978.0,1132.8 978.0,1153.2 978.1,1145.5 978.2,1145.2 978.2,1160.8 978.3,1152.5 978.3,1166.2 978.4,1159.0 978.5,1152.1 978.5,1142.2 978.6,1142.4 978.7,1137.5 978.7,1147.6 978.8,1142.9 978.8,1144.3 978.9,1150.0 979.0,1154.8 979.0,1135.8 979.1,1148.0 979.1,1142.8 979.2,1136.0 979.3,1157.5 979.3,1154.0 979.4,1139.1 979.5,1156.4 979.5,1155.2 979.6,1149.0 979.6,1150.1 979.7,1148.2 979.8,1150.4 979.8,1145.0 979.9,1148.7 979.9,1142.9 980.0,1138.2 980.1,1142.8 980.1,1151.4 980.2,1148.4 980.2,1142.6 980.3,1147.1 980.4,1150.4 980.4,1145.2 980.5,1143.2 980.6,1144.3 980.6,1140.0 980.7,1140.3 980.7,1140.7 980.8,1139.3 980.9,1150.6 980.9,1135.5 981.0,1147.5 981.0,1152.0 981.1,1142.3 981.2,1144.1 981.2,1147.0 981.3,1142.8 981.4,1132.1 981.4,1146.5 981.5,1148.7 981.5,1153.8 981.6,1136.1 981.7,1139.1 981.7,1138.5 981.8,1147.3 981.8,1151.2 981.9,1149.2 982.0,1124.7 982.0,1141.7 982.1,1134.9 982.2,1145.1 982.2,1147.1 982.3,1136.7 982.3,1138.8 982.4,1134.2 982.5,1134.8 982.5,1127.3 982.6,1136.8 982.6,1144.2 982.7,1145.3 982.8,1138.5 982.8,1133.9 982.9,1130.7 982.9,1140.7 983.0,1139.7 983.1,1129.9 983.1,1151.5 983.2,1141.2 983.3,1142.6 983.3,1138.1 983.4,1124.8 983.4,1130.3 983.5,1133.0 983.6,1147.1 983.6,1133.8 983.7,1122.5 983.7,1147.7 983.8,1136.2 983.9,1128.5 983.9,1134.9 984.0,1133.7 984.1,1148.9 984.1,1134.3 984.2,1143.6 984.2,1136.3 984.3,1122.4 984.4,1122.8 984.4,1145.1 984.5,1151.5 984.5,1138.6 984.6,1121.3 984.7,1134.9 984.7,1134.3 984.8,1131.6 984.9,1145.1 984.9,1131.4 985.0,1136.2 985.0,1131.1 985.1,1130.8 985.2,1143.4 985.2,1146.7 985.3,1131.1 985.3,1144.4 985.4,1148.3 985.5,1138.6 985.5,1132.9 985.6,1126.0 985.6,1130.9 985.7,1136.2 985.8,1133.2 985.8,1144.5 985.9,1136.9 986.0,1130.0 986.0,1138.0 986.1,1144.0 986.1,1122.2 986.2,1136.6 986.3,1138.3 986.3,1137.9 986.4,1131.5 986.4,1137.2 986.5,1144.8 986.6,1136.6 986.6,1134.1 986.7,1139.7 986.8,1134.7 986.8,1139.4 986.9,1134.9 986.9,1121.4 987.0,1128.1 987.1,1144.0 987.1,1143.8 987.2,1136.0 987.2,1136.1 987.3,1129.6 987.4,1135.2 987.4,1129.2 987.5,1133.9 987.6,1129.0 987.6,1131.4 987.7,1138.2 987.7,1142.9 987.8,1155.2 987.9,1132.9 987.9,1152.4 988.0,1132.4 988.0,1138.1 988.1,1142.2 988.2,1132.6 988.2,1139.4 988.3,1131.0 988.3,1121.1 988.4,1140.6 988.5,1129.7 988.5,1144.1 988.6,1149.5 988.7,1152.6 988.7,1141.8 988.8,1138.8 988.8,1145.5 988.9,1140.0 989.0,1139.8 989.0,1132.6 989.1,1139.7 989.1,1126.6 989.2,1142.1 989.3,1138.7 989.3,1133.2 989.4,1134.0 989.5,1146.7 989.5,1134.1 989.6,1140.4 989.6,1134.5 989.7,1132.8 989.8,1148.5 989.8,1137.6 989.9,1139.1 989.9,1134.5 990.0,1144.5 990.1,1136.3 990.1,1127.9 990.2,1156.5 990.3,1142.8 990.3,1137.8 990.4,1137.0 990.4,1136.5 990.5,1133.1 990.6,1136.9 990.6,1137.4 990.7,1130.7 990.7,1131.2 990.8,1150.5 990.9,1132.3 990.9,1146.4 991.0,1121.4 991.0,1140.4 991.1,1139.7 991.2,1132.0 991.2,1117.8 991.3,1141.6 991.4,1142.2 991.4,1134.9 991.5,1138.5 991.5,1142.1 991.6,1134.9 991.7,1140.5 991.7,1137.6 991.8,1149.4 991.8,1154.0 991.9,1137.3 992.0,1140.0 992.0,1129.5 992.1,1139.3 992.2,1128.8 992.2,1148.3 992.3,1148.1 992.3,1138.9 992.4,1148.7 992.5,1148.5 992.5,1152.2 992.6,1133.3 992.6,1147.0 992.7,1134.4 992.8,1139.2 992.8,1133.4 992.9,1148.8 993.0,1136.3 993.0,1132.1 993.1,1142.6 993.1,1146.2 993.2,1137.1 993.3,1135.8 993.3,1142.8 993.4,1141.8 993.4,1133.9 993.5,1156.2 993.6,1138.4 993.6,1144.9 993.7,1141.1 993.7,1144.6 993.8,1143.4 993.9,1150.6 993.9,1163.7 994.0,1145.5 994.1,1145.3 994.1,1151.1 994.2,1145.2 994.2,1152.2 994.3,1147.6 994.4,1145.9 994.4,1143.4 994.5,1146.0 994.6,1140.7 994.6,1146.0 994.7,1150.1 994.7,1157.6 994.8,1142.3 994.9,1143.1 994.9,1163.1 995.0,1148.5 995.1,1146.8 995.1,1143.7 995.2,1150.1 995.2,1144.4 995.3,1133.4 995.4,1153.8 995.4,1138.5 995.5,1147.1 995.5,1151.3 995.6,1146.6 995.7,1146.5 995.7,1154.6 995.8,1144.7 995.9,1149.8 995.9,1148.8 996.0,1154.5 996.0,1141.6 996.1,1151.2 996.2,1145.7 996.2,1162.8 996.3,1150.9 996.4,1162.3 996.4,1143.4 996.5,1140.7 996.5,1146.4 996.6,1149.1 996.7,1141.4 996.7,1157.1 996.8,1154.7 996.9,1134.3 996.9,1154.4 997.0,1155.4 997.0,1159.2 997.1,1155.3 997.2,1151.0 997.2,1155.3 997.3,1158.7 997.4,1154.8 997.4,1156.7 997.5,1157.2 997.5,1148.5 997.6,1142.8 997.7,1161.3 997.7,1158.0" fill="none" stroke="#000" stroke-width="1.15" stroke-linejoin="bevel"/>
<rect x="629.6" y="915.7" width="368.19999999999993" height="254.70000000000005" fill="none" stroke="#1a1a1a" stroke-width="1.3"/>
<line x1="629.60" y1="1170.40" x2="629.60" y2="1176.40" stroke="#1a1a1a" stroke-width="1.3" />
<line x1="629.60" y1="915.70" x2="629.60" y2="909.70" stroke="#1a1a1a" stroke-width="1.3" />
<line x1="675.62" y1="1170.40" x2="675.62" y2="1173.90" stroke="#1a1a1a" stroke-width="1.3" />
<line x1="675.62" y1="915.70" x2="675.62" y2="912.20" stroke="#1a1a1a" stroke-width="1.3" />
<line x1="721.65" y1="1170.40" x2="721.65" y2="1176.40" stroke="#1a1a1a" stroke-width="1.3" />
<line x1="721.65" y1="915.70" x2="721.65" y2="909.70" stroke="#1a1a1a" stroke-width="1.3" />
<line x1="767.67" y1="1170.40" x2="767.67" y2="1173.90" stroke="#1a1a1a" stroke-width="1.3" />
<line x1="767.67" y1="915.70" x2="767.67" y2="912.20" stroke="#1a1a1a" stroke-width="1.3" />
<line x1="813.70" y1="1170.40" x2="813.70" y2="1176.40" stroke="#1a1a1a" stroke-width="1.3" />
<line x1="813.70" y1="915.70" x2="813.70" y2="909.70" stroke="#1a1a1a" stroke-width="1.3" />
<line x1="859.72" y1="1170.40" x2="859.72" y2="1173.90" stroke="#1a1a1a" stroke-width="1.3" />
<line x1="859.72" y1="915.70" x2="859.72" y2="912.20" stroke="#1a1a1a" stroke-width="1.3" />
<line x1="905.75" y1="1170.40" x2="905.75" y2="1176.40" stroke="#1a1a1a" stroke-width="1.3" />
<line x1="905.75" y1="915.70" x2="905.75" y2="909.70" stroke="#1a1a1a" stroke-width="1.3" />
<line x1="951.77" y1="1170.40" x2="951.77" y2="1173.90" stroke="#1a1a1a" stroke-width="1.3" />
<line x1="951.77" y1="915.70" x2="951.77" y2="912.20" stroke="#1a1a1a" stroke-width="1.3" />
<line x1="997.80" y1="1170.40" x2="997.80" y2="1176.40" stroke="#1a1a1a" stroke-width="1.3" />
<line x1="997.80" y1="915.70" x2="997.80" y2="909.70" stroke="#1a1a1a" stroke-width="1.3" />
<line x1="623.10" y1="1149.00" x2="629.60" y2="1149.00" stroke="#1a1a1a" stroke-width="1.3" />
<line x1="997.80" y1="1149.00" x2="1004.30" y2="1149.00" stroke="#1a1a1a" stroke-width="1.3" />
<line x1="626.10" y1="1112.50" x2="629.60" y2="1112.50" stroke="#1a1a1a" stroke-width="1.3" />
<line x1="997.80" y1="1112.50" x2="1001.30" y2="1112.50" stroke="#1a1a1a" stroke-width="1.3" />
<line x1="623.10" y1="1076.00" x2="629.60" y2="1076.00" stroke="#1a1a1a" stroke-width="1.3" />
<line x1="997.80" y1="1076.00" x2="1004.30" y2="1076.00" stroke="#1a1a1a" stroke-width="1.3" />
<line x1="626.10" y1="1039.50" x2="629.60" y2="1039.50" stroke="#1a1a1a" stroke-width="1.3" />
<line x1="997.80" y1="1039.50" x2="1001.30" y2="1039.50" stroke="#1a1a1a" stroke-width="1.3" />
<line x1="623.10" y1="1003.00" x2="629.60" y2="1003.00" stroke="#1a1a1a" stroke-width="1.3" />
<line x1="997.80" y1="1003.00" x2="1004.30" y2="1003.00" stroke="#1a1a1a" stroke-width="1.3" />
<line x1="626.10" y1="966.50" x2="629.60" y2="966.50" stroke="#1a1a1a" stroke-width="1.3" />
<line x1="997.80" y1="966.50" x2="1001.30" y2="966.50" stroke="#1a1a1a" stroke-width="1.3" />
<line x1="623.10" y1="930.00" x2="629.60" y2="930.00" stroke="#1a1a1a" stroke-width="1.3" />
<line x1="997.80" y1="930.00" x2="1004.30" y2="930.00" stroke="#1a1a1a" stroke-width="1.3" />
<text x="630.10" y="1209.00" font-size="30.5" fill="#000" text-anchor="middle" font-weight="normal" font-style="normal" font-family="Liberation Sans, sans-serif" >0</text>
<text x="722.15" y="1209.00" font-size="30.5" fill="#000" text-anchor="middle" font-weight="normal" font-style="normal" font-family="Liberation Sans, sans-serif" >1</text>
<text x="814.20" y="1209.00" font-size="30.5" fill="#000" text-anchor="middle" font-weight="normal" font-style="normal" font-family="Liberation Sans, sans-serif" >2</text>
<text x="906.25" y="1209.00" font-size="30.5" fill="#000" text-anchor="middle" font-weight="normal" font-style="normal" font-family="Liberation Sans, sans-serif" >3</text>
<text x="998.30" y="1209.00" font-size="30.5" fill="#000" text-anchor="middle" font-weight="normal" font-style="normal" font-family="Liberation Sans, sans-serif" >4</text>
<text x="617.50" y="1159.20" font-size="30.5" fill="#000" text-anchor="end" font-weight="normal" font-style="normal" font-family="Liberation Sans, sans-serif" >0</text>
<text x="617.50" y="1086.20" font-size="30.5" fill="#000" text-anchor="end" font-weight="normal" font-style="normal" font-family="Liberation Sans, sans-serif" >50</text>
<text x="617.50" y="1013.20" font-size="30.5" fill="#000" text-anchor="end" font-weight="normal" font-style="normal" font-family="Liberation Sans, sans-serif" >100</text>
<text x="617.50" y="940.20" font-size="30.5" fill="#000" text-anchor="end" font-weight="normal" font-style="normal" font-family="Liberation Sans, sans-serif" >150</text>
<text x="813.50" y="1241.00" font-size="29.7" fill="#000" text-anchor="middle" font-weight="normal" font-style="normal" font-family="Liberation Sans, sans-serif" >Time (s)</text>
<text transform="translate(557.5,1045.1) rotate(-90)" font-size="28.8" text-anchor="middle" font-family="Liberation Sans, sans-serif">Force (pN)</text>
</svg>
</body></html>
